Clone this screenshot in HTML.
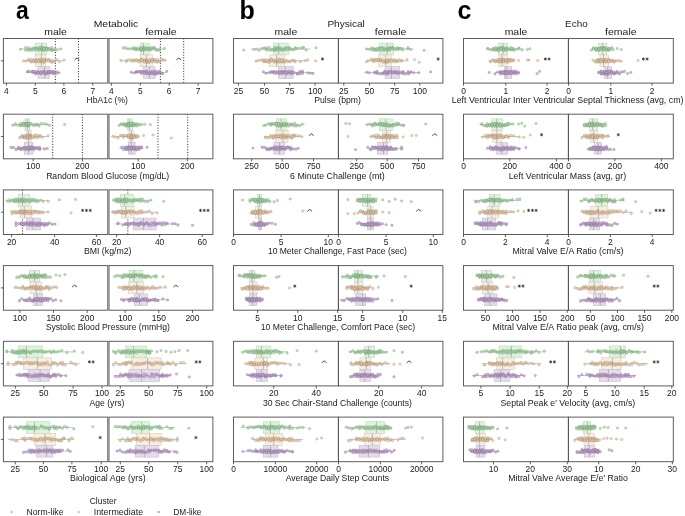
<!DOCTYPE html>
<html><head><meta charset="utf-8"><title>Figure</title>
<style>html,body{margin:0;padding:0;background:#fff;}body{width:685px;height:516px;overflow:hidden;font-family:"Liberation Sans", sans-serif;}svg{display:block;filter:blur(0.5px);}.d circle{r:1.2px;}.d{stroke-width:0.45px;fill-opacity:0.75;stroke-opacity:0.6;}</style>
</head><body>
<svg width="685" height="516" viewBox="0 0 685 516" font-family='"Liberation Sans", sans-serif'>
<rect width="685" height="516" fill="#ffffff"/>
<g>
<line x1="160.4" y1="38.5" x2="160.4" y2="83.1" stroke="#111" stroke-width="0.9" stroke-dasharray="1,1.7"/>
<line x1="183.7" y1="38.5" x2="183.7" y2="83.1" stroke="#111" stroke-width="0.9" stroke-dasharray="1,1.7"/>
<line x1="122.3" y1="49" x2="164.4" y2="49" stroke="#a0a0a0" stroke-width="0.6"/>
<rect x="140.3" y="43.1" width="8.9" height="11.8" fill="#dcf3dc" stroke="#bcd9bc" stroke-width="0.6"/>
<g fill="#a9d9a9" stroke="#6a866a" class="d">
<circle cx="141.3" cy="49.3"/>
<circle cx="141.1" cy="49.9"/>
<circle cx="154.2" cy="47.8"/>
<circle cx="133.3" cy="48.1"/>
<circle cx="159.5" cy="50.4"/>
<circle cx="143.8" cy="49.1"/>
<circle cx="141.5" cy="47.8"/>
<circle cx="144" cy="48.3"/>
<circle cx="149.1" cy="49.5"/>
<circle cx="123.1" cy="47.7"/>
<circle cx="154.1" cy="48.2"/>
<circle cx="136.1" cy="49.4"/>
<circle cx="146.4" cy="48.6"/>
<circle cx="141" cy="49.5"/>
<circle cx="133.7" cy="49.2"/>
<circle cx="143.8" cy="50.1"/>
<circle cx="144" cy="50.1"/>
<circle cx="143.7" cy="47.8"/>
<circle cx="130.6" cy="48.7"/>
<circle cx="135.9" cy="47.9"/>
<circle cx="128" cy="48.8"/>
<circle cx="144" cy="47.9"/>
<circle cx="151.6" cy="47.6"/>
<circle cx="164.4" cy="48.3"/>
<circle cx="149.2" cy="49.8"/>
<circle cx="138.5" cy="49.5"/>
<circle cx="141.3" cy="50.1"/>
<circle cx="154.5" cy="48.9"/>
<circle cx="133.7" cy="47.6"/>
<circle cx="135.9" cy="49.9"/>
<circle cx="151.4" cy="50.1"/>
<circle cx="141.4" cy="47.9"/>
<circle cx="146.7" cy="49.5"/>
<circle cx="125.6" cy="47.6"/>
<circle cx="159.3" cy="49.1"/>
<circle cx="146.4" cy="48.6"/>
<circle cx="146.3" cy="48.2"/>
<circle cx="148.8" cy="48.1"/>
<circle cx="151.5" cy="47.8"/>
<circle cx="143.9" cy="47.5"/>
<circle cx="141.4" cy="49.7"/>
<circle cx="138.5" cy="49.2"/>
<circle cx="149.2" cy="48.7"/>
<circle cx="156.6" cy="50.3"/>
<circle cx="148.8" cy="49.4"/>
<circle cx="141.2" cy="50"/>
<circle cx="146.7" cy="47.9"/>
<circle cx="154" cy="47.8"/>
<circle cx="146.5" cy="48.3"/>
<circle cx="141.1" cy="49.2"/>
<circle cx="156.7" cy="50"/>
<circle cx="141.2" cy="49.5"/>
<circle cx="138.7" cy="47.7"/>
<circle cx="143.9" cy="49.4"/>
</g>
<line x1="143.5" y1="43.1" x2="143.5" y2="54.9" stroke="#999" stroke-width="0.6"/>
<line x1="119.5" y1="60.8" x2="166.8" y2="60.8" stroke="#a0a0a0" stroke-width="0.6"/>
<rect x="140.3" y="54.9" width="12.1" height="11.8" fill="#f7ede1" stroke="#ddcdbb" stroke-width="0.6"/>
<g fill="#ecceab" stroke="#8f7c68" class="d">
<circle cx="159.8" cy="60.9"/>
<circle cx="162.3" cy="59.7"/>
<circle cx="157" cy="62.1"/>
<circle cx="131.4" cy="59.7"/>
<circle cx="136.7" cy="60.6"/>
<circle cx="149.4" cy="59.9"/>
<circle cx="152.2" cy="59.3"/>
<circle cx="131.5" cy="61.2"/>
<circle cx="144.3" cy="60.8"/>
<circle cx="152" cy="59.3"/>
<circle cx="154.4" cy="60.1"/>
<circle cx="146.8" cy="62.1"/>
<circle cx="154.5" cy="59.7"/>
<circle cx="144.3" cy="60.6"/>
<circle cx="157" cy="61.3"/>
<circle cx="136.3" cy="60"/>
<circle cx="134.1" cy="61.2"/>
<circle cx="133.9" cy="59.7"/>
<circle cx="136.6" cy="59.9"/>
<circle cx="152.1" cy="60.8"/>
<circle cx="149.4" cy="62.2"/>
<circle cx="154.8" cy="60.1"/>
<circle cx="149.3" cy="61.4"/>
<circle cx="146.9" cy="62.1"/>
<circle cx="159.6" cy="61.9"/>
<circle cx="144.3" cy="60"/>
<circle cx="147" cy="62.1"/>
<circle cx="144.4" cy="60.8"/>
<circle cx="128.5" cy="59.7"/>
<circle cx="141.9" cy="60.8"/>
<circle cx="146.6" cy="60"/>
<circle cx="141.7" cy="59.3"/>
<circle cx="146.9" cy="61.6"/>
<circle cx="149.3" cy="60.6"/>
<circle cx="139.2" cy="60.3"/>
<circle cx="157.3" cy="61.4"/>
<circle cx="162.3" cy="59.6"/>
<circle cx="121" cy="60.3"/>
<circle cx="126.3" cy="61.4"/>
<circle cx="141.5" cy="59.3"/>
<circle cx="126.3" cy="60.5"/>
<circle cx="144.4" cy="62"/>
<circle cx="141.5" cy="60.7"/>
<circle cx="138.9" cy="60.5"/>
<circle cx="154.6" cy="62"/>
<circle cx="149.3" cy="61.9"/>
<circle cx="146.7" cy="59.6"/>
<circle cx="141.7" cy="60.3"/>
<circle cx="139.1" cy="62"/>
<circle cx="157.4" cy="59.5"/>
<circle cx="149.3" cy="62.1"/>
<circle cx="164.8" cy="59.9"/>
<circle cx="152.3" cy="61.6"/>
<circle cx="144.3" cy="61.6"/>
</g>
<line x1="146.4" y1="54.9" x2="146.4" y2="66.7" stroke="#999" stroke-width="0.6"/>
<line x1="130.7" y1="72.6" x2="166.8" y2="72.6" stroke="#a0a0a0" stroke-width="0.6"/>
<rect x="143.2" y="66.7" width="11.9" height="11.8" fill="#e5dbeb" stroke="#cbbbd4" stroke-width="0.6"/>
<g fill="#c0a2cf" stroke="#7a6a84" class="d">
<circle cx="146.5" cy="71.1"/>
<circle cx="146.9" cy="72.2"/>
<circle cx="141.7" cy="71.5"/>
<circle cx="162.5" cy="73.3"/>
<circle cx="131.2" cy="72.2"/>
<circle cx="144.2" cy="71.5"/>
<circle cx="157" cy="71.4"/>
<circle cx="136.1" cy="71.6"/>
<circle cx="151.9" cy="72.5"/>
<circle cx="138.8" cy="71.3"/>
<circle cx="144.2" cy="72.6"/>
<circle cx="139" cy="71.8"/>
<circle cx="149.1" cy="73.9"/>
<circle cx="151.7" cy="71.7"/>
<circle cx="151.7" cy="73"/>
<circle cx="157.1" cy="73.7"/>
<circle cx="154.8" cy="74.1"/>
<circle cx="152" cy="72.1"/>
<circle cx="146.8" cy="73.9"/>
<circle cx="159.7" cy="73.3"/>
<circle cx="141.6" cy="71.3"/>
<circle cx="154.7" cy="74.1"/>
<circle cx="151.7" cy="73.8"/>
<circle cx="154.4" cy="71.3"/>
<circle cx="136.6" cy="72"/>
<circle cx="159.6" cy="72.1"/>
<circle cx="154.3" cy="73.3"/>
<circle cx="159.9" cy="71.7"/>
<circle cx="159.8" cy="71.8"/>
<circle cx="166.8" cy="71.2"/>
<circle cx="156.9" cy="73.9"/>
<circle cx="141.3" cy="73.5"/>
<circle cx="149.4" cy="72.5"/>
<circle cx="149.3" cy="73.5"/>
<circle cx="136.1" cy="72.2"/>
<circle cx="139.1" cy="71.7"/>
<circle cx="144.2" cy="72.6"/>
<circle cx="154.4" cy="71.3"/>
<circle cx="152" cy="71.9"/>
<circle cx="149.1" cy="72.7"/>
<circle cx="162.3" cy="73.7"/>
<circle cx="134" cy="72.9"/>
<circle cx="159.7" cy="71.4"/>
<circle cx="146.6" cy="71.9"/>
<circle cx="144.3" cy="72.9"/>
<circle cx="146.5" cy="71.2"/>
<circle cx="152" cy="72.9"/>
<circle cx="149.2" cy="73.3"/>
<circle cx="144.2" cy="72.8"/>
<circle cx="144.2" cy="72.6"/>
<circle cx="141.6" cy="72.3"/>
<circle cx="154.7" cy="73.9"/>
<circle cx="146.5" cy="73.1"/>
<circle cx="157" cy="72.9"/>
</g>
<line x1="149.5" y1="66.7" x2="149.5" y2="78.5" stroke="#999" stroke-width="0.6"/>
<polyline points="176.4,59.9 178.8,58 181.2,59.9" fill="none" stroke="#333" stroke-width="0.9" stroke-linejoin="round"/>
<rect x="109" y="38.5" width="103.9" height="44.6" fill="none" stroke="#555" stroke-width="0.95"/>
<line x1="111.4" y1="83.1" x2="111.4" y2="85.7" stroke="#2b2b2b" stroke-width="0.75"/>
<text x="111.4" y="93.5" text-anchor="middle" font-size="8.7" fill="#1a1a1a" textLength="4.7" lengthAdjust="spacingAndGlyphs">4</text>
<line x1="140.3" y1="83.1" x2="140.3" y2="85.7" stroke="#2b2b2b" stroke-width="0.75"/>
<text x="140.3" y="93.5" text-anchor="middle" font-size="8.7" fill="#1a1a1a" textLength="4.7" lengthAdjust="spacingAndGlyphs">5</text>
<line x1="169.2" y1="83.1" x2="169.2" y2="85.7" stroke="#2b2b2b" stroke-width="0.75"/>
<text x="169.2" y="93.5" text-anchor="middle" font-size="8.7" fill="#1a1a1a" textLength="4.7" lengthAdjust="spacingAndGlyphs">6</text>
<line x1="198.1" y1="83.1" x2="198.1" y2="85.7" stroke="#2b2b2b" stroke-width="0.75"/>
<text x="198.1" y="93.5" text-anchor="middle" font-size="8.7" fill="#1a1a1a" textLength="4.7" lengthAdjust="spacingAndGlyphs">7</text>
</g>
<g>
<line x1="158" y1="114.2" x2="158" y2="158.8" stroke="#111" stroke-width="0.9" stroke-dasharray="1,1.7"/>
<line x1="187.7" y1="114.2" x2="187.7" y2="158.8" stroke="#111" stroke-width="0.9" stroke-dasharray="1,1.7"/>
<line x1="119.1" y1="124.7" x2="141.9" y2="124.7" stroke="#a0a0a0" stroke-width="0.6"/>
<rect x="127.5" y="118.8" width="4.8" height="11.8" fill="#dcf3dc" stroke="#bcd9bc" stroke-width="0.6"/>
<g fill="#a9d9a9" stroke="#6a866a" class="d">
<circle cx="131.4" cy="125.3"/>
<circle cx="133.9" cy="125.2"/>
<circle cx="128.6" cy="124.1"/>
<circle cx="126" cy="124.5"/>
<circle cx="131.5" cy="125.3"/>
<circle cx="133.8" cy="123.4"/>
<circle cx="128.6" cy="125.5"/>
<circle cx="131.3" cy="125.5"/>
<circle cx="144.8" cy="124.3"/>
<circle cx="131.4" cy="123.2"/>
<circle cx="131.2" cy="125.1"/>
<circle cx="134.2" cy="126.1"/>
<circle cx="128.6" cy="123.8"/>
<circle cx="139.2" cy="125.1"/>
<circle cx="150.3" cy="124.6"/>
<circle cx="131.4" cy="124"/>
<circle cx="131.4" cy="125.3"/>
<circle cx="126.1" cy="125.6"/>
<circle cx="126.3" cy="124.8"/>
<circle cx="134" cy="124.1"/>
<circle cx="131.6" cy="123.4"/>
<circle cx="126.2" cy="125.1"/>
<circle cx="136.5" cy="125.6"/>
<circle cx="123.5" cy="124"/>
<circle cx="128.6" cy="124.4"/>
<circle cx="131.6" cy="124.7"/>
<circle cx="129" cy="123.9"/>
<circle cx="128.7" cy="124.8"/>
<circle cx="126" cy="126"/>
<circle cx="126.4" cy="123.5"/>
<circle cx="128.7" cy="124.1"/>
<circle cx="128.6" cy="124.8"/>
<circle cx="128.9" cy="123.4"/>
<circle cx="128.8" cy="124.3"/>
<circle cx="123.6" cy="124.9"/>
<circle cx="128.8" cy="124.6"/>
<circle cx="121.1" cy="123.9"/>
<circle cx="136.7" cy="123.8"/>
<circle cx="119.1" cy="125.5"/>
<circle cx="128.6" cy="124.9"/>
<circle cx="133.8" cy="123.4"/>
<circle cx="128.9" cy="126.1"/>
<circle cx="141.9" cy="124.4"/>
<circle cx="121.1" cy="124.2"/>
<circle cx="131.2" cy="123.3"/>
<circle cx="136.8" cy="124.3"/>
<circle cx="128.9" cy="125.7"/>
<circle cx="128.7" cy="124"/>
<circle cx="128.8" cy="124.5"/>
<circle cx="131.2" cy="125"/>
<circle cx="123.8" cy="124.3"/>
<circle cx="136.6" cy="125.9"/>
<circle cx="126.4" cy="126.1"/>
<circle cx="129.1" cy="123.5"/>
<circle cx="123.8" cy="123.8"/>
<circle cx="139.2" cy="124.2"/>
</g>
<line x1="129.4" y1="118.8" x2="129.4" y2="130.6" stroke="#999" stroke-width="0.6"/>
<line x1="111.4" y1="136.5" x2="138.7" y2="136.5" stroke="#a0a0a0" stroke-width="0.6"/>
<rect x="129.1" y="130.6" width="4" height="11.8" fill="#f7ede1" stroke="#ddcdbb" stroke-width="0.6"/>
<g fill="#ecceab" stroke="#8f7c68" class="d">
<circle cx="136.4" cy="135.7"/>
<circle cx="128.8" cy="135.7"/>
<circle cx="134.1" cy="135.9"/>
<circle cx="128.5" cy="136.3"/>
<circle cx="131.4" cy="137.7"/>
<circle cx="131.4" cy="135.4"/>
<circle cx="123.3" cy="135.8"/>
<circle cx="133.9" cy="137.7"/>
<circle cx="128.4" cy="136.9"/>
<circle cx="128.7" cy="137.3"/>
<circle cx="138.7" cy="136.5"/>
<circle cx="131.3" cy="137"/>
<circle cx="136.6" cy="137.3"/>
<circle cx="133.9" cy="135.3"/>
<circle cx="125.9" cy="135.7"/>
<circle cx="131.2" cy="136.2"/>
<circle cx="126.3" cy="135.6"/>
<circle cx="152.9" cy="135"/>
<circle cx="136.4" cy="136.2"/>
<circle cx="133.6" cy="137.8"/>
<circle cx="120.7" cy="135.4"/>
<circle cx="131.2" cy="135.1"/>
<circle cx="131.1" cy="137.4"/>
<circle cx="112.9" cy="136.3"/>
<circle cx="133.7" cy="136.4"/>
<circle cx="133.8" cy="135.4"/>
<circle cx="133.7" cy="136"/>
<circle cx="128.4" cy="135"/>
<circle cx="128.4" cy="136.5"/>
<circle cx="131.3" cy="136.4"/>
<circle cx="115.4" cy="136.9"/>
<circle cx="131" cy="136.7"/>
<circle cx="131" cy="138"/>
<circle cx="133.8" cy="137.5"/>
<circle cx="134" cy="136.9"/>
<circle cx="131.3" cy="137.8"/>
<circle cx="118.2" cy="138"/>
<circle cx="133.7" cy="135.2"/>
<circle cx="131.2" cy="135.5"/>
<circle cx="143.5" cy="135.5"/>
<circle cx="123.6" cy="137.3"/>
<circle cx="131.3" cy="135.2"/>
<circle cx="131.1" cy="138"/>
<circle cx="131.4" cy="136.2"/>
<circle cx="123.3" cy="135.7"/>
<circle cx="121" cy="135.7"/>
<circle cx="123.3" cy="135.8"/>
<circle cx="131.4" cy="137"/>
<circle cx="131.4" cy="137.4"/>
<circle cx="128.7" cy="135.3"/>
<circle cx="171.3" cy="138"/>
<circle cx="136.6" cy="137"/>
<circle cx="134" cy="137.4"/>
<circle cx="136.6" cy="135.6"/>
<circle cx="131.2" cy="135.1"/>
<circle cx="128.7" cy="137.5"/>
<circle cx="131.4" cy="136.2"/>
</g>
<line x1="131.2" y1="130.6" x2="131.2" y2="142.4" stroke="#999" stroke-width="0.6"/>
<line x1="121" y1="148.3" x2="142.7" y2="148.3" stroke="#a0a0a0" stroke-width="0.6"/>
<rect x="128.3" y="142.4" width="6.9" height="11.8" fill="#e5dbeb" stroke="#cbbbd4" stroke-width="0.6"/>
<g fill="#c0a2cf" stroke="#7a6a84" class="d">
<circle cx="139.1" cy="149.3"/>
<circle cx="131.5" cy="147.2"/>
<circle cx="128.5" cy="146.8"/>
<circle cx="134.1" cy="147.3"/>
<circle cx="131.3" cy="147.5"/>
<circle cx="131.1" cy="148.7"/>
<circle cx="126.1" cy="147.3"/>
<circle cx="139.2" cy="147"/>
<circle cx="128.5" cy="149.3"/>
<circle cx="133.8" cy="146.9"/>
<circle cx="121" cy="147.6"/>
<circle cx="128.5" cy="147.9"/>
<circle cx="128.5" cy="147.5"/>
<circle cx="128.5" cy="147.2"/>
<circle cx="126" cy="149.4"/>
<circle cx="128.9" cy="147.5"/>
<circle cx="134" cy="148.2"/>
<circle cx="128.7" cy="148.6"/>
<circle cx="133.8" cy="149"/>
<circle cx="126.3" cy="147.3"/>
<circle cx="134.1" cy="149"/>
<circle cx="126.1" cy="147.9"/>
<circle cx="139.3" cy="148.1"/>
<circle cx="131.5" cy="149"/>
<circle cx="131.4" cy="146.8"/>
<circle cx="131.4" cy="148.3"/>
<circle cx="128.8" cy="148.2"/>
<circle cx="136.7" cy="147.4"/>
<circle cx="131.2" cy="148.7"/>
<circle cx="131.5" cy="146.9"/>
<circle cx="141.9" cy="147.8"/>
<circle cx="136.4" cy="149.5"/>
<circle cx="126.4" cy="148.7"/>
<circle cx="134.1" cy="148.9"/>
<circle cx="128.8" cy="147.7"/>
<circle cx="128.7" cy="148.3"/>
<circle cx="126.1" cy="149.4"/>
<circle cx="131.1" cy="148.7"/>
<circle cx="136.3" cy="147.6"/>
<circle cx="134" cy="148.9"/>
<circle cx="128.8" cy="149.7"/>
<circle cx="131.4" cy="148"/>
<circle cx="133.7" cy="147.5"/>
<circle cx="136.4" cy="149.4"/>
<circle cx="139.2" cy="148.8"/>
<circle cx="125.9" cy="148.4"/>
<circle cx="139.1" cy="147.7"/>
<circle cx="141.5" cy="146.9"/>
<circle cx="133.9" cy="148.1"/>
<circle cx="136.5" cy="147.6"/>
<circle cx="136.6" cy="149.6"/>
<circle cx="126.3" cy="147.6"/>
<circle cx="123.3" cy="149.6"/>
<circle cx="147" cy="147.2"/>
<circle cx="123.4" cy="146.9"/>
</g>
<line x1="131.2" y1="142.4" x2="131.2" y2="154.2" stroke="#999" stroke-width="0.6"/>
<rect x="109" y="114.2" width="103.9" height="44.6" fill="none" stroke="#555" stroke-width="0.95"/>
<line x1="138.2" y1="158.8" x2="138.2" y2="161.4" stroke="#2b2b2b" stroke-width="0.75"/>
<text x="138.2" y="169.2" text-anchor="middle" font-size="8.7" fill="#1a1a1a" textLength="14.2" lengthAdjust="spacingAndGlyphs">100</text>
<line x1="187.4" y1="158.8" x2="187.4" y2="161.4" stroke="#2b2b2b" stroke-width="0.75"/>
<text x="187.4" y="169.2" text-anchor="middle" font-size="8.7" fill="#1a1a1a" textLength="14.2" lengthAdjust="spacingAndGlyphs">200</text>
</g>
<g>
<line x1="127.8" y1="189.9" x2="127.8" y2="234.5" stroke="#111" stroke-width="0.9" stroke-dasharray="1,1.7"/>
<line x1="112.7" y1="200.4" x2="152.4" y2="200.4" stroke="#a0a0a0" stroke-width="0.6"/>
<rect x="120.3" y="194.5" width="13.1" height="11.8" fill="#dcf3dc" stroke="#bcd9bc" stroke-width="0.6"/>
<g fill="#a9d9a9" stroke="#6a866a" class="d">
<circle cx="147.8" cy="201.8"/>
<circle cx="137.3" cy="200.2"/>
<circle cx="114.2" cy="200"/>
<circle cx="124.3" cy="199.5"/>
<circle cx="119.1" cy="201"/>
<circle cx="132.3" cy="201.6"/>
<circle cx="121.8" cy="201.2"/>
<circle cx="137.5" cy="200.1"/>
<circle cx="126.8" cy="201.8"/>
<circle cx="129.7" cy="200.3"/>
<circle cx="127.1" cy="199.2"/>
<circle cx="119" cy="200.8"/>
<circle cx="119.1" cy="201.7"/>
<circle cx="119.3" cy="200"/>
<circle cx="121.9" cy="200.9"/>
<circle cx="127.1" cy="200.2"/>
<circle cx="119.2" cy="201.6"/>
<circle cx="119.4" cy="201"/>
<circle cx="124.3" cy="201.8"/>
<circle cx="163.6" cy="201.2"/>
<circle cx="140.3" cy="199"/>
<circle cx="142.6" cy="201.1"/>
<circle cx="121.7" cy="201.6"/>
<circle cx="127" cy="201.9"/>
<circle cx="121.9" cy="201.1"/>
<circle cx="116.6" cy="199.6"/>
<circle cx="150.5" cy="200.1"/>
<circle cx="135" cy="201.1"/>
<circle cx="116.9" cy="198.9"/>
<circle cx="132.4" cy="200.2"/>
<circle cx="127" cy="199"/>
<circle cx="129.8" cy="201"/>
<circle cx="129.7" cy="200.1"/>
<circle cx="137.6" cy="199.5"/>
<circle cx="121.7" cy="199.4"/>
<circle cx="119.4" cy="199"/>
<circle cx="116.6" cy="201.3"/>
<circle cx="139.8" cy="201.3"/>
<circle cx="132.3" cy="200.2"/>
<circle cx="145.3" cy="201.4"/>
<circle cx="134.9" cy="199.2"/>
<circle cx="124.4" cy="199.4"/>
<circle cx="116.4" cy="199.5"/>
<circle cx="113.8" cy="200.2"/>
<circle cx="142.6" cy="199.2"/>
<circle cx="124.2" cy="199.7"/>
<circle cx="124.5" cy="201.4"/>
<circle cx="121.8" cy="200.5"/>
<circle cx="121.8" cy="201.6"/>
<circle cx="116.4" cy="201.4"/>
<circle cx="134.9" cy="200.3"/>
<circle cx="124.2" cy="200.3"/>
<circle cx="132.3" cy="201.5"/>
<circle cx="140.2" cy="200.1"/>
<circle cx="119.2" cy="200"/>
</g>
<line x1="124.6" y1="194.5" x2="124.6" y2="206.3" stroke="#999" stroke-width="0.6"/>
<line x1="111.4" y1="212.2" x2="157.2" y2="212.2" stroke="#a0a0a0" stroke-width="0.6"/>
<rect x="121.5" y="206.3" width="12.7" height="11.8" fill="#f7ede1" stroke="#ddcdbb" stroke-width="0.6"/>
<g fill="#ecceab" stroke="#8f7c68" class="d">
<circle cx="141.6" cy="212.8"/>
<circle cx="120.9" cy="212.5"/>
<circle cx="115.6" cy="211.9"/>
<circle cx="123.4" cy="212.4"/>
<circle cx="125.9" cy="212"/>
<circle cx="134" cy="212.1"/>
<circle cx="139" cy="211"/>
<circle cx="152.1" cy="213.7"/>
<circle cx="123.3" cy="212.5"/>
<circle cx="123.4" cy="213.7"/>
<circle cx="123.3" cy="211.7"/>
<circle cx="120.9" cy="212.6"/>
<circle cx="133.6" cy="212.2"/>
<circle cx="136.2" cy="212.6"/>
<circle cx="128.8" cy="211.7"/>
<circle cx="131.3" cy="211.9"/>
<circle cx="131.2" cy="211"/>
<circle cx="121" cy="212.7"/>
<circle cx="128.6" cy="211.1"/>
<circle cx="131.4" cy="211.1"/>
<circle cx="123.5" cy="211.6"/>
<circle cx="141.5" cy="210.8"/>
<circle cx="115.4" cy="213.4"/>
<circle cx="115.7" cy="211.7"/>
<circle cx="126" cy="213"/>
<circle cx="123.3" cy="211.8"/>
<circle cx="125.8" cy="210.9"/>
<circle cx="126.3" cy="213.1"/>
<circle cx="128.6" cy="211.7"/>
<circle cx="157.1" cy="213"/>
<circle cx="128.5" cy="211.7"/>
<circle cx="121.1" cy="211"/>
<circle cx="126.2" cy="212.4"/>
<circle cx="120.7" cy="212"/>
<circle cx="123.7" cy="212.8"/>
<circle cx="113" cy="212.2"/>
<circle cx="144.3" cy="212.3"/>
<circle cx="118.4" cy="211.3"/>
<circle cx="147" cy="212"/>
<circle cx="141.7" cy="212.4"/>
<circle cx="149.4" cy="210.9"/>
<circle cx="118.1" cy="212.5"/>
<circle cx="136.3" cy="212.7"/>
<circle cx="138.8" cy="213.3"/>
<circle cx="125.8" cy="212.7"/>
<circle cx="113.2" cy="211.8"/>
<circle cx="133.8" cy="211.2"/>
<circle cx="118.4" cy="211.3"/>
<circle cx="120.8" cy="211.4"/>
<circle cx="128.4" cy="211.6"/>
<circle cx="136.5" cy="213.3"/>
<circle cx="118.3" cy="211.8"/>
<circle cx="118.3" cy="211.3"/>
<circle cx="131" cy="213.7"/>
</g>
<line x1="125.9" y1="206.3" x2="125.9" y2="218.1" stroke="#999" stroke-width="0.6"/>
<line x1="115" y1="224" x2="179.7" y2="224" stroke="#a0a0a0" stroke-width="0.6"/>
<rect x="133.4" y="218.1" width="22.7" height="11.8" fill="#e5dbeb" stroke="#cbbbd4" stroke-width="0.6"/>
<g fill="#c0a2cf" stroke="#7a6a84" class="d">
<circle cx="144" cy="225.1"/>
<circle cx="148.8" cy="223.9"/>
<circle cx="157" cy="224"/>
<circle cx="138.4" cy="223.7"/>
<circle cx="125.8" cy="223.9"/>
<circle cx="175" cy="223.7"/>
<circle cx="154" cy="222.6"/>
<circle cx="136" cy="224.1"/>
<circle cx="130.7" cy="223.3"/>
<circle cx="167.3" cy="223.8"/>
<circle cx="143.7" cy="224.2"/>
<circle cx="154.3" cy="224"/>
<circle cx="146.5" cy="222.8"/>
<circle cx="136.2" cy="224.2"/>
<circle cx="117.9" cy="223.9"/>
<circle cx="151.5" cy="225.5"/>
<circle cx="192.5" cy="225.2"/>
<circle cx="138.7" cy="225.5"/>
<circle cx="133.3" cy="222.9"/>
<circle cx="159.5" cy="223"/>
<circle cx="141.1" cy="222.8"/>
<circle cx="156.7" cy="223.2"/>
<circle cx="161.8" cy="225.3"/>
<circle cx="136" cy="223.7"/>
<circle cx="151.7" cy="222.9"/>
<circle cx="141.1" cy="222.7"/>
<circle cx="125.7" cy="224.5"/>
<circle cx="157" cy="224.6"/>
<circle cx="149.2" cy="224.2"/>
<circle cx="148.9" cy="225.3"/>
<circle cx="167" cy="223.1"/>
<circle cx="130.8" cy="223.6"/>
<circle cx="177.8" cy="225.3"/>
<circle cx="128" cy="223"/>
<circle cx="146.3" cy="222.6"/>
<circle cx="164.6" cy="222.8"/>
<circle cx="138.8" cy="224.3"/>
<circle cx="138.6" cy="224.1"/>
<circle cx="159.6" cy="223.6"/>
<circle cx="164.6" cy="224.7"/>
<circle cx="118.1" cy="222.9"/>
<circle cx="141.1" cy="224"/>
<circle cx="128.3" cy="225.1"/>
<circle cx="144" cy="224"/>
<circle cx="128.3" cy="225.4"/>
<circle cx="141.2" cy="223.3"/>
<circle cx="154.4" cy="225.1"/>
<circle cx="125.7" cy="223.5"/>
<circle cx="133.7" cy="223"/>
<circle cx="130.7" cy="223.9"/>
<circle cx="122.9" cy="224.9"/>
<circle cx="172.4" cy="223.6"/>
<circle cx="133.6" cy="224.8"/>
<circle cx="162.2" cy="222.7"/>
<circle cx="146.4" cy="223.9"/>
</g>
<line x1="143.5" y1="218.1" x2="143.5" y2="229.9" stroke="#999" stroke-width="0.6"/>
<path d="M200.5 208.8v3.2M199.1 209.6l2.8 1.6M199.1 211.2l2.8 -1.6" stroke="#2a2a2a" stroke-width="0.75" fill="none"/>
<path d="M204.2 208.8v3.2M202.8 209.6l2.8 1.6M202.8 211.2l2.8 -1.6" stroke="#2a2a2a" stroke-width="0.75" fill="none"/>
<path d="M208 208.8v3.2M206.6 209.6l2.8 1.6M206.6 211.2l2.8 -1.6" stroke="#2a2a2a" stroke-width="0.75" fill="none"/>
<rect x="109" y="189.9" width="103.9" height="44.6" fill="none" stroke="#555" stroke-width="0.95"/>
<line x1="116.6" y1="234.5" x2="116.6" y2="237.1" stroke="#2b2b2b" stroke-width="0.75"/>
<text x="116.6" y="244.9" text-anchor="middle" font-size="8.7" fill="#1a1a1a" textLength="9.4" lengthAdjust="spacingAndGlyphs">20</text>
<line x1="159.6" y1="234.5" x2="159.6" y2="237.1" stroke="#2b2b2b" stroke-width="0.75"/>
<text x="159.6" y="244.9" text-anchor="middle" font-size="8.7" fill="#1a1a1a" textLength="9.4" lengthAdjust="spacingAndGlyphs">40</text>
<line x1="202.2" y1="234.5" x2="202.2" y2="237.1" stroke="#2b2b2b" stroke-width="0.75"/>
<text x="202.2" y="244.9" text-anchor="middle" font-size="8.7" fill="#1a1a1a" textLength="9.4" lengthAdjust="spacingAndGlyphs">60</text>
</g>
<g>
<line x1="114.3" y1="276.1" x2="158" y2="276.1" stroke="#a0a0a0" stroke-width="0.6"/>
<rect x="129.1" y="270.2" width="13.6" height="11.8" fill="#dcf3dc" stroke="#bcd9bc" stroke-width="0.6"/>
<g fill="#a9d9a9" stroke="#6a866a" class="d">
<circle cx="145.8" cy="277"/>
<circle cx="116.9" cy="275.5"/>
<circle cx="132.4" cy="275.2"/>
<circle cx="135.3" cy="274.8"/>
<circle cx="132.7" cy="277.1"/>
<circle cx="137.5" cy="274.9"/>
<circle cx="132.5" cy="276.2"/>
<circle cx="140.3" cy="275.5"/>
<circle cx="148.1" cy="276.2"/>
<circle cx="132.5" cy="276.8"/>
<circle cx="127.1" cy="276.5"/>
<circle cx="127.5" cy="275.2"/>
<circle cx="143.2" cy="277"/>
<circle cx="135.2" cy="276.2"/>
<circle cx="132.5" cy="275.1"/>
<circle cx="140.5" cy="275.1"/>
<circle cx="143.1" cy="276.2"/>
<circle cx="140.1" cy="275"/>
<circle cx="124.8" cy="275.2"/>
<circle cx="140.3" cy="275"/>
<circle cx="135.4" cy="275.3"/>
<circle cx="129.8" cy="275.3"/>
<circle cx="127.6" cy="275.3"/>
<circle cx="145.4" cy="275.6"/>
<circle cx="148" cy="275.9"/>
<circle cx="156.1" cy="277.3"/>
<circle cx="134.9" cy="275.4"/>
<circle cx="122" cy="277.3"/>
<circle cx="145.7" cy="277.2"/>
<circle cx="156" cy="275.4"/>
<circle cx="130" cy="277.1"/>
<circle cx="122.3" cy="275.5"/>
<circle cx="163.1" cy="276.7"/>
<circle cx="137.6" cy="274.7"/>
<circle cx="122.4" cy="277.4"/>
<circle cx="148.1" cy="276.1"/>
<circle cx="127.2" cy="275.2"/>
<circle cx="132.6" cy="274.6"/>
<circle cx="130.1" cy="276.1"/>
<circle cx="145.6" cy="277.5"/>
<circle cx="130.1" cy="276.1"/>
<circle cx="150.6" cy="277.5"/>
<circle cx="129.8" cy="274.8"/>
<circle cx="135.4" cy="276.1"/>
<circle cx="114.5" cy="276.6"/>
<circle cx="137.8" cy="276.2"/>
<circle cx="124.6" cy="274.6"/>
<circle cx="129.9" cy="276.8"/>
<circle cx="124.5" cy="277.1"/>
<circle cx="143.1" cy="275.1"/>
<circle cx="119.4" cy="275.7"/>
<circle cx="153.6" cy="276.5"/>
<circle cx="140.1" cy="277.2"/>
<circle cx="143.2" cy="275.8"/>
<circle cx="130.1" cy="275.6"/>
</g>
<line x1="134.2" y1="270.2" x2="134.2" y2="282" stroke="#999" stroke-width="0.6"/>
<line x1="118.7" y1="287.9" x2="166.8" y2="287.9" stroke="#a0a0a0" stroke-width="0.6"/>
<rect x="128.6" y="282" width="14.9" height="11.8" fill="#f7ede1" stroke="#ddcdbb" stroke-width="0.6"/>
<g fill="#ecceab" stroke="#8f7c68" class="d">
<circle cx="126.6" cy="288.9"/>
<circle cx="144.8" cy="288.5"/>
<circle cx="129" cy="288.8"/>
<circle cx="147.3" cy="288.2"/>
<circle cx="152.5" cy="286.4"/>
<circle cx="134.2" cy="286.7"/>
<circle cx="126.2" cy="287.1"/>
<circle cx="139.3" cy="288.1"/>
<circle cx="160" cy="286.9"/>
<circle cx="131.6" cy="289.3"/>
<circle cx="152.6" cy="288.2"/>
<circle cx="123.9" cy="286.9"/>
<circle cx="134.1" cy="288.8"/>
<circle cx="149.7" cy="288.8"/>
<circle cx="142" cy="288.3"/>
<circle cx="144.4" cy="287.3"/>
<circle cx="142.2" cy="289.3"/>
<circle cx="134.1" cy="286.9"/>
<circle cx="136.7" cy="289"/>
<circle cx="154.9" cy="288.4"/>
<circle cx="139.3" cy="289.3"/>
<circle cx="139.4" cy="288"/>
<circle cx="137" cy="287"/>
<circle cx="131.6" cy="287.6"/>
<circle cx="136.8" cy="287.9"/>
<circle cx="126.3" cy="287.8"/>
<circle cx="121.2" cy="287.6"/>
<circle cx="150" cy="288.3"/>
<circle cx="157.8" cy="288.2"/>
<circle cx="131.6" cy="288.6"/>
<circle cx="129.2" cy="286.8"/>
<circle cx="129.1" cy="288.7"/>
<circle cx="154.8" cy="287.9"/>
<circle cx="123.7" cy="289.4"/>
<circle cx="124" cy="287.8"/>
<circle cx="141.8" cy="287.4"/>
<circle cx="123.5" cy="287.5"/>
<circle cx="165.2" cy="286.7"/>
<circle cx="131.6" cy="288.8"/>
<circle cx="134.2" cy="287.8"/>
<circle cx="128.7" cy="288.7"/>
<circle cx="126.5" cy="286.9"/>
<circle cx="131.5" cy="288.1"/>
<circle cx="141.9" cy="288"/>
<circle cx="147.2" cy="287"/>
<circle cx="118.7" cy="287.2"/>
<circle cx="144.8" cy="289.1"/>
<circle cx="123.7" cy="288.1"/>
<circle cx="137" cy="286.5"/>
<circle cx="142.2" cy="288"/>
<circle cx="139.5" cy="288.1"/>
<circle cx="139.3" cy="287.5"/>
<circle cx="139.4" cy="286.7"/>
<circle cx="126.3" cy="288.5"/>
</g>
<line x1="136.8" y1="282" x2="136.8" y2="293.8" stroke="#999" stroke-width="0.6"/>
<line x1="120.3" y1="299.7" x2="167.6" y2="299.7" stroke="#a0a0a0" stroke-width="0.6"/>
<rect x="134.4" y="293.8" width="13.2" height="11.8" fill="#e5dbeb" stroke="#cbbbd4" stroke-width="0.6"/>
<g fill="#c0a2cf" stroke="#7a6a84" class="d">
<circle cx="155.2" cy="299.3"/>
<circle cx="147.4" cy="301"/>
<circle cx="139.4" cy="300.4"/>
<circle cx="136.8" cy="300.9"/>
<circle cx="144.6" cy="299.1"/>
<circle cx="123.7" cy="300.8"/>
<circle cx="139.5" cy="300.8"/>
<circle cx="134.4" cy="300"/>
<circle cx="137" cy="299.4"/>
<circle cx="139.8" cy="300.7"/>
<circle cx="142.4" cy="298.8"/>
<circle cx="123.8" cy="299.4"/>
<circle cx="147.4" cy="298.9"/>
<circle cx="129.4" cy="299.9"/>
<circle cx="144.7" cy="300.1"/>
<circle cx="149.9" cy="300.6"/>
<circle cx="150.2" cy="300.3"/>
<circle cx="129.1" cy="299.3"/>
<circle cx="144.8" cy="300.1"/>
<circle cx="136.8" cy="300.5"/>
<circle cx="136.8" cy="298.3"/>
<circle cx="157.8" cy="300.3"/>
<circle cx="131.6" cy="298.6"/>
<circle cx="139.6" cy="300.1"/>
<circle cx="167.6" cy="299.9"/>
<circle cx="137.1" cy="298.3"/>
<circle cx="129.1" cy="300.8"/>
<circle cx="134.3" cy="298.8"/>
<circle cx="147.5" cy="300.2"/>
<circle cx="152.8" cy="300.1"/>
<circle cx="121.3" cy="299.4"/>
<circle cx="142.4" cy="299.4"/>
<circle cx="152.8" cy="299.5"/>
<circle cx="142.3" cy="300.3"/>
<circle cx="141.9" cy="300.3"/>
<circle cx="144.9" cy="298.7"/>
<circle cx="131.6" cy="298.3"/>
<circle cx="136.8" cy="300.8"/>
<circle cx="134.3" cy="298.9"/>
<circle cx="129.2" cy="301.1"/>
<circle cx="139.4" cy="300.7"/>
<circle cx="150.1" cy="300"/>
<circle cx="137.1" cy="300.6"/>
<circle cx="157.8" cy="300.8"/>
<circle cx="126.7" cy="299.4"/>
<circle cx="155.1" cy="299.3"/>
<circle cx="137" cy="299.6"/>
<circle cx="162.9" cy="298.8"/>
<circle cx="134.4" cy="301.1"/>
<circle cx="147.4" cy="301"/>
<circle cx="155.2" cy="300.8"/>
<circle cx="131.8" cy="300.6"/>
<circle cx="144.8" cy="298.9"/>
<circle cx="134.3" cy="300.6"/>
</g>
<line x1="139.5" y1="293.8" x2="139.5" y2="305.6" stroke="#999" stroke-width="0.6"/>
<polyline points="173.5,287 175.9,285.1 178.3,287" fill="none" stroke="#333" stroke-width="0.9" stroke-linejoin="round"/>
<rect x="109" y="265.6" width="103.9" height="44.6" fill="none" stroke="#555" stroke-width="0.95"/>
<line x1="125.1" y1="310.3" x2="125.1" y2="312.9" stroke="#2b2b2b" stroke-width="0.75"/>
<text x="125.1" y="320.7" text-anchor="middle" font-size="8.7" fill="#1a1a1a" textLength="14.2" lengthAdjust="spacingAndGlyphs">100</text>
<line x1="158.8" y1="310.3" x2="158.8" y2="312.9" stroke="#2b2b2b" stroke-width="0.75"/>
<text x="158.8" y="320.7" text-anchor="middle" font-size="8.7" fill="#1a1a1a" textLength="14.2" lengthAdjust="spacingAndGlyphs">150</text>
<line x1="192.5" y1="310.3" x2="192.5" y2="312.9" stroke="#2b2b2b" stroke-width="0.75"/>
<text x="192.5" y="320.7" text-anchor="middle" font-size="8.7" fill="#1a1a1a" textLength="14.2" lengthAdjust="spacingAndGlyphs">200</text>
</g>
<g>
<line x1="112.2" y1="351.9" x2="151.6" y2="351.9" stroke="#a0a0a0" stroke-width="0.6"/>
<rect x="125.6" y="346" width="20.8" height="11.8" fill="#dcf3dc" stroke="#bcd9bc" stroke-width="0.6"/>
<g fill="#a9d9a9" stroke="#6a866a" class="d">
<circle cx="149.5" cy="353.2"/>
<circle cx="128.8" cy="353.1"/>
<circle cx="175" cy="351.6"/>
<circle cx="131.3" cy="351"/>
<circle cx="133.9" cy="350.8"/>
<circle cx="128.6" cy="352.5"/>
<circle cx="123.6" cy="352.5"/>
<circle cx="149.5" cy="352.9"/>
<circle cx="121.1" cy="351.8"/>
<circle cx="149.4" cy="352.4"/>
<circle cx="179" cy="350.5"/>
<circle cx="141.8" cy="351.3"/>
<circle cx="146.7" cy="352.1"/>
<circle cx="149.6" cy="350.8"/>
<circle cx="144.3" cy="350.8"/>
<circle cx="136.2" cy="350.4"/>
<circle cx="147.1" cy="351.4"/>
<circle cx="126" cy="352.2"/>
<circle cx="120.9" cy="353.2"/>
<circle cx="171" cy="352.2"/>
<circle cx="151.6" cy="350.9"/>
<circle cx="149.5" cy="352.9"/>
<circle cx="146.8" cy="351.1"/>
<circle cx="115.6" cy="353.2"/>
<circle cx="136.2" cy="352.8"/>
<circle cx="166" cy="351.5"/>
<circle cx="133.6" cy="352.2"/>
<circle cx="187.7" cy="350.5"/>
<circle cx="128.5" cy="350.5"/>
<circle cx="123.4" cy="350.8"/>
<circle cx="118.3" cy="350.5"/>
<circle cx="141.7" cy="350.6"/>
<circle cx="115.6" cy="352.1"/>
<circle cx="139.1" cy="351.8"/>
<circle cx="157" cy="351.8"/>
<circle cx="139.1" cy="350.8"/>
<circle cx="139.1" cy="351.6"/>
<circle cx="147.1" cy="351"/>
<circle cx="126.1" cy="351.4"/>
<circle cx="149.6" cy="352.6"/>
<circle cx="125.9" cy="353.1"/>
<circle cx="113.3" cy="351.3"/>
<circle cx="131.3" cy="352.2"/>
<circle cx="131.2" cy="353.3"/>
<circle cx="123.3" cy="352.6"/>
<circle cx="131.1" cy="350.8"/>
<circle cx="146.7" cy="351.7"/>
<circle cx="161" cy="350.6"/>
<circle cx="141.7" cy="351.6"/>
<circle cx="126.3" cy="351.9"/>
<circle cx="146.7" cy="352.6"/>
<circle cx="120.8" cy="352.6"/>
<circle cx="133.6" cy="352.5"/>
<circle cx="123.3" cy="351.2"/>
<circle cx="146.7" cy="352.4"/>
<circle cx="121" cy="351.3"/>
<circle cx="128.6" cy="350.5"/>
<circle cx="136.3" cy="352.5"/>
<circle cx="126.2" cy="350.7"/>
<circle cx="144.3" cy="352.3"/>
<circle cx="146.7" cy="352.9"/>
</g>
<line x1="133.6" y1="346" x2="133.6" y2="357.8" stroke="#999" stroke-width="0.6"/>
<line x1="112.2" y1="363.7" x2="186.9" y2="363.7" stroke="#a0a0a0" stroke-width="0.6"/>
<rect x="131.2" y="357.8" width="30" height="11.8" fill="#f7ede1" stroke="#ddcdbb" stroke-width="0.6"/>
<g fill="#ecceab" stroke="#8f7c68" class="d">
<circle cx="152" cy="363.9"/>
<circle cx="162.8" cy="364"/>
<circle cx="167.9" cy="363.4"/>
<circle cx="128.7" cy="362.2"/>
<circle cx="126.3" cy="362.4"/>
<circle cx="115.7" cy="362.6"/>
<circle cx="162.8" cy="364.8"/>
<circle cx="123.8" cy="363.3"/>
<circle cx="170.4" cy="363.9"/>
<circle cx="136.7" cy="363.2"/>
<circle cx="167.7" cy="362.3"/>
<circle cx="146.8" cy="362.2"/>
<circle cx="131.5" cy="363"/>
<circle cx="173" cy="362.2"/>
<circle cx="175.7" cy="364.3"/>
<circle cx="144.3" cy="362.9"/>
<circle cx="175.6" cy="365.1"/>
<circle cx="149.5" cy="362.7"/>
<circle cx="167.7" cy="363.1"/>
<circle cx="131.6" cy="362.3"/>
<circle cx="126.1" cy="364.8"/>
<circle cx="144.6" cy="363.6"/>
<circle cx="170.2" cy="364"/>
<circle cx="128.7" cy="362.2"/>
<circle cx="139.3" cy="363.1"/>
<circle cx="120.8" cy="364.6"/>
<circle cx="134" cy="365"/>
<circle cx="152.4" cy="363.9"/>
<circle cx="113.4" cy="365"/>
<circle cx="126" cy="362.7"/>
<circle cx="123.5" cy="363.6"/>
<circle cx="154.7" cy="364.5"/>
<circle cx="183.5" cy="362.4"/>
<circle cx="136.8" cy="364.5"/>
<circle cx="149.5" cy="363.1"/>
<circle cx="139.3" cy="364.8"/>
<circle cx="118.6" cy="364.6"/>
<circle cx="152.2" cy="365"/>
<circle cx="136.4" cy="363.8"/>
<circle cx="160.1" cy="362.7"/>
<circle cx="131.4" cy="362.9"/>
<circle cx="141.9" cy="363.7"/>
<circle cx="157.2" cy="362.6"/>
<circle cx="159.9" cy="364"/>
<circle cx="162.4" cy="362.7"/>
<circle cx="126.2" cy="363.9"/>
<circle cx="157.6" cy="363"/>
<circle cx="157.5" cy="362.8"/>
<circle cx="165.4" cy="364.1"/>
<circle cx="155" cy="362.4"/>
<circle cx="141.7" cy="363.8"/>
<circle cx="149.6" cy="363.5"/>
<circle cx="144.2" cy="363.2"/>
<circle cx="180.6" cy="362.6"/>
</g>
<line x1="147.6" y1="357.8" x2="147.6" y2="369.6" stroke="#999" stroke-width="0.6"/>
<line x1="113.8" y1="375.5" x2="170.8" y2="375.5" stroke="#a0a0a0" stroke-width="0.6"/>
<rect x="129.1" y="369.6" width="30.5" height="11.8" fill="#e5dbeb" stroke="#cbbbd4" stroke-width="0.6"/>
<g fill="#c0a2cf" stroke="#7a6a84" class="d">
<circle cx="120.6" cy="374"/>
<circle cx="115.3" cy="376.5"/>
<circle cx="125.6" cy="375"/>
<circle cx="151.8" cy="374"/>
<circle cx="133.5" cy="374.4"/>
<circle cx="144.1" cy="374.1"/>
<circle cx="189.3" cy="376.9"/>
<circle cx="167.3" cy="375"/>
<circle cx="159.5" cy="375.6"/>
<circle cx="131.1" cy="374.6"/>
<circle cx="149.1" cy="376.5"/>
<circle cx="156.8" cy="374.1"/>
<circle cx="120.4" cy="376.3"/>
<circle cx="123" cy="375.9"/>
<circle cx="136.2" cy="376.4"/>
<circle cx="146.6" cy="375.6"/>
<circle cx="141.4" cy="376.1"/>
<circle cx="128.5" cy="374.4"/>
<circle cx="128.3" cy="376.9"/>
<circle cx="118.1" cy="376.7"/>
<circle cx="138.6" cy="376.6"/>
<circle cx="162.2" cy="376.1"/>
<circle cx="141.2" cy="375.8"/>
<circle cx="164.7" cy="375.6"/>
<circle cx="144.1" cy="376.9"/>
<circle cx="136.1" cy="375"/>
<circle cx="125.5" cy="374"/>
<circle cx="128.3" cy="376.8"/>
<circle cx="141.1" cy="375.7"/>
<circle cx="123" cy="375.1"/>
<circle cx="167.3" cy="376.4"/>
<circle cx="128.1" cy="374"/>
<circle cx="138.8" cy="376"/>
<circle cx="164.7" cy="376"/>
<circle cx="164.8" cy="375.4"/>
<circle cx="125.7" cy="374.8"/>
<circle cx="162.3" cy="375.9"/>
<circle cx="154.5" cy="374.5"/>
<circle cx="162.2" cy="374.1"/>
<circle cx="154.5" cy="376.8"/>
<circle cx="151.5" cy="376.9"/>
<circle cx="138.7" cy="375.1"/>
<circle cx="146.3" cy="374.6"/>
<circle cx="162" cy="375.5"/>
<circle cx="131.1" cy="376.5"/>
<circle cx="176.5" cy="374.1"/>
<circle cx="130.8" cy="374.9"/>
<circle cx="170.1" cy="375"/>
<circle cx="151.9" cy="374.6"/>
<circle cx="159.8" cy="376.2"/>
<circle cx="123.3" cy="376"/>
<circle cx="136.3" cy="374.4"/>
<circle cx="162.3" cy="376.6"/>
<circle cx="159.3" cy="376.2"/>
<circle cx="156.8" cy="374.9"/>
<circle cx="133.3" cy="376.3"/>
</g>
<line x1="141.6" y1="369.6" x2="141.6" y2="381.4" stroke="#999" stroke-width="0.6"/>
<path d="M196.2 360.3v3.2M194.8 361.1l2.8 1.6M194.8 362.7l2.8 -1.6" stroke="#2a2a2a" stroke-width="0.75" fill="none"/>
<path d="M199.9 360.3v3.2M198.5 361.1l2.8 1.6M198.5 362.7l2.8 -1.6" stroke="#2a2a2a" stroke-width="0.75" fill="none"/>
<rect x="109" y="341.3" width="103.9" height="44.6" fill="none" stroke="#555" stroke-width="0.95"/>
<line x1="120.3" y1="386" x2="120.3" y2="388.6" stroke="#2b2b2b" stroke-width="0.75"/>
<text x="120.3" y="396.4" text-anchor="middle" font-size="8.7" fill="#1a1a1a" textLength="9.4" lengthAdjust="spacingAndGlyphs">25</text>
<line x1="148.8" y1="386" x2="148.8" y2="388.6" stroke="#2b2b2b" stroke-width="0.75"/>
<text x="148.8" y="396.4" text-anchor="middle" font-size="8.7" fill="#1a1a1a" textLength="9.4" lengthAdjust="spacingAndGlyphs">50</text>
<line x1="177.7" y1="386" x2="177.7" y2="388.6" stroke="#2b2b2b" stroke-width="0.75"/>
<text x="177.7" y="396.4" text-anchor="middle" font-size="8.7" fill="#1a1a1a" textLength="9.4" lengthAdjust="spacingAndGlyphs">75</text>
<line x1="206.7" y1="386" x2="206.7" y2="388.6" stroke="#2b2b2b" stroke-width="0.75"/>
<text x="206.7" y="396.4" text-anchor="middle" font-size="8.7" fill="#1a1a1a" textLength="14.2" lengthAdjust="spacingAndGlyphs">100</text>
</g>
<g>
<line x1="114.6" y1="427.6" x2="174.9" y2="427.6" stroke="#a0a0a0" stroke-width="0.6"/>
<rect x="131.2" y="421.7" width="18.3" height="11.8" fill="#dcf3dc" stroke="#bcd9bc" stroke-width="0.6"/>
<g fill="#a9d9a9" stroke="#6a866a" class="d">
<circle cx="159.5" cy="428.5"/>
<circle cx="146.2" cy="427.3"/>
<circle cx="156.6" cy="426.7"/>
<circle cx="115.1" cy="426.4"/>
<circle cx="141.1" cy="427.5"/>
<circle cx="153.9" cy="426.7"/>
<circle cx="146.1" cy="427.2"/>
<circle cx="130.6" cy="426.8"/>
<circle cx="148.8" cy="426.5"/>
<circle cx="133.5" cy="427.8"/>
<circle cx="149" cy="426.5"/>
<circle cx="188.8" cy="428.2"/>
<circle cx="130.7" cy="426.2"/>
<circle cx="143.8" cy="428.6"/>
<circle cx="143.7" cy="426.2"/>
<circle cx="138.3" cy="428.3"/>
<circle cx="143.6" cy="426.6"/>
<circle cx="138.7" cy="427"/>
<circle cx="138.4" cy="426.7"/>
<circle cx="146.4" cy="427"/>
<circle cx="117.8" cy="426.6"/>
<circle cx="161.7" cy="428.2"/>
<circle cx="125.4" cy="426.9"/>
<circle cx="138.4" cy="426.3"/>
<circle cx="123.1" cy="426.8"/>
<circle cx="166.9" cy="426.7"/>
<circle cx="159.2" cy="426.7"/>
<circle cx="133.3" cy="427.3"/>
<circle cx="146.3" cy="427.4"/>
<circle cx="149" cy="428.9"/>
<circle cx="169.8" cy="428.5"/>
<circle cx="135.7" cy="427.8"/>
<circle cx="151.4" cy="427.4"/>
<circle cx="136" cy="427.4"/>
<circle cx="156.8" cy="427.3"/>
<circle cx="136.1" cy="428"/>
<circle cx="151.3" cy="428.9"/>
<circle cx="128.3" cy="428.8"/>
<circle cx="120.1" cy="426.5"/>
<circle cx="128.1" cy="427.6"/>
<circle cx="159.5" cy="426.4"/>
<circle cx="127.9" cy="429"/>
<circle cx="141.1" cy="428.6"/>
<circle cx="141.1" cy="428.5"/>
<circle cx="133.2" cy="428.7"/>
<circle cx="151.6" cy="428.3"/>
<circle cx="133.1" cy="427.9"/>
<circle cx="141.3" cy="427.8"/>
<circle cx="123" cy="427.9"/>
<circle cx="125.3" cy="426.9"/>
<circle cx="130.9" cy="427.4"/>
<circle cx="172.1" cy="428.4"/>
<circle cx="143.6" cy="428.7"/>
<circle cx="125.4" cy="427.7"/>
<circle cx="146.2" cy="427.7"/>
</g>
<line x1="141.6" y1="421.7" x2="141.6" y2="433.5" stroke="#999" stroke-width="0.6"/>
<line x1="117.5" y1="439.4" x2="178.9" y2="439.4" stroke="#a0a0a0" stroke-width="0.6"/>
<rect x="136.3" y="433.5" width="25.2" height="11.8" fill="#f7ede1" stroke="#ddcdbb" stroke-width="0.6"/>
<g fill="#ecceab" stroke="#8f7c68" class="d">
<circle cx="140.6" cy="440.7"/>
<circle cx="130.2" cy="440.6"/>
<circle cx="166.8" cy="438.9"/>
<circle cx="143.1" cy="439.4"/>
<circle cx="133" cy="438.4"/>
<circle cx="153.9" cy="440"/>
<circle cx="135.4" cy="438.1"/>
<circle cx="122.4" cy="438.9"/>
<circle cx="140.9" cy="440.5"/>
<circle cx="130.5" cy="439.8"/>
<circle cx="153.6" cy="439.7"/>
<circle cx="125.1" cy="440.7"/>
<circle cx="130.4" cy="440.8"/>
<circle cx="127.7" cy="438.1"/>
<circle cx="145.9" cy="439.4"/>
<circle cx="177" cy="440.8"/>
<circle cx="151.2" cy="439.9"/>
<circle cx="153.6" cy="440.5"/>
<circle cx="161.6" cy="438.3"/>
<circle cx="145.8" cy="439.1"/>
<circle cx="164.2" cy="438.5"/>
<circle cx="164.3" cy="439.3"/>
<circle cx="164.3" cy="440.6"/>
<circle cx="120.2" cy="440.7"/>
<circle cx="132.8" cy="439.2"/>
<circle cx="156.1" cy="439.7"/>
<circle cx="135.6" cy="439.3"/>
<circle cx="148.7" cy="439.3"/>
<circle cx="151.2" cy="438.3"/>
<circle cx="143.1" cy="438.2"/>
<circle cx="161.4" cy="440.8"/>
<circle cx="161.3" cy="438.5"/>
<circle cx="169.5" cy="440.1"/>
<circle cx="127.6" cy="440.6"/>
<circle cx="166.9" cy="440.2"/>
<circle cx="145.7" cy="438.6"/>
<circle cx="143.1" cy="439.3"/>
<circle cx="158.7" cy="438.6"/>
<circle cx="148.5" cy="440.5"/>
<circle cx="127.7" cy="440.5"/>
<circle cx="158.9" cy="440.6"/>
<circle cx="153.8" cy="438.6"/>
<circle cx="167" cy="439.9"/>
<circle cx="156.5" cy="438.9"/>
<circle cx="150.9" cy="439.1"/>
<circle cx="159.1" cy="439.1"/>
<circle cx="135.3" cy="439.5"/>
<circle cx="137.9" cy="439.6"/>
<circle cx="138.1" cy="438.2"/>
<circle cx="169.1" cy="440.4"/>
<circle cx="138.1" cy="439.9"/>
<circle cx="172.1" cy="440.2"/>
<circle cx="177.3" cy="438.2"/>
<circle cx="169.5" cy="439.6"/>
</g>
<line x1="149.6" y1="433.5" x2="149.6" y2="445.3" stroke="#999" stroke-width="0.6"/>
<line x1="115.4" y1="451.2" x2="178.1" y2="451.2" stroke="#a0a0a0" stroke-width="0.6"/>
<rect x="135.2" y="445.3" width="23.6" height="11.8" fill="#e5dbeb" stroke="#cbbbd4" stroke-width="0.6"/>
<g fill="#c0a2cf" stroke="#7a6a84" class="d">
<circle cx="166.7" cy="451.9"/>
<circle cx="143.2" cy="451.9"/>
<circle cx="138" cy="450.8"/>
<circle cx="153.9" cy="450.2"/>
<circle cx="140.7" cy="451"/>
<circle cx="161.6" cy="451.1"/>
<circle cx="127.8" cy="450.9"/>
<circle cx="145.8" cy="452.6"/>
<circle cx="135.4" cy="452.5"/>
<circle cx="122.2" cy="452.1"/>
<circle cx="169.2" cy="452.1"/>
<circle cx="145.9" cy="452.1"/>
<circle cx="132.7" cy="450.7"/>
<circle cx="148.5" cy="450.5"/>
<circle cx="164.2" cy="449.8"/>
<circle cx="120" cy="450"/>
<circle cx="161.4" cy="452.4"/>
<circle cx="124.9" cy="452.5"/>
<circle cx="138" cy="451.7"/>
<circle cx="140.8" cy="451.9"/>
<circle cx="130.1" cy="452.2"/>
<circle cx="177" cy="452.5"/>
<circle cx="161.5" cy="451.9"/>
<circle cx="156.2" cy="450"/>
<circle cx="158.7" cy="450.3"/>
<circle cx="140.7" cy="451.4"/>
<circle cx="148.5" cy="452.2"/>
<circle cx="127.9" cy="451.2"/>
<circle cx="135.4" cy="452.5"/>
<circle cx="156.2" cy="450.8"/>
<circle cx="158.8" cy="452.2"/>
<circle cx="135.5" cy="451.6"/>
<circle cx="117.3" cy="451"/>
<circle cx="151.2" cy="450.2"/>
<circle cx="153.9" cy="450.3"/>
<circle cx="159" cy="450.6"/>
<circle cx="127.5" cy="452.3"/>
<circle cx="166.5" cy="450.4"/>
<circle cx="135.5" cy="449.9"/>
<circle cx="130.2" cy="449.7"/>
<circle cx="137.8" cy="452.2"/>
<circle cx="143.3" cy="450.9"/>
<circle cx="150.9" cy="450.6"/>
<circle cx="150.9" cy="450.8"/>
<circle cx="130.5" cy="451"/>
<circle cx="163.9" cy="451.6"/>
<circle cx="132.9" cy="452.3"/>
<circle cx="140.9" cy="452.3"/>
<circle cx="174.5" cy="451.8"/>
<circle cx="148.4" cy="450.1"/>
<circle cx="169.1" cy="451.6"/>
<circle cx="143.1" cy="452"/>
<circle cx="140.4" cy="450.7"/>
<circle cx="166.7" cy="450.7"/>
</g>
<line x1="144.3" y1="445.3" x2="144.3" y2="457.1" stroke="#999" stroke-width="0.6"/>
<path d="M195.9 436v3.2M194.5 436.8l2.8 1.6M194.5 438.4l2.8 -1.6" stroke="#2a2a2a" stroke-width="0.75" fill="none"/>
<rect x="109" y="417.1" width="103.9" height="44.6" fill="none" stroke="#555" stroke-width="0.95"/>
<line x1="120.3" y1="461.7" x2="120.3" y2="464.3" stroke="#2b2b2b" stroke-width="0.75"/>
<text x="120.3" y="472.1" text-anchor="middle" font-size="8.7" fill="#1a1a1a" textLength="9.4" lengthAdjust="spacingAndGlyphs">25</text>
<line x1="148.8" y1="461.7" x2="148.8" y2="464.3" stroke="#2b2b2b" stroke-width="0.75"/>
<text x="148.8" y="472.1" text-anchor="middle" font-size="8.7" fill="#1a1a1a" textLength="9.4" lengthAdjust="spacingAndGlyphs">50</text>
<line x1="177.7" y1="461.7" x2="177.7" y2="464.3" stroke="#2b2b2b" stroke-width="0.75"/>
<text x="177.7" y="472.1" text-anchor="middle" font-size="8.7" fill="#1a1a1a" textLength="9.4" lengthAdjust="spacingAndGlyphs">75</text>
<line x1="206.7" y1="461.7" x2="206.7" y2="464.3" stroke="#2b2b2b" stroke-width="0.75"/>
<text x="206.7" y="472.1" text-anchor="middle" font-size="8.7" fill="#1a1a1a" textLength="14.2" lengthAdjust="spacingAndGlyphs">100</text>
</g>
<g>
<line x1="55.4" y1="38.5" x2="55.4" y2="83.1" stroke="#111" stroke-width="0.9" stroke-dasharray="1,1.7"/>
<line x1="78.5" y1="38.5" x2="78.5" y2="83.1" stroke="#111" stroke-width="0.9" stroke-dasharray="1,1.7"/>
<line x1="20" y1="49" x2="61" y2="49" stroke="#a0a0a0" stroke-width="0.6"/>
<rect x="35.3" y="43.1" width="11.3" height="11.8" fill="#dcf3dc" stroke="#bcd9bc" stroke-width="0.6"/>
<g fill="#a9d9a9" stroke="#6a866a" class="d">
<circle cx="51.8" cy="50.2"/>
<circle cx="33.7" cy="48.1"/>
<circle cx="28.4" cy="47.6"/>
<circle cx="36.2" cy="48.2"/>
<circle cx="41.4" cy="49.2"/>
<circle cx="46.5" cy="47.9"/>
<circle cx="38.9" cy="49.8"/>
<circle cx="38.9" cy="50"/>
<circle cx="54.5" cy="50.1"/>
<circle cx="43.9" cy="47.7"/>
<circle cx="41.3" cy="50"/>
<circle cx="33.7" cy="48.3"/>
<circle cx="41.5" cy="49.1"/>
<circle cx="38.8" cy="47.8"/>
<circle cx="61" cy="48.9"/>
<circle cx="46.8" cy="48.1"/>
<circle cx="43.9" cy="50.2"/>
<circle cx="46.7" cy="48"/>
<circle cx="52" cy="47.5"/>
<circle cx="46.7" cy="49.1"/>
<circle cx="30.8" cy="49.1"/>
<circle cx="36" cy="48.6"/>
<circle cx="38.9" cy="49.3"/>
<circle cx="38.9" cy="47.7"/>
<circle cx="36.2" cy="48.8"/>
<circle cx="25.5" cy="47.5"/>
<circle cx="38.5" cy="49.8"/>
<circle cx="51.7" cy="50.1"/>
<circle cx="44.1" cy="48.6"/>
<circle cx="54.6" cy="49.8"/>
<circle cx="44.1" cy="49.1"/>
<circle cx="28.3" cy="49.8"/>
<circle cx="41.3" cy="47.8"/>
<circle cx="51.9" cy="50.3"/>
<circle cx="46.7" cy="50.4"/>
<circle cx="33.8" cy="48.3"/>
<circle cx="30.9" cy="48.9"/>
<circle cx="49.2" cy="48.9"/>
<circle cx="25.6" cy="50.3"/>
<circle cx="49.3" cy="48.1"/>
<circle cx="43.9" cy="48.5"/>
<circle cx="41.4" cy="47.5"/>
<circle cx="20.5" cy="49.2"/>
<circle cx="36.1" cy="49.5"/>
<circle cx="35.9" cy="48.6"/>
<circle cx="49.4" cy="50.1"/>
<circle cx="28.4" cy="50.4"/>
<circle cx="41.5" cy="47.5"/>
<circle cx="57" cy="50.1"/>
<circle cx="44.1" cy="49.8"/>
<circle cx="31.2" cy="50.4"/>
<circle cx="33.4" cy="50.4"/>
<circle cx="46.7" cy="49"/>
<circle cx="44" cy="48.7"/>
</g>
<line x1="41.8" y1="43.1" x2="41.8" y2="54.9" stroke="#999" stroke-width="0.6"/>
<line x1="23" y1="60.8" x2="64.2" y2="60.8" stroke="#a0a0a0" stroke-width="0.6"/>
<rect x="35.3" y="54.9" width="10.1" height="11.8" fill="#f7ede1" stroke="#ddcdbb" stroke-width="0.6"/>
<g fill="#ecceab" stroke="#8f7c68" class="d">
<circle cx="39" cy="61.2"/>
<circle cx="49.1" cy="59.7"/>
<circle cx="54.5" cy="60.6"/>
<circle cx="30.9" cy="59.6"/>
<circle cx="44.1" cy="61.5"/>
<circle cx="25.8" cy="61.1"/>
<circle cx="43.8" cy="59.9"/>
<circle cx="44" cy="62.1"/>
<circle cx="41.5" cy="60.9"/>
<circle cx="44" cy="61.3"/>
<circle cx="38.7" cy="60.2"/>
<circle cx="46.4" cy="60.1"/>
<circle cx="59.4" cy="61.8"/>
<circle cx="36.1" cy="61.1"/>
<circle cx="36" cy="59.6"/>
<circle cx="43.8" cy="60.9"/>
<circle cx="38.7" cy="59.6"/>
<circle cx="38.5" cy="61.3"/>
<circle cx="39" cy="60.6"/>
<circle cx="41.5" cy="61.6"/>
<circle cx="44.2" cy="59.3"/>
<circle cx="41.3" cy="59.3"/>
<circle cx="44.2" cy="61.3"/>
<circle cx="36.4" cy="61.8"/>
<circle cx="41.5" cy="60.1"/>
<circle cx="49" cy="59.5"/>
<circle cx="43.9" cy="60.9"/>
<circle cx="41.6" cy="62"/>
<circle cx="33.6" cy="60.3"/>
<circle cx="64.2" cy="60.1"/>
<circle cx="46.5" cy="59.4"/>
<circle cx="57.1" cy="59.4"/>
<circle cx="51.8" cy="62.2"/>
<circle cx="36.2" cy="60.8"/>
<circle cx="54.2" cy="62.1"/>
<circle cx="49.2" cy="61.4"/>
<circle cx="41.5" cy="61.8"/>
<circle cx="28.4" cy="60.1"/>
<circle cx="30.8" cy="61.2"/>
<circle cx="41.5" cy="60.2"/>
<circle cx="33.7" cy="61.8"/>
<circle cx="28.5" cy="59.5"/>
<circle cx="33.7" cy="59.7"/>
<circle cx="36.4" cy="61.5"/>
<circle cx="51.7" cy="61.6"/>
<circle cx="38.7" cy="61.9"/>
<circle cx="44.1" cy="62.2"/>
<circle cx="51.6" cy="60.2"/>
<circle cx="46.7" cy="61"/>
<circle cx="33.4" cy="60.4"/>
<circle cx="31.1" cy="61.7"/>
<circle cx="30.7" cy="61.5"/>
<circle cx="33.8" cy="61.6"/>
<circle cx="23.4" cy="60.9"/>
</g>
<line x1="41.4" y1="54.9" x2="41.4" y2="66.7" stroke="#999" stroke-width="0.6"/>
<line x1="25.7" y1="72.6" x2="59" y2="72.6" stroke="#a0a0a0" stroke-width="0.6"/>
<rect x="38" y="66.7" width="11.8" height="11.8" fill="#e5dbeb" stroke="#cbbbd4" stroke-width="0.6"/>
<g fill="#c0a2cf" stroke="#7a6a84" class="d">
<circle cx="32.8" cy="71.4"/>
<circle cx="48.4" cy="73.1"/>
<circle cx="43.5" cy="71.3"/>
<circle cx="35.7" cy="73.6"/>
<circle cx="53.6" cy="72.7"/>
<circle cx="51" cy="71.2"/>
<circle cx="40.4" cy="72.5"/>
<circle cx="46.1" cy="72.3"/>
<circle cx="35.6" cy="72.8"/>
<circle cx="48.4" cy="72.8"/>
<circle cx="27.8" cy="71.8"/>
<circle cx="48.4" cy="71.6"/>
<circle cx="38" cy="72"/>
<circle cx="35.7" cy="72.6"/>
<circle cx="51.1" cy="72.4"/>
<circle cx="43.4" cy="72.2"/>
<circle cx="40.7" cy="71.8"/>
<circle cx="53.8" cy="73"/>
<circle cx="53.6" cy="74"/>
<circle cx="45.7" cy="73.6"/>
<circle cx="53.5" cy="71.1"/>
<circle cx="46.1" cy="72.4"/>
<circle cx="56.5" cy="71.7"/>
<circle cx="37.9" cy="71.9"/>
<circle cx="48.2" cy="72.9"/>
<circle cx="40.4" cy="73"/>
<circle cx="32.8" cy="72.5"/>
<circle cx="30.2" cy="71.4"/>
<circle cx="53.5" cy="71.8"/>
<circle cx="35.5" cy="71.3"/>
<circle cx="43" cy="72.4"/>
<circle cx="48.3" cy="71.8"/>
<circle cx="45.9" cy="72.6"/>
<circle cx="59" cy="72.8"/>
<circle cx="40.8" cy="73.9"/>
<circle cx="48.5" cy="72.8"/>
<circle cx="45.6" cy="73.9"/>
<circle cx="27.9" cy="71.2"/>
<circle cx="40.7" cy="73"/>
<circle cx="38" cy="73.3"/>
<circle cx="45.9" cy="74.1"/>
<circle cx="48.7" cy="71.5"/>
<circle cx="33" cy="71.4"/>
<circle cx="32.9" cy="71.6"/>
<circle cx="51.3" cy="73.1"/>
<circle cx="56.3" cy="73.5"/>
<circle cx="46.1" cy="72"/>
<circle cx="43.1" cy="71.8"/>
<circle cx="43.1" cy="73.3"/>
<circle cx="38.1" cy="72.2"/>
<circle cx="50.8" cy="71.8"/>
<circle cx="38.3" cy="72.5"/>
<circle cx="51.3" cy="71.9"/>
<circle cx="35.3" cy="73.7"/>
</g>
<line x1="44.6" y1="66.7" x2="44.6" y2="78.5" stroke="#999" stroke-width="0.6"/>
<polyline points="74.6,59.9 77,58 79.4,59.9" fill="none" stroke="#333" stroke-width="0.9" stroke-linejoin="round"/>
<rect x="3.4" y="38.5" width="104.4" height="44.6" fill="none" stroke="#555" stroke-width="0.95"/>
<line x1="6.4" y1="83.1" x2="6.4" y2="85.7" stroke="#2b2b2b" stroke-width="0.75"/>
<text x="6.4" y="93.5" text-anchor="middle" font-size="8.7" fill="#1a1a1a" textLength="4.7" lengthAdjust="spacingAndGlyphs">4</text>
<line x1="35.3" y1="83.1" x2="35.3" y2="85.7" stroke="#2b2b2b" stroke-width="0.75"/>
<text x="35.3" y="93.5" text-anchor="middle" font-size="8.7" fill="#1a1a1a" textLength="4.7" lengthAdjust="spacingAndGlyphs">5</text>
<line x1="63.9" y1="83.1" x2="63.9" y2="85.7" stroke="#2b2b2b" stroke-width="0.75"/>
<text x="63.9" y="93.5" text-anchor="middle" font-size="8.7" fill="#1a1a1a" textLength="4.7" lengthAdjust="spacingAndGlyphs">6</text>
<line x1="92.8" y1="83.1" x2="92.8" y2="85.7" stroke="#2b2b2b" stroke-width="0.75"/>
<text x="92.8" y="93.5" text-anchor="middle" font-size="8.7" fill="#1a1a1a" textLength="4.7" lengthAdjust="spacingAndGlyphs">7</text>
<line x1="0.9" y1="60.8" x2="3.4" y2="60.8" stroke="#2b2b2b" stroke-width="0.75"/>
</g>
<g>
<line x1="52.7" y1="114.2" x2="52.7" y2="158.8" stroke="#111" stroke-width="0.9" stroke-dasharray="1,1.7"/>
<line x1="82.4" y1="114.2" x2="82.4" y2="158.8" stroke="#111" stroke-width="0.9" stroke-dasharray="1,1.7"/>
<line x1="12.8" y1="124.7" x2="51.4" y2="124.7" stroke="#a0a0a0" stroke-width="0.6"/>
<rect x="24.9" y="118.8" width="4.8" height="11.8" fill="#dcf3dc" stroke="#bcd9bc" stroke-width="0.6"/>
<g fill="#a9d9a9" stroke="#6a866a" class="d">
<circle cx="28.5" cy="125.3"/>
<circle cx="25.8" cy="124"/>
<circle cx="12.8" cy="125.3"/>
<circle cx="25.9" cy="123.3"/>
<circle cx="28.3" cy="124"/>
<circle cx="28.7" cy="125.8"/>
<circle cx="26" cy="125.4"/>
<circle cx="15.3" cy="124.6"/>
<circle cx="38.7" cy="124.6"/>
<circle cx="28.2" cy="124.7"/>
<circle cx="28.5" cy="125.4"/>
<circle cx="25.6" cy="123.5"/>
<circle cx="25.7" cy="125.6"/>
<circle cx="28.5" cy="123.5"/>
<circle cx="30.9" cy="123.6"/>
<circle cx="46.7" cy="124.1"/>
<circle cx="49.4" cy="125.5"/>
<circle cx="64.7" cy="124.5"/>
<circle cx="28.6" cy="126.1"/>
<circle cx="28.4" cy="124.1"/>
<circle cx="23.1" cy="125.3"/>
<circle cx="33.7" cy="125.5"/>
<circle cx="36.2" cy="124.6"/>
<circle cx="28.6" cy="123.9"/>
<circle cx="25.6" cy="123.7"/>
<circle cx="26.1" cy="123.6"/>
<circle cx="20.7" cy="125.7"/>
<circle cx="39.1" cy="126"/>
<circle cx="44.3" cy="123.6"/>
<circle cx="28.3" cy="125.5"/>
<circle cx="25.9" cy="124.4"/>
<circle cx="28.5" cy="123.6"/>
<circle cx="25.6" cy="125"/>
<circle cx="23.3" cy="123.2"/>
<circle cx="25.9" cy="124.2"/>
<circle cx="28.2" cy="125"/>
<circle cx="28.3" cy="123.5"/>
<circle cx="28.5" cy="124"/>
<circle cx="23" cy="123.2"/>
<circle cx="25.8" cy="123.8"/>
<circle cx="20.7" cy="125.1"/>
<circle cx="41.3" cy="123.3"/>
<circle cx="28.7" cy="123.8"/>
<circle cx="23.3" cy="123.8"/>
<circle cx="31.1" cy="124.3"/>
<circle cx="25.9" cy="125.3"/>
<circle cx="15.5" cy="123.7"/>
<circle cx="18.3" cy="125.5"/>
<circle cx="36.4" cy="124.3"/>
<circle cx="36.1" cy="125.2"/>
<circle cx="20.6" cy="124"/>
<circle cx="33.4" cy="124.4"/>
<circle cx="26" cy="125.6"/>
<circle cx="23.3" cy="125.4"/>
<circle cx="20.9" cy="123.8"/>
</g>
<line x1="27.3" y1="118.8" x2="27.3" y2="130.6" stroke="#999" stroke-width="0.6"/>
<line x1="19.3" y1="136.5" x2="49" y2="136.5" stroke="#a0a0a0" stroke-width="0.6"/>
<rect x="26.5" y="130.6" width="4.8" height="11.8" fill="#f7ede1" stroke="#ddcdbb" stroke-width="0.6"/>
<g fill="#ecceab" stroke="#8f7c68" class="d">
<circle cx="27.3" cy="136.1"/>
<circle cx="27.5" cy="137.9"/>
<circle cx="29.9" cy="137.5"/>
<circle cx="27.3" cy="136.4"/>
<circle cx="30" cy="135.1"/>
<circle cx="27.1" cy="135.4"/>
<circle cx="30.2" cy="135.5"/>
<circle cx="27.5" cy="135.1"/>
<circle cx="24.8" cy="137.3"/>
<circle cx="27.4" cy="137.7"/>
<circle cx="40.2" cy="136.3"/>
<circle cx="29.9" cy="137.2"/>
<circle cx="29.9" cy="135"/>
<circle cx="30.2" cy="137.7"/>
<circle cx="24.6" cy="137.8"/>
<circle cx="24.6" cy="137.6"/>
<circle cx="40.3" cy="135.5"/>
<circle cx="27.5" cy="136.9"/>
<circle cx="35.2" cy="137.6"/>
<circle cx="22.3" cy="135.8"/>
<circle cx="48" cy="135.6"/>
<circle cx="37.8" cy="135.2"/>
<circle cx="29.8" cy="135.6"/>
<circle cx="27.4" cy="136.5"/>
<circle cx="22.2" cy="137"/>
<circle cx="30.1" cy="136.8"/>
<circle cx="37.7" cy="137.7"/>
<circle cx="35.2" cy="136.1"/>
<circle cx="22" cy="137.2"/>
<circle cx="32.5" cy="137.9"/>
<circle cx="35.3" cy="135"/>
<circle cx="30.1" cy="136.7"/>
<circle cx="27.5" cy="137.9"/>
<circle cx="27.3" cy="136"/>
<circle cx="42.8" cy="137.1"/>
<circle cx="24.6" cy="136.8"/>
<circle cx="27.2" cy="135.4"/>
<circle cx="29.9" cy="137.8"/>
<circle cx="32.5" cy="136"/>
<circle cx="24.8" cy="135.2"/>
<circle cx="30.1" cy="137"/>
<circle cx="27.2" cy="135.7"/>
<circle cx="27.2" cy="136"/>
<circle cx="30" cy="136.7"/>
<circle cx="27.4" cy="135.2"/>
<circle cx="24.8" cy="137.7"/>
<circle cx="35.3" cy="135.5"/>
<circle cx="27.5" cy="137.2"/>
<circle cx="19.6" cy="137.9"/>
<circle cx="40.4" cy="137.1"/>
<circle cx="24.5" cy="138"/>
<circle cx="21.9" cy="135.7"/>
<circle cx="29.9" cy="137.7"/>
<circle cx="32.4" cy="136.9"/>
</g>
<line x1="28.6" y1="130.6" x2="28.6" y2="142.4" stroke="#999" stroke-width="0.6"/>
<line x1="10.9" y1="148.3" x2="47.4" y2="148.3" stroke="#a0a0a0" stroke-width="0.6"/>
<rect x="24.4" y="142.4" width="8.5" height="11.8" fill="#e5dbeb" stroke="#cbbbd4" stroke-width="0.6"/>
<g fill="#c0a2cf" stroke="#7a6a84" class="d">
<circle cx="44.4" cy="149.2"/>
<circle cx="21.1" cy="148.9"/>
<circle cx="39.6" cy="149.2"/>
<circle cx="23.8" cy="148.1"/>
<circle cx="18.4" cy="148.9"/>
<circle cx="18.8" cy="148.2"/>
<circle cx="28.9" cy="149"/>
<circle cx="31.6" cy="147.4"/>
<circle cx="26.3" cy="147.9"/>
<circle cx="21.2" cy="147.9"/>
<circle cx="24" cy="149.2"/>
<circle cx="31.8" cy="148"/>
<circle cx="34" cy="147.8"/>
<circle cx="31.4" cy="146.9"/>
<circle cx="28.9" cy="147.8"/>
<circle cx="34.2" cy="148"/>
<circle cx="26.4" cy="147.9"/>
<circle cx="31.8" cy="149.1"/>
<circle cx="21" cy="149.3"/>
<circle cx="26.4" cy="148.6"/>
<circle cx="26.2" cy="147.8"/>
<circle cx="28.8" cy="147.5"/>
<circle cx="34.1" cy="149.7"/>
<circle cx="18.7" cy="147.2"/>
<circle cx="13.4" cy="147.3"/>
<circle cx="36.6" cy="148.4"/>
<circle cx="23.9" cy="147.8"/>
<circle cx="16" cy="149.7"/>
<circle cx="28.9" cy="147"/>
<circle cx="21" cy="149.4"/>
<circle cx="39.5" cy="147.2"/>
<circle cx="29.2" cy="147.1"/>
<circle cx="47.3" cy="148.5"/>
<circle cx="39.4" cy="148.9"/>
<circle cx="26.4" cy="148"/>
<circle cx="31.9" cy="146.9"/>
<circle cx="31.5" cy="148.6"/>
<circle cx="36.6" cy="148.1"/>
<circle cx="39.6" cy="149.4"/>
<circle cx="10.9" cy="147.4"/>
<circle cx="36.9" cy="147.8"/>
<circle cx="24" cy="147.2"/>
<circle cx="26.2" cy="149.5"/>
<circle cx="23.8" cy="148.8"/>
<circle cx="29" cy="149.5"/>
<circle cx="26.3" cy="148.4"/>
<circle cx="23.7" cy="148.7"/>
<circle cx="31.9" cy="147.9"/>
<circle cx="31.7" cy="147.1"/>
<circle cx="29.2" cy="149.6"/>
<circle cx="26.5" cy="148.2"/>
<circle cx="28.9" cy="148.9"/>
<circle cx="34.3" cy="147.3"/>
<circle cx="36.9" cy="148.1"/>
</g>
<line x1="28.6" y1="142.4" x2="28.6" y2="154.2" stroke="#999" stroke-width="0.6"/>
<rect x="3.4" y="114.2" width="104.4" height="44.6" fill="none" stroke="#555" stroke-width="0.95"/>
<line x1="33.2" y1="158.8" x2="33.2" y2="161.4" stroke="#2b2b2b" stroke-width="0.75"/>
<text x="33.2" y="169.2" text-anchor="middle" font-size="8.7" fill="#1a1a1a" textLength="14.2" lengthAdjust="spacingAndGlyphs">100</text>
<line x1="82.4" y1="158.8" x2="82.4" y2="161.4" stroke="#2b2b2b" stroke-width="0.75"/>
<text x="82.4" y="169.2" text-anchor="middle" font-size="8.7" fill="#1a1a1a" textLength="14.2" lengthAdjust="spacingAndGlyphs">200</text>
<line x1="0.9" y1="136.5" x2="3.4" y2="136.5" stroke="#2b2b2b" stroke-width="0.75"/>
</g>
<g>
<line x1="22.5" y1="189.9" x2="22.5" y2="234.5" stroke="#111" stroke-width="0.9" stroke-dasharray="1,1.7"/>
<line x1="6.1" y1="200.4" x2="48.2" y2="200.4" stroke="#a0a0a0" stroke-width="0.6"/>
<rect x="18.1" y="194.5" width="11.3" height="11.8" fill="#dcf3dc" stroke="#bcd9bc" stroke-width="0.6"/>
<g fill="#a9d9a9" stroke="#6a866a" class="d">
<circle cx="35.5" cy="201.4"/>
<circle cx="17.1" cy="200.3"/>
<circle cx="20.1" cy="200.8"/>
<circle cx="12.2" cy="200.3"/>
<circle cx="24.9" cy="200.7"/>
<circle cx="27.9" cy="200.9"/>
<circle cx="30" cy="200.6"/>
<circle cx="22.4" cy="200.6"/>
<circle cx="22.4" cy="199.4"/>
<circle cx="17.1" cy="201.5"/>
<circle cx="35.2" cy="200.2"/>
<circle cx="20" cy="200.8"/>
<circle cx="9.7" cy="201.7"/>
<circle cx="14.5" cy="201.2"/>
<circle cx="20.1" cy="200.2"/>
<circle cx="43.1" cy="201.4"/>
<circle cx="6.9" cy="201.1"/>
<circle cx="17.5" cy="199.5"/>
<circle cx="17.4" cy="201.1"/>
<circle cx="20" cy="199.3"/>
<circle cx="20.1" cy="200.3"/>
<circle cx="38.3" cy="200.5"/>
<circle cx="37.9" cy="201.7"/>
<circle cx="25" cy="201.8"/>
<circle cx="27.7" cy="199.8"/>
<circle cx="25" cy="200.6"/>
<circle cx="14.6" cy="201.8"/>
<circle cx="40.9" cy="200.1"/>
<circle cx="25.1" cy="199.4"/>
<circle cx="22.3" cy="201"/>
<circle cx="19.8" cy="201.7"/>
<circle cx="14.8" cy="199.1"/>
<circle cx="24.9" cy="199.5"/>
<circle cx="27.9" cy="200.8"/>
<circle cx="59.4" cy="199.7"/>
<circle cx="33.1" cy="199.9"/>
<circle cx="14.8" cy="200"/>
<circle cx="35.3" cy="199.5"/>
<circle cx="19.9" cy="199.9"/>
<circle cx="33.1" cy="200.9"/>
<circle cx="20.1" cy="201.3"/>
<circle cx="14.7" cy="201.1"/>
<circle cx="27.9" cy="201"/>
<circle cx="32.6" cy="199.1"/>
<circle cx="75.5" cy="199.4"/>
<circle cx="17.4" cy="199"/>
<circle cx="22.6" cy="201.8"/>
<circle cx="30.3" cy="199.3"/>
<circle cx="25" cy="200.8"/>
<circle cx="30.2" cy="201.8"/>
<circle cx="22.5" cy="200.4"/>
<circle cx="12.1" cy="200.6"/>
<circle cx="48.2" cy="201.2"/>
<circle cx="9.6" cy="199.7"/>
<circle cx="30.4" cy="201"/>
<circle cx="22.6" cy="199.6"/>
</g>
<line x1="22.5" y1="194.5" x2="22.5" y2="206.3" stroke="#999" stroke-width="0.6"/>
<line x1="10.4" y1="212.2" x2="48.2" y2="212.2" stroke="#a0a0a0" stroke-width="0.6"/>
<rect x="20.1" y="206.3" width="11.2" height="11.8" fill="#f7ede1" stroke="#ddcdbb" stroke-width="0.6"/>
<g fill="#ecceab" stroke="#8f7c68" class="d">
<circle cx="30.1" cy="213.1"/>
<circle cx="30" cy="211"/>
<circle cx="24.8" cy="211.4"/>
<circle cx="21.9" cy="211.5"/>
<circle cx="16.6" cy="212.3"/>
<circle cx="42.9" cy="212.1"/>
<circle cx="24.9" cy="211.5"/>
<circle cx="40" cy="211.5"/>
<circle cx="19.3" cy="211.9"/>
<circle cx="37.7" cy="213.3"/>
<circle cx="11.9" cy="213.7"/>
<circle cx="71.1" cy="212.9"/>
<circle cx="32.5" cy="213.7"/>
<circle cx="35.1" cy="211.1"/>
<circle cx="37.7" cy="211.6"/>
<circle cx="17" cy="212.1"/>
<circle cx="21.8" cy="212"/>
<circle cx="34.9" cy="211.1"/>
<circle cx="24.8" cy="211.1"/>
<circle cx="24.6" cy="212.7"/>
<circle cx="19.6" cy="212.9"/>
<circle cx="32.6" cy="211.1"/>
<circle cx="19.3" cy="211.5"/>
<circle cx="19.6" cy="211.6"/>
<circle cx="16.6" cy="213"/>
<circle cx="21.8" cy="213.5"/>
<circle cx="40.3" cy="212.9"/>
<circle cx="22.1" cy="211"/>
<circle cx="16.9" cy="212.2"/>
<circle cx="27.1" cy="212.3"/>
<circle cx="48.2" cy="212"/>
<circle cx="27.1" cy="211.1"/>
<circle cx="27.1" cy="212"/>
<circle cx="19.2" cy="212.3"/>
<circle cx="16.7" cy="212"/>
<circle cx="27.4" cy="211.9"/>
<circle cx="29.9" cy="213.3"/>
<circle cx="37.6" cy="211.8"/>
<circle cx="19.3" cy="212.1"/>
<circle cx="21.8" cy="211"/>
<circle cx="27.1" cy="213.4"/>
<circle cx="29.9" cy="213.5"/>
<circle cx="24.8" cy="213.1"/>
<circle cx="14.5" cy="211.3"/>
<circle cx="24.5" cy="213.7"/>
<circle cx="42.8" cy="212.7"/>
<circle cx="22" cy="212.8"/>
<circle cx="14.4" cy="213"/>
<circle cx="29.6" cy="211.4"/>
<circle cx="21.9" cy="212.7"/>
<circle cx="11.9" cy="211.4"/>
<circle cx="35" cy="212.5"/>
<circle cx="22" cy="210.9"/>
<circle cx="32.5" cy="211.6"/>
<circle cx="22.1" cy="211.6"/>
</g>
<line x1="24.4" y1="206.3" x2="24.4" y2="218.1" stroke="#999" stroke-width="0.6"/>
<line x1="14.1" y1="224" x2="55.4" y2="224" stroke="#a0a0a0" stroke-width="0.6"/>
<rect x="26.5" y="218.1" width="14.1" height="11.8" fill="#e5dbeb" stroke="#cbbbd4" stroke-width="0.6"/>
<g fill="#c0a2cf" stroke="#7a6a84" class="d">
<circle cx="39.6" cy="225"/>
<circle cx="29" cy="224.3"/>
<circle cx="52.2" cy="224.4"/>
<circle cx="23.9" cy="225.1"/>
<circle cx="31.5" cy="224.7"/>
<circle cx="28.9" cy="223.9"/>
<circle cx="31.8" cy="223.4"/>
<circle cx="31.6" cy="225.3"/>
<circle cx="24" cy="222.8"/>
<circle cx="31.4" cy="222.5"/>
<circle cx="47.4" cy="224"/>
<circle cx="26.3" cy="223.7"/>
<circle cx="39.2" cy="224.6"/>
<circle cx="34.2" cy="222.9"/>
<circle cx="44.6" cy="224.7"/>
<circle cx="39.4" cy="223.6"/>
<circle cx="44.7" cy="225.1"/>
<circle cx="21.2" cy="223.2"/>
<circle cx="42" cy="224.6"/>
<circle cx="37" cy="224.4"/>
<circle cx="47.4" cy="225"/>
<circle cx="55.1" cy="224.1"/>
<circle cx="41.8" cy="223.1"/>
<circle cx="39.3" cy="222.6"/>
<circle cx="21.3" cy="224.7"/>
<circle cx="36.9" cy="225"/>
<circle cx="29" cy="223.9"/>
<circle cx="16" cy="222.8"/>
<circle cx="34.1" cy="224.8"/>
<circle cx="42.1" cy="224.1"/>
<circle cx="18.8" cy="223.7"/>
<circle cx="31.7" cy="222.7"/>
<circle cx="36.5" cy="225.5"/>
<circle cx="23.8" cy="224.8"/>
<circle cx="44.4" cy="223.3"/>
<circle cx="31.7" cy="224.8"/>
<circle cx="28.8" cy="225.4"/>
<circle cx="26.6" cy="222.6"/>
<circle cx="47.3" cy="223.5"/>
<circle cx="26.5" cy="224.1"/>
<circle cx="36.6" cy="225.2"/>
<circle cx="34.4" cy="224.3"/>
<circle cx="21.3" cy="223.1"/>
<circle cx="34.2" cy="223.2"/>
<circle cx="26.4" cy="223.5"/>
<circle cx="39.3" cy="225.2"/>
<circle cx="44.4" cy="225.4"/>
<circle cx="16" cy="225.5"/>
<circle cx="36.9" cy="222.9"/>
<circle cx="26.3" cy="223.8"/>
<circle cx="21.1" cy="222.9"/>
<circle cx="49.6" cy="222.7"/>
<circle cx="29" cy="222.6"/>
<circle cx="23.6" cy="224.2"/>
</g>
<line x1="32.9" y1="218.1" x2="32.9" y2="229.9" stroke="#999" stroke-width="0.6"/>
<path d="M82.7 208.8v3.2M81.3 209.6l2.8 1.6M81.3 211.2l2.8 -1.6" stroke="#2a2a2a" stroke-width="0.75" fill="none"/>
<path d="M86.5 208.8v3.2M85 209.6l2.8 1.6M85 211.2l2.8 -1.6" stroke="#2a2a2a" stroke-width="0.75" fill="none"/>
<path d="M90.2 208.8v3.2M88.8 209.6l2.8 1.6M88.8 211.2l2.8 -1.6" stroke="#2a2a2a" stroke-width="0.75" fill="none"/>
<rect x="3.4" y="189.9" width="104.4" height="44.6" fill="none" stroke="#555" stroke-width="0.95"/>
<line x1="11.6" y1="234.5" x2="11.6" y2="237.1" stroke="#2b2b2b" stroke-width="0.75"/>
<text x="11.6" y="244.9" text-anchor="middle" font-size="8.7" fill="#1a1a1a" textLength="9.4" lengthAdjust="spacingAndGlyphs">20</text>
<line x1="54.6" y1="234.5" x2="54.6" y2="237.1" stroke="#2b2b2b" stroke-width="0.75"/>
<text x="54.6" y="244.9" text-anchor="middle" font-size="8.7" fill="#1a1a1a" textLength="9.4" lengthAdjust="spacingAndGlyphs">40</text>
<line x1="96.4" y1="234.5" x2="96.4" y2="237.1" stroke="#2b2b2b" stroke-width="0.75"/>
<text x="96.4" y="244.9" text-anchor="middle" font-size="8.7" fill="#1a1a1a" textLength="9.4" lengthAdjust="spacingAndGlyphs">60</text>
<line x1="0.9" y1="212.2" x2="3.4" y2="212.2" stroke="#2b2b2b" stroke-width="0.75"/>
</g>
<g>
<line x1="16" y1="276.1" x2="51.4" y2="276.1" stroke="#a0a0a0" stroke-width="0.6"/>
<rect x="29.4" y="270.2" width="10.3" height="11.8" fill="#dcf3dc" stroke="#bcd9bc" stroke-width="0.6"/>
<g fill="#a9d9a9" stroke="#6a866a" class="d">
<circle cx="16.7" cy="277.5"/>
<circle cx="34.7" cy="274.9"/>
<circle cx="39.7" cy="275.3"/>
<circle cx="45.1" cy="274.7"/>
<circle cx="40.1" cy="276"/>
<circle cx="32" cy="276.7"/>
<circle cx="42.7" cy="275.5"/>
<circle cx="35" cy="276"/>
<circle cx="37.1" cy="277.4"/>
<circle cx="50.4" cy="277.4"/>
<circle cx="34.8" cy="274.9"/>
<circle cx="42.4" cy="275.3"/>
<circle cx="37.6" cy="275.1"/>
<circle cx="24.5" cy="275.8"/>
<circle cx="37.5" cy="275.4"/>
<circle cx="29.7" cy="275"/>
<circle cx="26.8" cy="277.5"/>
<circle cx="45.4" cy="277.6"/>
<circle cx="34.9" cy="274.9"/>
<circle cx="34.8" cy="277.5"/>
<circle cx="42.7" cy="276.4"/>
<circle cx="29.6" cy="277.2"/>
<circle cx="29.6" cy="277.3"/>
<circle cx="45.2" cy="275.1"/>
<circle cx="29.5" cy="275"/>
<circle cx="37.3" cy="277.1"/>
<circle cx="37.3" cy="277.3"/>
<circle cx="32.1" cy="275.5"/>
<circle cx="27" cy="277.3"/>
<circle cx="32.3" cy="277.2"/>
<circle cx="55.9" cy="275.1"/>
<circle cx="59.7" cy="275.8"/>
<circle cx="45" cy="276.7"/>
<circle cx="47.9" cy="277.3"/>
<circle cx="42.6" cy="277.1"/>
<circle cx="24.4" cy="277.4"/>
<circle cx="27.2" cy="276.6"/>
<circle cx="37.2" cy="275.3"/>
<circle cx="32.3" cy="276.8"/>
<circle cx="39.9" cy="275.8"/>
<circle cx="21.6" cy="275.6"/>
<circle cx="65" cy="274.6"/>
<circle cx="24.4" cy="276.9"/>
<circle cx="40" cy="275.3"/>
<circle cx="21.6" cy="276"/>
<circle cx="26.8" cy="276.9"/>
<circle cx="24.4" cy="275.7"/>
<circle cx="32.4" cy="275.6"/>
<circle cx="29.7" cy="277.3"/>
<circle cx="40.1" cy="277.2"/>
<circle cx="37.2" cy="276.4"/>
<circle cx="32.4" cy="275.1"/>
<circle cx="42.8" cy="277.1"/>
<circle cx="35" cy="277.6"/>
<circle cx="32.2" cy="275.2"/>
<circle cx="19.1" cy="277.5"/>
<circle cx="32.4" cy="275.9"/>
</g>
<line x1="34.5" y1="270.2" x2="34.5" y2="282" stroke="#999" stroke-width="0.6"/>
<line x1="14.1" y1="287.9" x2="57.8" y2="287.9" stroke="#a0a0a0" stroke-width="0.6"/>
<rect x="30.2" y="282" width="11.6" height="11.8" fill="#f7ede1" stroke="#ddcdbb" stroke-width="0.6"/>
<g fill="#ecceab" stroke="#8f7c68" class="d">
<circle cx="30.5" cy="286.8"/>
<circle cx="41" cy="288.5"/>
<circle cx="46.6" cy="287"/>
<circle cx="41.1" cy="286.9"/>
<circle cx="33.3" cy="287.5"/>
<circle cx="51.6" cy="287.8"/>
<circle cx="48.9" cy="286.7"/>
<circle cx="22.8" cy="286.5"/>
<circle cx="46.4" cy="287.9"/>
<circle cx="38.5" cy="288.5"/>
<circle cx="38.7" cy="287"/>
<circle cx="33.4" cy="286.7"/>
<circle cx="35.8" cy="289.2"/>
<circle cx="36.1" cy="288.8"/>
<circle cx="15.2" cy="287.2"/>
<circle cx="33.4" cy="286.5"/>
<circle cx="38.8" cy="289.3"/>
<circle cx="41.1" cy="288.1"/>
<circle cx="41.2" cy="287"/>
<circle cx="27.9" cy="287.9"/>
<circle cx="33.3" cy="288.1"/>
<circle cx="46.4" cy="286.9"/>
<circle cx="49.2" cy="288.9"/>
<circle cx="54.3" cy="286.7"/>
<circle cx="49.2" cy="289.3"/>
<circle cx="30.6" cy="287.3"/>
<circle cx="28.3" cy="288.1"/>
<circle cx="25.6" cy="288.9"/>
<circle cx="31" cy="288.1"/>
<circle cx="30.8" cy="287.1"/>
<circle cx="43.7" cy="288.2"/>
<circle cx="38.6" cy="288"/>
<circle cx="36" cy="288.2"/>
<circle cx="28.1" cy="288.8"/>
<circle cx="38.5" cy="287"/>
<circle cx="17.6" cy="287.6"/>
<circle cx="25.4" cy="288.8"/>
<circle cx="20.3" cy="288.2"/>
<circle cx="41.2" cy="289.4"/>
<circle cx="33.5" cy="287.3"/>
<circle cx="22.8" cy="287.3"/>
<circle cx="30.7" cy="288.2"/>
<circle cx="33.5" cy="288.5"/>
<circle cx="36" cy="286.8"/>
<circle cx="30.8" cy="288.4"/>
<circle cx="23" cy="288.4"/>
<circle cx="38.5" cy="288.8"/>
<circle cx="43.9" cy="289.1"/>
<circle cx="56.7" cy="287.2"/>
<circle cx="35.9" cy="287.8"/>
<circle cx="46.2" cy="286.7"/>
<circle cx="38.3" cy="287.2"/>
<circle cx="25.8" cy="287.8"/>
<circle cx="41.2" cy="287.6"/>
</g>
<line x1="36.1" y1="282" x2="36.1" y2="293.8" stroke="#999" stroke-width="0.6"/>
<line x1="18.1" y1="299.7" x2="56.2" y2="299.7" stroke="#a0a0a0" stroke-width="0.6"/>
<rect x="33.4" y="293.8" width="9.2" height="11.8" fill="#e5dbeb" stroke="#cbbbd4" stroke-width="0.6"/>
<g fill="#c0a2cf" stroke="#7a6a84" class="d">
<circle cx="40.3" cy="301.2"/>
<circle cx="32.2" cy="301.2"/>
<circle cx="27.1" cy="300.4"/>
<circle cx="37.4" cy="300.4"/>
<circle cx="45.5" cy="298.2"/>
<circle cx="37.3" cy="299.2"/>
<circle cx="34.8" cy="298.5"/>
<circle cx="35.1" cy="300.8"/>
<circle cx="37.4" cy="300.1"/>
<circle cx="40.4" cy="298.4"/>
<circle cx="43" cy="301.1"/>
<circle cx="32.1" cy="300.6"/>
<circle cx="40.3" cy="298.7"/>
<circle cx="37.8" cy="300.1"/>
<circle cx="35.2" cy="299.7"/>
<circle cx="24.7" cy="300.4"/>
<circle cx="40.4" cy="298.7"/>
<circle cx="48.2" cy="298.7"/>
<circle cx="26.9" cy="300.7"/>
<circle cx="42.7" cy="300.8"/>
<circle cx="32.5" cy="300.8"/>
<circle cx="34.7" cy="300.4"/>
<circle cx="48" cy="298.4"/>
<circle cx="24.4" cy="300.2"/>
<circle cx="32.3" cy="300.1"/>
<circle cx="45.3" cy="299.3"/>
<circle cx="19.4" cy="301"/>
<circle cx="37.7" cy="300.2"/>
<circle cx="42.9" cy="298.5"/>
<circle cx="37.7" cy="298.2"/>
<circle cx="26.9" cy="299.6"/>
<circle cx="29.5" cy="300.9"/>
<circle cx="21.8" cy="298.6"/>
<circle cx="35" cy="299.7"/>
<circle cx="48" cy="300.7"/>
<circle cx="35" cy="299.5"/>
<circle cx="53" cy="300.9"/>
<circle cx="50.8" cy="298.4"/>
<circle cx="40.3" cy="300.5"/>
<circle cx="42.8" cy="298.7"/>
<circle cx="34.8" cy="299.4"/>
<circle cx="35.2" cy="300.1"/>
<circle cx="37.7" cy="299.4"/>
<circle cx="40.3" cy="300.7"/>
<circle cx="45.2" cy="299.4"/>
<circle cx="29.6" cy="298.4"/>
<circle cx="48.1" cy="299.6"/>
<circle cx="37.8" cy="299.3"/>
<circle cx="45.5" cy="298.4"/>
<circle cx="45.5" cy="300.5"/>
<circle cx="61" cy="300.7"/>
<circle cx="32.1" cy="300.9"/>
<circle cx="29.8" cy="298.5"/>
<circle cx="55.7" cy="299.8"/>
<circle cx="35" cy="299.5"/>
</g>
<line x1="36.9" y1="293.8" x2="36.9" y2="305.6" stroke="#999" stroke-width="0.6"/>
<polyline points="72.2,287 74.6,285.1 77,287" fill="none" stroke="#333" stroke-width="0.9" stroke-linejoin="round"/>
<rect x="3.4" y="265.6" width="104.4" height="44.6" fill="none" stroke="#555" stroke-width="0.95"/>
<line x1="19.8" y1="310.3" x2="19.8" y2="312.9" stroke="#2b2b2b" stroke-width="0.75"/>
<text x="19.8" y="320.7" text-anchor="middle" font-size="8.7" fill="#1a1a1a" textLength="14.2" lengthAdjust="spacingAndGlyphs">100</text>
<line x1="53.5" y1="310.3" x2="53.5" y2="312.9" stroke="#2b2b2b" stroke-width="0.75"/>
<text x="53.5" y="320.7" text-anchor="middle" font-size="8.7" fill="#1a1a1a" textLength="14.2" lengthAdjust="spacingAndGlyphs">150</text>
<line x1="87.2" y1="310.3" x2="87.2" y2="312.9" stroke="#2b2b2b" stroke-width="0.75"/>
<text x="87.2" y="320.7" text-anchor="middle" font-size="8.7" fill="#1a1a1a" textLength="14.2" lengthAdjust="spacingAndGlyphs">200</text>
<line x1="0.9" y1="287.9" x2="3.4" y2="287.9" stroke="#2b2b2b" stroke-width="0.75"/>
</g>
<g>
<line x1="6.1" y1="351.9" x2="74.7" y2="351.9" stroke="#a0a0a0" stroke-width="0.6"/>
<rect x="18.5" y="346" width="24.1" height="11.8" fill="#dcf3dc" stroke="#bcd9bc" stroke-width="0.6"/>
<g fill="#a9d9a9" stroke="#6a866a" class="d">
<circle cx="17.3" cy="352.9"/>
<circle cx="22.8" cy="350.8"/>
<circle cx="25" cy="351.5"/>
<circle cx="30.3" cy="353.3"/>
<circle cx="22.7" cy="351.5"/>
<circle cx="40.5" cy="350.6"/>
<circle cx="14.7" cy="353.1"/>
<circle cx="25.1" cy="350.9"/>
<circle cx="45.7" cy="351.8"/>
<circle cx="20.1" cy="353.1"/>
<circle cx="82.7" cy="352.5"/>
<circle cx="12.2" cy="350.7"/>
<circle cx="17.3" cy="353.3"/>
<circle cx="12.2" cy="352.7"/>
<circle cx="19.9" cy="351.8"/>
<circle cx="32.9" cy="351.1"/>
<circle cx="56.4" cy="352"/>
<circle cx="25.2" cy="353"/>
<circle cx="20" cy="353.1"/>
<circle cx="12" cy="351.2"/>
<circle cx="17.2" cy="351.1"/>
<circle cx="14.7" cy="352.1"/>
<circle cx="51" cy="352.8"/>
<circle cx="43.4" cy="352.3"/>
<circle cx="27.5" cy="351.9"/>
<circle cx="17.3" cy="352.7"/>
<circle cx="14.9" cy="352.3"/>
<circle cx="61.7" cy="350.4"/>
<circle cx="53.8" cy="352.3"/>
<circle cx="40.8" cy="351.5"/>
<circle cx="19.8" cy="351.9"/>
<circle cx="32.9" cy="351.7"/>
<circle cx="27.8" cy="351.5"/>
<circle cx="74.4" cy="351.1"/>
<circle cx="30.5" cy="352.1"/>
<circle cx="22.8" cy="350.4"/>
<circle cx="46" cy="352.2"/>
<circle cx="35.6" cy="351"/>
<circle cx="38.1" cy="352"/>
<circle cx="6.8" cy="351.1"/>
<circle cx="66.9" cy="352.7"/>
<circle cx="6.9" cy="351.7"/>
<circle cx="14.6" cy="351.3"/>
<circle cx="25.2" cy="350.6"/>
<circle cx="48.5" cy="351.1"/>
<circle cx="58.7" cy="351.4"/>
<circle cx="38.3" cy="351.1"/>
<circle cx="30.3" cy="351.6"/>
<circle cx="53.8" cy="350.9"/>
<circle cx="35.4" cy="351.4"/>
<circle cx="25" cy="352.6"/>
<circle cx="43.5" cy="351.3"/>
<circle cx="51.2" cy="351.4"/>
<circle cx="19.9" cy="350.7"/>
<circle cx="22.6" cy="353"/>
</g>
<line x1="26.5" y1="346" x2="26.5" y2="357.8" stroke="#999" stroke-width="0.6"/>
<line x1="6.4" y1="363.7" x2="79.5" y2="363.7" stroke="#a0a0a0" stroke-width="0.6"/>
<rect x="23.3" y="357.8" width="28.1" height="11.8" fill="#f7ede1" stroke="#ddcdbb" stroke-width="0.6"/>
<g fill="#ecceab" stroke="#8f7c68" class="d">
<circle cx="28.9" cy="363.8"/>
<circle cx="39.4" cy="363.3"/>
<circle cx="26.5" cy="362.5"/>
<circle cx="24" cy="363.8"/>
<circle cx="21.2" cy="363.7"/>
<circle cx="55.2" cy="363"/>
<circle cx="31.5" cy="364"/>
<circle cx="34.4" cy="362.4"/>
<circle cx="8.1" cy="364.4"/>
<circle cx="31.4" cy="363"/>
<circle cx="47.3" cy="362.2"/>
<circle cx="39.4" cy="365.1"/>
<circle cx="62.8" cy="362.3"/>
<circle cx="57.5" cy="365.1"/>
<circle cx="49.8" cy="365.1"/>
<circle cx="16.1" cy="362.9"/>
<circle cx="29" cy="363.6"/>
<circle cx="21.1" cy="362.8"/>
<circle cx="37" cy="362.5"/>
<circle cx="55.3" cy="363"/>
<circle cx="42.2" cy="364"/>
<circle cx="60.3" cy="363.9"/>
<circle cx="13.3" cy="364.8"/>
<circle cx="70.8" cy="362.3"/>
<circle cx="49.6" cy="364.7"/>
<circle cx="44.9" cy="363.3"/>
<circle cx="52.7" cy="363.5"/>
<circle cx="15.9" cy="364.4"/>
<circle cx="41.9" cy="364.7"/>
<circle cx="21.2" cy="362.5"/>
<circle cx="60.1" cy="362.6"/>
<circle cx="31.9" cy="362.7"/>
<circle cx="62.8" cy="365"/>
<circle cx="8" cy="362.9"/>
<circle cx="75.9" cy="364.6"/>
<circle cx="24" cy="363.2"/>
<circle cx="44.8" cy="363.1"/>
<circle cx="21.1" cy="363.9"/>
<circle cx="52.7" cy="362.4"/>
<circle cx="44.6" cy="364.4"/>
<circle cx="73.2" cy="363.6"/>
<circle cx="18.6" cy="362.8"/>
<circle cx="47.2" cy="364.6"/>
<circle cx="34.1" cy="363.7"/>
<circle cx="52.6" cy="364"/>
<circle cx="39.3" cy="363.8"/>
<circle cx="18.8" cy="362.2"/>
<circle cx="26.4" cy="362.6"/>
<circle cx="16.3" cy="362.2"/>
<circle cx="65.3" cy="365"/>
<circle cx="29.2" cy="362.3"/>
<circle cx="37" cy="363.6"/>
<circle cx="42.3" cy="362.5"/>
<circle cx="18.6" cy="362.2"/>
</g>
<line x1="37.4" y1="357.8" x2="37.4" y2="369.6" stroke="#999" stroke-width="0.6"/>
<line x1="16" y1="375.5" x2="65.8" y2="375.5" stroke="#a0a0a0" stroke-width="0.6"/>
<rect x="28.6" y="369.6" width="20.9" height="11.8" fill="#e5dbeb" stroke="#cbbbd4" stroke-width="0.6"/>
<g fill="#c0a2cf" stroke="#7a6a84" class="d">
<circle cx="55.5" cy="374.3"/>
<circle cx="43" cy="374.8"/>
<circle cx="40.3" cy="375.5"/>
<circle cx="50.4" cy="376.9"/>
<circle cx="53.3" cy="374.5"/>
<circle cx="48.1" cy="374.9"/>
<circle cx="21.7" cy="374.9"/>
<circle cx="53.3" cy="375.5"/>
<circle cx="21.7" cy="375.7"/>
<circle cx="16.9" cy="375"/>
<circle cx="29.9" cy="376.7"/>
<circle cx="37.7" cy="377"/>
<circle cx="39.9" cy="374.7"/>
<circle cx="61" cy="375.9"/>
<circle cx="65.8" cy="375.8"/>
<circle cx="27" cy="374.3"/>
<circle cx="50.4" cy="376.7"/>
<circle cx="42.7" cy="374.9"/>
<circle cx="24.5" cy="374.3"/>
<circle cx="27.2" cy="374.4"/>
<circle cx="27.2" cy="375.3"/>
<circle cx="47.7" cy="376.4"/>
<circle cx="58.4" cy="374.1"/>
<circle cx="55.9" cy="376.3"/>
<circle cx="27.3" cy="376.6"/>
<circle cx="48.1" cy="376.1"/>
<circle cx="48.2" cy="374.4"/>
<circle cx="53.3" cy="374.8"/>
<circle cx="19.6" cy="375.7"/>
<circle cx="37.5" cy="374.6"/>
<circle cx="50.4" cy="376.7"/>
<circle cx="24.3" cy="374.7"/>
<circle cx="45.4" cy="375.3"/>
<circle cx="32.5" cy="376.1"/>
<circle cx="32.6" cy="376.9"/>
<circle cx="35" cy="376.3"/>
<circle cx="60.7" cy="375.7"/>
<circle cx="24.6" cy="374.4"/>
<circle cx="53" cy="375.9"/>
<circle cx="45.4" cy="375.7"/>
<circle cx="37.3" cy="375.2"/>
<circle cx="39.9" cy="375.8"/>
<circle cx="24.4" cy="375.8"/>
<circle cx="32.5" cy="375.1"/>
<circle cx="34.8" cy="376.1"/>
<circle cx="19.4" cy="374.1"/>
<circle cx="42.6" cy="375.5"/>
<circle cx="35.1" cy="374.3"/>
<circle cx="55.7" cy="375.7"/>
<circle cx="45.2" cy="376.1"/>
<circle cx="42.9" cy="375.6"/>
<circle cx="29.6" cy="374.5"/>
<circle cx="27.4" cy="376.7"/>
<circle cx="40.3" cy="374.2"/>
</g>
<line x1="40.1" y1="369.6" x2="40.1" y2="381.4" stroke="#999" stroke-width="0.6"/>
<path d="M89.4 360.3v3.2M88 361.1l2.8 1.6M88 362.7l2.8 -1.6" stroke="#2a2a2a" stroke-width="0.75" fill="none"/>
<path d="M93.1 360.3v3.2M91.7 361.1l2.8 1.6M91.7 362.7l2.8 -1.6" stroke="#2a2a2a" stroke-width="0.75" fill="none"/>
<rect x="3.4" y="341.3" width="104.4" height="44.6" fill="none" stroke="#555" stroke-width="0.95"/>
<line x1="15.3" y1="386" x2="15.3" y2="388.6" stroke="#2b2b2b" stroke-width="0.75"/>
<text x="15.3" y="396.4" text-anchor="middle" font-size="8.7" fill="#1a1a1a" textLength="9.4" lengthAdjust="spacingAndGlyphs">25</text>
<line x1="43.8" y1="386" x2="43.8" y2="388.6" stroke="#2b2b2b" stroke-width="0.75"/>
<text x="43.8" y="396.4" text-anchor="middle" font-size="8.7" fill="#1a1a1a" textLength="9.4" lengthAdjust="spacingAndGlyphs">50</text>
<line x1="73.1" y1="386" x2="73.1" y2="388.6" stroke="#2b2b2b" stroke-width="0.75"/>
<text x="73.1" y="396.4" text-anchor="middle" font-size="8.7" fill="#1a1a1a" textLength="9.4" lengthAdjust="spacingAndGlyphs">75</text>
<line x1="102" y1="386" x2="102" y2="388.6" stroke="#2b2b2b" stroke-width="0.75"/>
<text x="102" y="396.4" text-anchor="middle" font-size="8.7" fill="#1a1a1a" textLength="14.2" lengthAdjust="spacingAndGlyphs">100</text>
<line x1="0.9" y1="363.7" x2="3.4" y2="363.7" stroke="#2b2b2b" stroke-width="0.75"/>
</g>
<g>
<line x1="8" y1="427.6" x2="73.9" y2="427.6" stroke="#a0a0a0" stroke-width="0.6"/>
<rect x="26.5" y="421.7" width="23.3" height="11.8" fill="#dcf3dc" stroke="#bcd9bc" stroke-width="0.6"/>
<g fill="#a9d9a9" stroke="#6a866a" class="d">
<circle cx="62.4" cy="428.3"/>
<circle cx="18" cy="428.5"/>
<circle cx="31.1" cy="428.4"/>
<circle cx="49.3" cy="428.2"/>
<circle cx="56.8" cy="426.9"/>
<circle cx="41.1" cy="426.1"/>
<circle cx="41.5" cy="426.5"/>
<circle cx="35.9" cy="428.8"/>
<circle cx="25.5" cy="426.8"/>
<circle cx="67.1" cy="427.3"/>
<circle cx="44.1" cy="428.3"/>
<circle cx="20.3" cy="426.6"/>
<circle cx="25.9" cy="427"/>
<circle cx="73.9" cy="429"/>
<circle cx="22.9" cy="427.1"/>
<circle cx="33.5" cy="426.9"/>
<circle cx="36.1" cy="427.3"/>
<circle cx="49.1" cy="429"/>
<circle cx="25.7" cy="428.4"/>
<circle cx="23.2" cy="427.3"/>
<circle cx="20.3" cy="427.2"/>
<circle cx="54.1" cy="426.3"/>
<circle cx="28.5" cy="428.5"/>
<circle cx="56.7" cy="428.8"/>
<circle cx="28.2" cy="426.5"/>
<circle cx="30.9" cy="428.3"/>
<circle cx="17.8" cy="428.1"/>
<circle cx="46.6" cy="427.5"/>
<circle cx="49.1" cy="427.8"/>
<circle cx="92.8" cy="426.7"/>
<circle cx="59.6" cy="427.4"/>
<circle cx="15.5" cy="426.5"/>
<circle cx="64.5" cy="426.4"/>
<circle cx="59.6" cy="427.1"/>
<circle cx="51.9" cy="426.5"/>
<circle cx="35.9" cy="428.1"/>
<circle cx="38.9" cy="428.2"/>
<circle cx="23.3" cy="428.8"/>
<circle cx="46.7" cy="428.1"/>
<circle cx="54.6" cy="428"/>
<circle cx="49.1" cy="428.7"/>
<circle cx="33.7" cy="427"/>
<circle cx="43.9" cy="426.9"/>
<circle cx="54.4" cy="428.5"/>
<circle cx="31.1" cy="427.1"/>
<circle cx="33.7" cy="427.7"/>
<circle cx="41.5" cy="426.5"/>
<circle cx="9.9" cy="428.6"/>
<circle cx="18.1" cy="428.1"/>
<circle cx="28.2" cy="428.6"/>
<circle cx="28.4" cy="427.2"/>
<circle cx="33.4" cy="429"/>
<circle cx="10" cy="426.5"/>
<circle cx="30.9" cy="428.2"/>
<circle cx="28.3" cy="426.4"/>
</g>
<line x1="34.5" y1="421.7" x2="34.5" y2="433.5" stroke="#999" stroke-width="0.6"/>
<line x1="8" y1="439.4" x2="74.7" y2="439.4" stroke="#a0a0a0" stroke-width="0.6"/>
<rect x="34.2" y="433.5" width="21.5" height="11.8" fill="#f7ede1" stroke="#ddcdbb" stroke-width="0.6"/>
<g fill="#ecceab" stroke="#8f7c68" class="d">
<circle cx="48.3" cy="438.4"/>
<circle cx="53.5" cy="439.3"/>
<circle cx="24.9" cy="439.6"/>
<circle cx="51.1" cy="439.9"/>
<circle cx="58.7" cy="440.7"/>
<circle cx="63.9" cy="438"/>
<circle cx="38" cy="439.9"/>
<circle cx="22.6" cy="438.7"/>
<circle cx="42.9" cy="438.6"/>
<circle cx="58.8" cy="440.5"/>
<circle cx="25.1" cy="437.9"/>
<circle cx="40.5" cy="439.6"/>
<circle cx="32.6" cy="438.1"/>
<circle cx="53.3" cy="439.7"/>
<circle cx="71.9" cy="437.9"/>
<circle cx="35.5" cy="439.3"/>
<circle cx="69.2" cy="439.5"/>
<circle cx="42.9" cy="440.1"/>
<circle cx="61.2" cy="439.3"/>
<circle cx="56.4" cy="439.5"/>
<circle cx="45.6" cy="439.6"/>
<circle cx="32.5" cy="440"/>
<circle cx="48.6" cy="438.8"/>
<circle cx="50.9" cy="440.6"/>
<circle cx="61.3" cy="440.8"/>
<circle cx="35.6" cy="440.7"/>
<circle cx="37.9" cy="439.6"/>
<circle cx="56" cy="439.8"/>
<circle cx="27.8" cy="438.6"/>
<circle cx="37.8" cy="440.5"/>
<circle cx="64" cy="438.5"/>
<circle cx="48.1" cy="438.5"/>
<circle cx="30.2" cy="438.2"/>
<circle cx="63.7" cy="438.1"/>
<circle cx="30.2" cy="438.6"/>
<circle cx="53.6" cy="439.1"/>
<circle cx="69.1" cy="440.8"/>
<circle cx="40.3" cy="438.2"/>
<circle cx="45.6" cy="438.1"/>
<circle cx="45.7" cy="437.9"/>
<circle cx="50.8" cy="438.2"/>
<circle cx="43.3" cy="440.5"/>
<circle cx="14.8" cy="440.7"/>
<circle cx="25.2" cy="440.5"/>
<circle cx="53.5" cy="439.5"/>
<circle cx="11.7" cy="439.5"/>
<circle cx="38" cy="439.6"/>
<circle cx="58.6" cy="439.9"/>
<circle cx="17.1" cy="440.9"/>
<circle cx="22.6" cy="438.6"/>
<circle cx="48.4" cy="438.8"/>
<circle cx="61.4" cy="440.7"/>
<circle cx="40.7" cy="439.2"/>
<circle cx="35.2" cy="439.4"/>
</g>
<line x1="45" y1="433.5" x2="45" y2="445.3" stroke="#999" stroke-width="0.6"/>
<line x1="22.5" y1="451.2" x2="70.7" y2="451.2" stroke="#a0a0a0" stroke-width="0.6"/>
<rect x="36.1" y="445.3" width="16.9" height="11.8" fill="#e5dbeb" stroke="#cbbbd4" stroke-width="0.6"/>
<g fill="#c0a2cf" stroke="#7a6a84" class="d">
<circle cx="39.3" cy="450.9"/>
<circle cx="31.3" cy="452.7"/>
<circle cx="52.1" cy="450.7"/>
<circle cx="41.9" cy="451.1"/>
<circle cx="29.1" cy="449.9"/>
<circle cx="34.1" cy="451.4"/>
<circle cx="33.9" cy="450.6"/>
<circle cx="31.4" cy="450.6"/>
<circle cx="49.7" cy="450.3"/>
<circle cx="39.1" cy="452.3"/>
<circle cx="59.9" cy="449.9"/>
<circle cx="23.5" cy="452.6"/>
<circle cx="39.5" cy="450.2"/>
<circle cx="31.8" cy="449.9"/>
<circle cx="49.5" cy="450.4"/>
<circle cx="70.4" cy="451.4"/>
<circle cx="26.4" cy="452.1"/>
<circle cx="46.9" cy="450.5"/>
<circle cx="68" cy="449.9"/>
<circle cx="47" cy="450.6"/>
<circle cx="34.2" cy="452.3"/>
<circle cx="34" cy="450.9"/>
<circle cx="55" cy="451.7"/>
<circle cx="44.3" cy="450.3"/>
<circle cx="52.1" cy="452.2"/>
<circle cx="60" cy="451.4"/>
<circle cx="36.9" cy="451.5"/>
<circle cx="54.9" cy="452.5"/>
<circle cx="42.1" cy="450.8"/>
<circle cx="62.5" cy="450"/>
<circle cx="31.6" cy="451.2"/>
<circle cx="47.3" cy="451.9"/>
<circle cx="57.5" cy="450.2"/>
<circle cx="36.8" cy="450.3"/>
<circle cx="47" cy="450.6"/>
<circle cx="60.3" cy="451.6"/>
<circle cx="54.9" cy="450"/>
<circle cx="52.5" cy="449.9"/>
<circle cx="36.5" cy="451.8"/>
<circle cx="39.3" cy="449.9"/>
<circle cx="29.2" cy="452"/>
<circle cx="52.5" cy="452.1"/>
<circle cx="57.6" cy="451.6"/>
<circle cx="34.3" cy="451.9"/>
<circle cx="57.4" cy="450.1"/>
<circle cx="49.7" cy="450"/>
<circle cx="49.8" cy="451.7"/>
<circle cx="47" cy="449.7"/>
<circle cx="52.4" cy="450.8"/>
<circle cx="44.3" cy="449.7"/>
<circle cx="57.7" cy="451.9"/>
<circle cx="44.8" cy="452.1"/>
<circle cx="42" cy="451.6"/>
<circle cx="49.9" cy="450"/>
</g>
<line x1="46.6" y1="445.3" x2="46.6" y2="457.1" stroke="#999" stroke-width="0.6"/>
<path d="M100.2 436v3.2M98.8 436.8l2.8 1.6M98.8 438.4l2.8 -1.6" stroke="#2a2a2a" stroke-width="0.75" fill="none"/>
<rect x="3.4" y="417.1" width="104.4" height="44.6" fill="none" stroke="#555" stroke-width="0.95"/>
<line x1="15.3" y1="461.7" x2="15.3" y2="464.3" stroke="#2b2b2b" stroke-width="0.75"/>
<text x="15.3" y="472.1" text-anchor="middle" font-size="8.7" fill="#1a1a1a" textLength="9.4" lengthAdjust="spacingAndGlyphs">25</text>
<line x1="43.4" y1="461.7" x2="43.4" y2="464.3" stroke="#2b2b2b" stroke-width="0.75"/>
<text x="43.4" y="472.1" text-anchor="middle" font-size="8.7" fill="#1a1a1a" textLength="9.4" lengthAdjust="spacingAndGlyphs">50</text>
<line x1="71.9" y1="461.7" x2="71.9" y2="464.3" stroke="#2b2b2b" stroke-width="0.75"/>
<text x="71.9" y="472.1" text-anchor="middle" font-size="8.7" fill="#1a1a1a" textLength="9.4" lengthAdjust="spacingAndGlyphs">75</text>
<line x1="101.2" y1="461.7" x2="101.2" y2="464.3" stroke="#2b2b2b" stroke-width="0.75"/>
<text x="101.2" y="472.1" text-anchor="middle" font-size="8.7" fill="#1a1a1a" textLength="14.2" lengthAdjust="spacingAndGlyphs">100</text>
<line x1="0.9" y1="439.4" x2="3.4" y2="439.4" stroke="#2b2b2b" stroke-width="0.75"/>
</g>
<g>
<line x1="365.5" y1="49" x2="413.7" y2="49" stroke="#a0a0a0" stroke-width="0.6"/>
<rect x="379.2" y="43.1" width="14.4" height="11.8" fill="#dcf3dc" stroke="#bcd9bc" stroke-width="0.6"/>
<g fill="#a9d9a9" stroke="#6a866a" class="d">
<circle cx="382" cy="47.8"/>
<circle cx="384.4" cy="49.6"/>
<circle cx="389.5" cy="49.8"/>
<circle cx="399.9" cy="48.5"/>
<circle cx="392.5" cy="48"/>
<circle cx="381.8" cy="47.7"/>
<circle cx="424.1" cy="50.3"/>
<circle cx="392.2" cy="48"/>
<circle cx="402.6" cy="48.5"/>
<circle cx="407.8" cy="48.9"/>
<circle cx="376.5" cy="50.5"/>
<circle cx="373.9" cy="50.4"/>
<circle cx="395" cy="49.8"/>
<circle cx="402.8" cy="49.9"/>
<circle cx="387" cy="50"/>
<circle cx="387.2" cy="49.3"/>
<circle cx="389.9" cy="47.8"/>
<circle cx="389.9" cy="47.9"/>
<circle cx="397.5" cy="49.7"/>
<circle cx="389.6" cy="50.3"/>
<circle cx="384.3" cy="49"/>
<circle cx="382" cy="48.2"/>
<circle cx="392.3" cy="47.7"/>
<circle cx="387" cy="49.4"/>
<circle cx="376.5" cy="49.3"/>
<circle cx="376.6" cy="49.5"/>
<circle cx="371.3" cy="49.8"/>
<circle cx="384.4" cy="48.3"/>
<circle cx="397.7" cy="47.9"/>
<circle cx="368.8" cy="49.3"/>
<circle cx="384.4" cy="50"/>
<circle cx="394.7" cy="48.2"/>
<circle cx="379.3" cy="48"/>
<circle cx="400" cy="48.5"/>
<circle cx="400.1" cy="49.1"/>
<circle cx="371.6" cy="47.7"/>
<circle cx="389.6" cy="47.9"/>
<circle cx="389.6" cy="48.9"/>
<circle cx="386.9" cy="48.3"/>
<circle cx="379.3" cy="48.6"/>
<circle cx="397.5" cy="47.8"/>
<circle cx="410.6" cy="49.5"/>
<circle cx="366.5" cy="48.9"/>
<circle cx="392.5" cy="48.7"/>
<circle cx="392.5" cy="48.1"/>
<circle cx="379.3" cy="50.3"/>
<circle cx="384.3" cy="50"/>
<circle cx="374" cy="48.5"/>
<circle cx="374.1" cy="49.2"/>
<circle cx="379.1" cy="49"/>
<circle cx="408" cy="47.5"/>
<circle cx="392.1" cy="48.4"/>
<circle cx="382.1" cy="50.4"/>
<circle cx="376.9" cy="48.4"/>
<circle cx="374" cy="49.3"/>
</g>
<line x1="387.2" y1="43.1" x2="387.2" y2="54.9" stroke="#999" stroke-width="0.6"/>
<line x1="366.3" y1="60.8" x2="408.1" y2="60.8" stroke="#a0a0a0" stroke-width="0.6"/>
<rect x="378.7" y="54.9" width="12.5" height="11.8" fill="#f7ede1" stroke="#ddcdbb" stroke-width="0.6"/>
<g fill="#ecceab" stroke="#8f7c68" class="d">
<circle cx="378.7" cy="60.2"/>
<circle cx="396.6" cy="61"/>
<circle cx="381.1" cy="60.4"/>
<circle cx="378.7" cy="59.6"/>
<circle cx="370.9" cy="59.6"/>
<circle cx="394.4" cy="60.2"/>
<circle cx="388.7" cy="59.6"/>
<circle cx="407.1" cy="59.6"/>
<circle cx="375.8" cy="60.2"/>
<circle cx="393.9" cy="59.6"/>
<circle cx="378.5" cy="60.7"/>
<circle cx="386.5" cy="60.6"/>
<circle cx="373.2" cy="59.7"/>
<circle cx="399.3" cy="59.7"/>
<circle cx="419.3" cy="62.2"/>
<circle cx="373.4" cy="60.4"/>
<circle cx="399.4" cy="61.3"/>
<circle cx="383.9" cy="62.3"/>
<circle cx="380.9" cy="61.1"/>
<circle cx="396.7" cy="61.3"/>
<circle cx="375.8" cy="59.5"/>
<circle cx="391.4" cy="59.9"/>
<circle cx="386.5" cy="62.2"/>
<circle cx="376" cy="61.1"/>
<circle cx="376.1" cy="60.2"/>
<circle cx="386.4" cy="60.3"/>
<circle cx="378.3" cy="59.4"/>
<circle cx="368.1" cy="60.8"/>
<circle cx="391.3" cy="60.2"/>
<circle cx="391.7" cy="60.2"/>
<circle cx="383.7" cy="60.8"/>
<circle cx="388.7" cy="60.9"/>
<circle cx="383.5" cy="60.3"/>
<circle cx="373.1" cy="59.4"/>
<circle cx="393.9" cy="61.9"/>
<circle cx="386.1" cy="62.1"/>
<circle cx="389.1" cy="61.8"/>
<circle cx="401.8" cy="60.8"/>
<circle cx="386.2" cy="61"/>
<circle cx="386.5" cy="62"/>
<circle cx="414.5" cy="59.7"/>
<circle cx="389.1" cy="61.8"/>
<circle cx="373.3" cy="61.7"/>
<circle cx="389.2" cy="60.2"/>
<circle cx="396.9" cy="60.6"/>
<circle cx="383.5" cy="61.6"/>
<circle cx="386.5" cy="60.5"/>
<circle cx="366.3" cy="61.9"/>
<circle cx="381.1" cy="60.2"/>
<circle cx="378.5" cy="59.3"/>
<circle cx="396.5" cy="61.7"/>
<circle cx="389" cy="60.4"/>
<circle cx="401.8" cy="60.7"/>
<circle cx="381" cy="60"/>
<circle cx="380.9" cy="59.3"/>
<circle cx="391.5" cy="61.6"/>
</g>
<line x1="385.6" y1="54.9" x2="385.6" y2="66.7" stroke="#999" stroke-width="0.6"/>
<line x1="363.9" y1="72.6" x2="420.1" y2="72.6" stroke="#a0a0a0" stroke-width="0.6"/>
<rect x="385.1" y="66.7" width="14.6" height="11.8" fill="#e5dbeb" stroke="#cbbbd4" stroke-width="0.6"/>
<g fill="#c0a2cf" stroke="#7a6a84" class="d">
<circle cx="400.6" cy="73"/>
<circle cx="397.9" cy="71.6"/>
<circle cx="398.1" cy="72.8"/>
<circle cx="392.5" cy="73.1"/>
<circle cx="377.2" cy="73.3"/>
<circle cx="387.4" cy="73.9"/>
<circle cx="408.1" cy="71.5"/>
<circle cx="395.2" cy="71.4"/>
<circle cx="393" cy="72"/>
<circle cx="430.6" cy="71.9"/>
<circle cx="366.9" cy="72.2"/>
<circle cx="405.8" cy="73.9"/>
<circle cx="403" cy="71.5"/>
<circle cx="390.1" cy="72.6"/>
<circle cx="377" cy="73"/>
<circle cx="387.8" cy="71.9"/>
<circle cx="390" cy="71.9"/>
<circle cx="403.3" cy="73.7"/>
<circle cx="369.4" cy="72.7"/>
<circle cx="392.8" cy="72.1"/>
<circle cx="397.9" cy="73.8"/>
<circle cx="382.4" cy="73.5"/>
<circle cx="390.4" cy="71.6"/>
<circle cx="392.7" cy="72.7"/>
<circle cx="408.6" cy="72.9"/>
<circle cx="398.1" cy="73.1"/>
<circle cx="384.8" cy="73.9"/>
<circle cx="387.6" cy="72.4"/>
<circle cx="390.4" cy="71.2"/>
<circle cx="403.1" cy="72.6"/>
<circle cx="387.5" cy="73.6"/>
<circle cx="374.8" cy="72.1"/>
<circle cx="379.9" cy="74"/>
<circle cx="403.1" cy="73"/>
<circle cx="384.8" cy="71.3"/>
<circle cx="408.6" cy="73.9"/>
<circle cx="384.9" cy="72.1"/>
<circle cx="387.6" cy="71.5"/>
<circle cx="395.3" cy="72.4"/>
<circle cx="382.4" cy="73.1"/>
<circle cx="390.3" cy="72.4"/>
<circle cx="413.8" cy="72.8"/>
<circle cx="411" cy="71.9"/>
<circle cx="395.5" cy="73"/>
<circle cx="395.5" cy="72.3"/>
<circle cx="410.9" cy="72.3"/>
<circle cx="377.1" cy="72.5"/>
<circle cx="374.7" cy="73"/>
<circle cx="387.6" cy="73.5"/>
<circle cx="395.2" cy="71.6"/>
<circle cx="382.5" cy="73.9"/>
<circle cx="400.4" cy="72.2"/>
<circle cx="385.1" cy="71.9"/>
<circle cx="377" cy="71.3"/>
<circle cx="418.7" cy="72.8"/>
</g>
<line x1="391.5" y1="66.7" x2="391.5" y2="78.5" stroke="#999" stroke-width="0.6"/>
<path d="M438.1 57.4v3.2M436.7 58.2l2.8 1.6M436.7 59.8l2.8 -1.6" stroke="#2a2a2a" stroke-width="0.75" fill="none"/>
<rect x="338.4" y="38.5" width="104.5" height="44.6" fill="none" stroke="#555" stroke-width="0.95"/>
<line x1="343.8" y1="83.1" x2="343.8" y2="85.7" stroke="#2b2b2b" stroke-width="0.75"/>
<text x="343.8" y="93.5" text-anchor="middle" font-size="8.7" fill="#1a1a1a" textLength="9.4" lengthAdjust="spacingAndGlyphs">25</text>
<line x1="369.5" y1="83.1" x2="369.5" y2="85.7" stroke="#2b2b2b" stroke-width="0.75"/>
<text x="369.5" y="93.5" text-anchor="middle" font-size="8.7" fill="#1a1a1a" textLength="9.4" lengthAdjust="spacingAndGlyphs">50</text>
<line x1="394.7" y1="83.1" x2="394.7" y2="85.7" stroke="#2b2b2b" stroke-width="0.75"/>
<text x="394.7" y="93.5" text-anchor="middle" font-size="8.7" fill="#1a1a1a" textLength="9.4" lengthAdjust="spacingAndGlyphs">75</text>
<line x1="419.8" y1="83.1" x2="419.8" y2="85.7" stroke="#2b2b2b" stroke-width="0.75"/>
<text x="419.8" y="93.5" text-anchor="middle" font-size="8.7" fill="#1a1a1a" textLength="14.2" lengthAdjust="spacingAndGlyphs">100</text>
</g>
<g>
<line x1="365.2" y1="124.7" x2="405.7" y2="124.7" stroke="#a0a0a0" stroke-width="0.6"/>
<rect x="379.5" y="118.8" width="12.8" height="11.8" fill="#dcf3dc" stroke="#bcd9bc" stroke-width="0.6"/>
<g fill="#a9d9a9" stroke="#6a866a" class="d">
<circle cx="398.3" cy="124"/>
<circle cx="390.2" cy="125.2"/>
<circle cx="400.9" cy="125.1"/>
<circle cx="379.7" cy="123.5"/>
<circle cx="385.1" cy="125"/>
<circle cx="398.3" cy="123.7"/>
<circle cx="369.7" cy="123.9"/>
<circle cx="385.3" cy="125.3"/>
<circle cx="393.2" cy="124.9"/>
<circle cx="380" cy="124.9"/>
<circle cx="382.4" cy="125"/>
<circle cx="395.7" cy="124.7"/>
<circle cx="390.3" cy="125.2"/>
<circle cx="372" cy="124.4"/>
<circle cx="385.2" cy="123.5"/>
<circle cx="382.5" cy="125.4"/>
<circle cx="380" cy="123.8"/>
<circle cx="377.4" cy="124.6"/>
<circle cx="393.1" cy="124.8"/>
<circle cx="387.8" cy="126.1"/>
<circle cx="397.9" cy="124.8"/>
<circle cx="382.4" cy="123.3"/>
<circle cx="377.4" cy="123.9"/>
<circle cx="372" cy="124.9"/>
<circle cx="385.1" cy="124.6"/>
<circle cx="367.2" cy="124.7"/>
<circle cx="382.3" cy="124.3"/>
<circle cx="390.3" cy="125.6"/>
<circle cx="374.9" cy="125"/>
<circle cx="385.3" cy="125.5"/>
<circle cx="392.8" cy="125.2"/>
<circle cx="395.6" cy="123.3"/>
<circle cx="403.4" cy="125.6"/>
<circle cx="345.9" cy="123.4"/>
<circle cx="390.2" cy="126"/>
<circle cx="393" cy="125.6"/>
<circle cx="390.5" cy="125.5"/>
<circle cx="390.3" cy="126"/>
<circle cx="379.8" cy="124.5"/>
<circle cx="393" cy="125.9"/>
<circle cx="425.7" cy="124"/>
<circle cx="377.3" cy="124.7"/>
<circle cx="372.3" cy="126.1"/>
<circle cx="398.3" cy="123.2"/>
<circle cx="387.5" cy="124.4"/>
<circle cx="349.5" cy="123.8"/>
<circle cx="387.6" cy="124.6"/>
<circle cx="403.1" cy="125.3"/>
<circle cx="374.7" cy="123.4"/>
<circle cx="387.7" cy="125.7"/>
<circle cx="387.7" cy="124.6"/>
<circle cx="375" cy="123.4"/>
<circle cx="382.8" cy="125.6"/>
<circle cx="382.5" cy="123.8"/>
<circle cx="380" cy="123.2"/>
<circle cx="374.5" cy="124.6"/>
<circle cx="395.3" cy="125.4"/>
</g>
<line x1="385.9" y1="118.8" x2="385.9" y2="130.6" stroke="#999" stroke-width="0.6"/>
<line x1="369.5" y1="136.5" x2="398.4" y2="136.5" stroke="#a0a0a0" stroke-width="0.6"/>
<rect x="382.7" y="130.6" width="7.7" height="11.8" fill="#f7ede1" stroke="#ddcdbb" stroke-width="0.6"/>
<g fill="#ecceab" stroke="#8f7c68" class="d">
<circle cx="391.7" cy="136.8"/>
<circle cx="371" cy="136.4"/>
<circle cx="396.8" cy="135.8"/>
<circle cx="384.2" cy="137.5"/>
<circle cx="381.2" cy="137.5"/>
<circle cx="384.1" cy="135.6"/>
<circle cx="389.1" cy="135.7"/>
<circle cx="386.7" cy="135.6"/>
<circle cx="383.8" cy="137.4"/>
<circle cx="381.7" cy="137.4"/>
<circle cx="376.1" cy="137.7"/>
<circle cx="389" cy="135.1"/>
<circle cx="384.2" cy="136.5"/>
<circle cx="386.6" cy="136.6"/>
<circle cx="389.1" cy="137.7"/>
<circle cx="381.6" cy="137.6"/>
<circle cx="373.4" cy="136.5"/>
<circle cx="389.2" cy="137"/>
<circle cx="391.9" cy="137.7"/>
<circle cx="386.6" cy="137.2"/>
<circle cx="389.4" cy="137.4"/>
<circle cx="381.6" cy="137.1"/>
<circle cx="389.3" cy="138"/>
<circle cx="391.8" cy="136.4"/>
<circle cx="386.4" cy="135.8"/>
<circle cx="379" cy="137.6"/>
<circle cx="416.4" cy="135.4"/>
<circle cx="386.6" cy="136.3"/>
<circle cx="376.4" cy="137.2"/>
<circle cx="391.8" cy="135.8"/>
<circle cx="384.3" cy="135.6"/>
<circle cx="386.8" cy="135.7"/>
<circle cx="396.8" cy="135.7"/>
<circle cx="394.3" cy="135.5"/>
<circle cx="403.3" cy="137"/>
<circle cx="384.3" cy="136.7"/>
<circle cx="386.8" cy="135.8"/>
<circle cx="392" cy="136.5"/>
<circle cx="394.6" cy="137.8"/>
<circle cx="386.8" cy="137.4"/>
<circle cx="411.8" cy="135.5"/>
<circle cx="386.7" cy="137"/>
<circle cx="348.2" cy="136.4"/>
<circle cx="384.1" cy="135"/>
<circle cx="389.5" cy="135.9"/>
<circle cx="392" cy="135.5"/>
<circle cx="384.1" cy="136.2"/>
<circle cx="386.8" cy="136"/>
<circle cx="394.4" cy="137.7"/>
<circle cx="373.7" cy="135.8"/>
<circle cx="389.2" cy="137.9"/>
<circle cx="397.3" cy="138"/>
<circle cx="378.9" cy="135.3"/>
<circle cx="392" cy="137"/>
<circle cx="378.9" cy="137"/>
<circle cx="379.1" cy="136.9"/>
<circle cx="376.3" cy="135"/>
<circle cx="383.8" cy="135.8"/>
</g>
<line x1="386.4" y1="130.6" x2="386.4" y2="142.4" stroke="#999" stroke-width="0.6"/>
<line x1="367.1" y1="148.3" x2="404.1" y2="148.3" stroke="#a0a0a0" stroke-width="0.6"/>
<rect x="377.6" y="142.4" width="10.1" height="11.8" fill="#e5dbeb" stroke="#cbbbd4" stroke-width="0.6"/>
<g fill="#c0a2cf" stroke="#7a6a84" class="d">
<circle cx="390.8" cy="149.4"/>
<circle cx="370.4" cy="149.7"/>
<circle cx="388.7" cy="149"/>
<circle cx="375.4" cy="147.1"/>
<circle cx="391" cy="147.4"/>
<circle cx="378.1" cy="148.3"/>
<circle cx="380.5" cy="147"/>
<circle cx="375.6" cy="147.7"/>
<circle cx="386" cy="146.8"/>
<circle cx="377.8" cy="147.7"/>
<circle cx="370.3" cy="148.9"/>
<circle cx="388.2" cy="149.2"/>
<circle cx="386" cy="146.9"/>
<circle cx="385.6" cy="149.1"/>
<circle cx="383" cy="148.7"/>
<circle cx="378" cy="148"/>
<circle cx="380.7" cy="149"/>
<circle cx="383" cy="149.8"/>
<circle cx="375.4" cy="147.9"/>
<circle cx="383.3" cy="149.1"/>
<circle cx="377.9" cy="149.5"/>
<circle cx="396" cy="148.5"/>
<circle cx="386.1" cy="147.9"/>
<circle cx="385.8" cy="147.2"/>
<circle cx="375.4" cy="147.5"/>
<circle cx="393.4" cy="149.5"/>
<circle cx="375.5" cy="148.2"/>
<circle cx="377.8" cy="147.6"/>
<circle cx="383.4" cy="149.8"/>
<circle cx="383" cy="147"/>
<circle cx="393.8" cy="148.9"/>
<circle cx="375.4" cy="148.3"/>
<circle cx="385.9" cy="147.3"/>
<circle cx="396.1" cy="149.3"/>
<circle cx="383.3" cy="147.4"/>
<circle cx="380.5" cy="148.9"/>
<circle cx="372.8" cy="149"/>
<circle cx="386" cy="148.9"/>
<circle cx="380.4" cy="149.5"/>
<circle cx="367.8" cy="147.2"/>
<circle cx="372.6" cy="146.8"/>
<circle cx="401.5" cy="147.2"/>
<circle cx="372.7" cy="147.4"/>
<circle cx="383.1" cy="147"/>
<circle cx="388.6" cy="147.2"/>
<circle cx="380.8" cy="147.5"/>
<circle cx="386" cy="149"/>
<circle cx="355.6" cy="149.6"/>
<circle cx="385.8" cy="147.9"/>
<circle cx="388.7" cy="149.7"/>
<circle cx="401.5" cy="149.2"/>
<circle cx="391" cy="147.1"/>
<circle cx="393.4" cy="149.3"/>
<circle cx="390.9" cy="148.8"/>
<circle cx="378.1" cy="147.5"/>
</g>
<line x1="383.5" y1="142.4" x2="383.5" y2="154.2" stroke="#999" stroke-width="0.6"/>
<polyline points="432.4,135.6 434.8,133.7 437.2,135.6" fill="none" stroke="#333" stroke-width="0.9" stroke-linejoin="round"/>
<rect x="338.4" y="114.2" width="104.5" height="44.6" fill="none" stroke="#555" stroke-width="0.95"/>
<line x1="356.7" y1="158.8" x2="356.7" y2="161.4" stroke="#2b2b2b" stroke-width="0.75"/>
<text x="356.7" y="169.2" text-anchor="middle" font-size="8.7" fill="#1a1a1a" textLength="14.2" lengthAdjust="spacingAndGlyphs">250</text>
<line x1="387.2" y1="158.8" x2="387.2" y2="161.4" stroke="#2b2b2b" stroke-width="0.75"/>
<text x="387.2" y="169.2" text-anchor="middle" font-size="8.7" fill="#1a1a1a" textLength="14.2" lengthAdjust="spacingAndGlyphs">500</text>
<line x1="418.5" y1="158.8" x2="418.5" y2="161.4" stroke="#2b2b2b" stroke-width="0.75"/>
<text x="418.5" y="169.2" text-anchor="middle" font-size="8.7" fill="#1a1a1a" textLength="14.2" lengthAdjust="spacingAndGlyphs">750</text>
</g>
<g>
<line x1="356.7" y1="200.4" x2="376.8" y2="200.4" stroke="#a0a0a0" stroke-width="0.6"/>
<rect x="362.6" y="194.5" width="8.1" height="11.8" fill="#dcf3dc" stroke="#bcd9bc" stroke-width="0.6"/>
<g fill="#a9d9a9" stroke="#6a866a" class="d">
<circle cx="365.2" cy="200.6"/>
<circle cx="373.2" cy="201.4"/>
<circle cx="370.6" cy="200.2"/>
<circle cx="395.2" cy="199.2"/>
<circle cx="373.1" cy="201.8"/>
<circle cx="368.1" cy="200.4"/>
<circle cx="357.8" cy="199.1"/>
<circle cx="367.9" cy="201.5"/>
<circle cx="373.4" cy="199"/>
<circle cx="370.5" cy="200.5"/>
<circle cx="365.1" cy="201.3"/>
<circle cx="365.3" cy="199.3"/>
<circle cx="363" cy="199.2"/>
<circle cx="370.4" cy="200.8"/>
<circle cx="365.5" cy="200.2"/>
<circle cx="370.6" cy="199.3"/>
<circle cx="360.1" cy="201.8"/>
<circle cx="370.3" cy="201.1"/>
<circle cx="389.1" cy="201.5"/>
<circle cx="382.7" cy="199.8"/>
<circle cx="373" cy="199"/>
<circle cx="357.4" cy="200.9"/>
<circle cx="365.2" cy="201.4"/>
<circle cx="362.9" cy="201.1"/>
<circle cx="370.3" cy="200.7"/>
<circle cx="367.9" cy="201.8"/>
<circle cx="370.8" cy="199.9"/>
<circle cx="365.3" cy="199.4"/>
<circle cx="367.9" cy="199.6"/>
<circle cx="370.8" cy="200.8"/>
<circle cx="368" cy="200.6"/>
<circle cx="368" cy="199.9"/>
<circle cx="365.4" cy="200.7"/>
<circle cx="362.5" cy="199.5"/>
<circle cx="363" cy="200.3"/>
<circle cx="375.6" cy="201.3"/>
<circle cx="373.3" cy="200.5"/>
<circle cx="362.7" cy="200.4"/>
<circle cx="357.4" cy="200.4"/>
<circle cx="347.8" cy="199.6"/>
<circle cx="360.3" cy="199.3"/>
<circle cx="373.3" cy="201.3"/>
<circle cx="365.5" cy="199.4"/>
<circle cx="360.2" cy="199.7"/>
<circle cx="360" cy="200.2"/>
<circle cx="370.5" cy="199.3"/>
<circle cx="370.3" cy="199.5"/>
<circle cx="376" cy="199"/>
<circle cx="411.3" cy="201.6"/>
<circle cx="367.9" cy="201.4"/>
<circle cx="360.2" cy="200.1"/>
<circle cx="362.9" cy="199.5"/>
<circle cx="362.7" cy="201.1"/>
<circle cx="368.2" cy="201.6"/>
<circle cx="368" cy="201.9"/>
<circle cx="373.1" cy="200.4"/>
<circle cx="360" cy="200.6"/>
<circle cx="401.6" cy="200.9"/>
<circle cx="373.2" cy="201.9"/>
<circle cx="363" cy="200.8"/>
</g>
<line x1="367.6" y1="194.5" x2="367.6" y2="206.3" stroke="#999" stroke-width="0.6"/>
<line x1="357.5" y1="212.2" x2="377.1" y2="212.2" stroke="#a0a0a0" stroke-width="0.6"/>
<rect x="367.6" y="206.3" width="5.6" height="11.8" fill="#f7ede1" stroke="#ddcdbb" stroke-width="0.6"/>
<g fill="#ecceab" stroke="#8f7c68" class="d">
<circle cx="368.3" cy="211.4"/>
<circle cx="376" cy="212.7"/>
<circle cx="371.2" cy="213"/>
<circle cx="373.6" cy="212.6"/>
<circle cx="370.9" cy="210.8"/>
<circle cx="373.6" cy="212.8"/>
<circle cx="373.7" cy="212.1"/>
<circle cx="371" cy="211"/>
<circle cx="373.7" cy="211.8"/>
<circle cx="373.4" cy="212.4"/>
<circle cx="370.9" cy="212.3"/>
<circle cx="373.4" cy="211.7"/>
<circle cx="368.1" cy="210.8"/>
<circle cx="382.7" cy="212"/>
<circle cx="370.8" cy="212.5"/>
<circle cx="375.9" cy="210.8"/>
<circle cx="368.2" cy="211.8"/>
<circle cx="363" cy="211.5"/>
<circle cx="370.9" cy="212.8"/>
<circle cx="370.9" cy="212.4"/>
<circle cx="373.4" cy="213.5"/>
<circle cx="376" cy="211.2"/>
<circle cx="368.3" cy="213.3"/>
<circle cx="371.2" cy="212.2"/>
<circle cx="373.6" cy="212.1"/>
<circle cx="368.3" cy="211.6"/>
<circle cx="368.5" cy="211.1"/>
<circle cx="373.4" cy="212.7"/>
<circle cx="365.6" cy="212.8"/>
<circle cx="370.9" cy="212.7"/>
<circle cx="365.5" cy="213.5"/>
<circle cx="370.9" cy="213.1"/>
<circle cx="368.4" cy="212.9"/>
<circle cx="368.4" cy="213.5"/>
<circle cx="370.8" cy="213.5"/>
<circle cx="373.4" cy="212.2"/>
<circle cx="363.1" cy="212.1"/>
<circle cx="373.7" cy="213.7"/>
<circle cx="358" cy="213"/>
<circle cx="373.6" cy="212.2"/>
<circle cx="368.3" cy="212.3"/>
<circle cx="368.5" cy="210.9"/>
<circle cx="363" cy="213.1"/>
<circle cx="376.1" cy="212.9"/>
<circle cx="376" cy="211.1"/>
<circle cx="354.3" cy="213.6"/>
<circle cx="363.2" cy="213"/>
<circle cx="360.5" cy="211.1"/>
<circle cx="373.5" cy="211.8"/>
<circle cx="347.8" cy="213.6"/>
<circle cx="365.6" cy="213"/>
<circle cx="389.1" cy="212.6"/>
<circle cx="368.1" cy="210.8"/>
<circle cx="360.4" cy="211"/>
<circle cx="365.6" cy="213.7"/>
<circle cx="373.6" cy="212.6"/>
<circle cx="371.1" cy="211.5"/>
<circle cx="365.5" cy="212.8"/>
</g>
<line x1="370.3" y1="206.3" x2="370.3" y2="218.1" stroke="#999" stroke-width="0.6"/>
<line x1="357.2" y1="224" x2="383.2" y2="224" stroke="#a0a0a0" stroke-width="0.6"/>
<rect x="367.4" y="218.1" width="6.1" height="11.8" fill="#e5dbeb" stroke="#cbbbd4" stroke-width="0.6"/>
<g fill="#c0a2cf" stroke="#7a6a84" class="d">
<circle cx="359.3" cy="222.5"/>
<circle cx="357.2" cy="223.4"/>
<circle cx="377.2" cy="224.9"/>
<circle cx="366.9" cy="223.6"/>
<circle cx="372" cy="223.1"/>
<circle cx="367.2" cy="224.9"/>
<circle cx="382.4" cy="223.7"/>
<circle cx="361.6" cy="223.8"/>
<circle cx="364.5" cy="224.7"/>
<circle cx="367" cy="225.3"/>
<circle cx="369.6" cy="224"/>
<circle cx="379.8" cy="225.1"/>
<circle cx="372.2" cy="224"/>
<circle cx="366.9" cy="224.1"/>
<circle cx="367" cy="224.8"/>
<circle cx="369.6" cy="225.3"/>
<circle cx="372.3" cy="223.4"/>
<circle cx="372.2" cy="224.2"/>
<circle cx="375.1" cy="224.9"/>
<circle cx="369.4" cy="223.2"/>
<circle cx="374.7" cy="223.2"/>
<circle cx="369.7" cy="225.1"/>
<circle cx="361.8" cy="224.6"/>
<circle cx="364.6" cy="225.1"/>
<circle cx="364.5" cy="225"/>
<circle cx="367.2" cy="224.3"/>
<circle cx="379.9" cy="223.3"/>
<circle cx="364.4" cy="224.3"/>
<circle cx="369.5" cy="223.4"/>
<circle cx="372" cy="224.6"/>
<circle cx="377.3" cy="223.8"/>
<circle cx="377.3" cy="224.9"/>
<circle cx="364.4" cy="224.6"/>
<circle cx="366.8" cy="223.9"/>
<circle cx="374.8" cy="223.2"/>
<circle cx="369.8" cy="223.4"/>
<circle cx="369.5" cy="225"/>
<circle cx="372.3" cy="223.1"/>
<circle cx="386.1" cy="224.7"/>
<circle cx="372.3" cy="225.4"/>
<circle cx="372" cy="224.7"/>
<circle cx="374.6" cy="225"/>
<circle cx="369.4" cy="224.4"/>
<circle cx="369.7" cy="224"/>
<circle cx="372" cy="224.9"/>
<circle cx="374.8" cy="223.8"/>
<circle cx="377.3" cy="225.1"/>
<circle cx="372.3" cy="224.8"/>
<circle cx="369.7" cy="223.5"/>
<circle cx="372.4" cy="225.3"/>
<circle cx="372" cy="222.8"/>
<circle cx="372.3" cy="224.5"/>
<circle cx="377.4" cy="222.7"/>
<circle cx="361.7" cy="224.9"/>
<circle cx="369.6" cy="224.7"/>
<circle cx="392" cy="225.3"/>
</g>
<line x1="370.7" y1="218.1" x2="370.7" y2="229.9" stroke="#999" stroke-width="0.6"/>
<polyline points="416.3,211.3 418.7,209.4 421.1,211.3" fill="none" stroke="#333" stroke-width="0.9" stroke-linejoin="round"/>
<rect x="338.4" y="189.9" width="104.5" height="44.6" fill="none" stroke="#555" stroke-width="0.95"/>
<line x1="338.5" y1="234.5" x2="338.5" y2="237.1" stroke="#2b2b2b" stroke-width="0.75"/>
<text x="338.5" y="244.9" text-anchor="middle" font-size="8.7" fill="#1a1a1a" textLength="4.7" lengthAdjust="spacingAndGlyphs">0</text>
<line x1="386.1" y1="234.5" x2="386.1" y2="237.1" stroke="#2b2b2b" stroke-width="0.75"/>
<text x="386.1" y="244.9" text-anchor="middle" font-size="8.7" fill="#1a1a1a" textLength="4.7" lengthAdjust="spacingAndGlyphs">5</text>
<line x1="433.3" y1="234.5" x2="433.3" y2="237.1" stroke="#2b2b2b" stroke-width="0.75"/>
<text x="433.3" y="244.9" text-anchor="middle" font-size="8.7" fill="#1a1a1a" textLength="9.4" lengthAdjust="spacingAndGlyphs">10</text>
</g>
<g>
<line x1="341.4" y1="276.1" x2="379.2" y2="276.1" stroke="#a0a0a0" stroke-width="0.6"/>
<rect x="354.6" y="270.2" width="8" height="11.8" fill="#dcf3dc" stroke="#bcd9bc" stroke-width="0.6"/>
<g fill="#a9d9a9" stroke="#6a866a" class="d">
<circle cx="405.3" cy="276.4"/>
<circle cx="368.5" cy="275.7"/>
<circle cx="358.3" cy="277.5"/>
<circle cx="360.8" cy="275.3"/>
<circle cx="365.7" cy="277"/>
<circle cx="360.5" cy="275.7"/>
<circle cx="370.9" cy="277.4"/>
<circle cx="358.3" cy="275.1"/>
<circle cx="350.3" cy="277.5"/>
<circle cx="363.1" cy="275.6"/>
<circle cx="355.6" cy="274.9"/>
<circle cx="355.7" cy="275.6"/>
<circle cx="355.5" cy="274.8"/>
<circle cx="368.3" cy="276.6"/>
<circle cx="360.8" cy="275.1"/>
<circle cx="360.9" cy="275.1"/>
<circle cx="350.4" cy="277.5"/>
<circle cx="360.6" cy="276.7"/>
<circle cx="366" cy="275.8"/>
<circle cx="350.2" cy="277.2"/>
<circle cx="353.1" cy="274.9"/>
<circle cx="363.1" cy="277.5"/>
<circle cx="357.9" cy="275.4"/>
<circle cx="345.2" cy="276.7"/>
<circle cx="355.7" cy="276.7"/>
<circle cx="363.5" cy="275.8"/>
<circle cx="368.3" cy="277.5"/>
<circle cx="355.5" cy="277.2"/>
<circle cx="384" cy="275.9"/>
<circle cx="355.6" cy="276.4"/>
<circle cx="355.5" cy="275"/>
<circle cx="358.1" cy="276.3"/>
<circle cx="347.9" cy="276.1"/>
<circle cx="358.3" cy="276.5"/>
<circle cx="342.5" cy="277"/>
<circle cx="358.2" cy="275"/>
<circle cx="352.7" cy="276.5"/>
<circle cx="358" cy="277.1"/>
<circle cx="353" cy="276"/>
<circle cx="350.5" cy="277.3"/>
<circle cx="358.2" cy="277.5"/>
<circle cx="363.1" cy="276"/>
<circle cx="366.1" cy="275.6"/>
<circle cx="355.7" cy="275.3"/>
<circle cx="347.7" cy="275.2"/>
<circle cx="376.2" cy="277.2"/>
<circle cx="360.7" cy="276.9"/>
<circle cx="355.7" cy="274.9"/>
<circle cx="376.5" cy="276.5"/>
<circle cx="360.7" cy="276.4"/>
<circle cx="358.1" cy="275"/>
<circle cx="368.3" cy="277.4"/>
<circle cx="371.1" cy="276.7"/>
<circle cx="355.6" cy="274.9"/>
<circle cx="347.6" cy="277.6"/>
<circle cx="358" cy="277.2"/>
</g>
<line x1="357.8" y1="270.2" x2="357.8" y2="282" stroke="#999" stroke-width="0.6"/>
<line x1="345.9" y1="287.9" x2="373.5" y2="287.9" stroke="#a0a0a0" stroke-width="0.6"/>
<rect x="354.6" y="282" width="7.7" height="11.8" fill="#f7ede1" stroke="#ddcdbb" stroke-width="0.6"/>
<g fill="#ecceab" stroke="#8f7c68" class="d">
<circle cx="359.8" cy="288.9"/>
<circle cx="346.7" cy="286.9"/>
<circle cx="367.7" cy="289.1"/>
<circle cx="354.5" cy="286.7"/>
<circle cx="362.2" cy="288.2"/>
<circle cx="369.9" cy="286.5"/>
<circle cx="378.4" cy="287.2"/>
<circle cx="356.9" cy="288.5"/>
<circle cx="357.3" cy="288.5"/>
<circle cx="360" cy="287.1"/>
<circle cx="364.9" cy="288.6"/>
<circle cx="352.1" cy="287.8"/>
<circle cx="365.2" cy="288.7"/>
<circle cx="362.6" cy="289.3"/>
<circle cx="367.7" cy="287.6"/>
<circle cx="346.6" cy="288.6"/>
<circle cx="351.9" cy="286.6"/>
<circle cx="357.1" cy="287.5"/>
<circle cx="354.6" cy="288.7"/>
<circle cx="351.8" cy="287.4"/>
<circle cx="357.1" cy="289.2"/>
<circle cx="354.3" cy="289.4"/>
<circle cx="359.8" cy="288.9"/>
<circle cx="351.7" cy="287.9"/>
<circle cx="351.9" cy="286.4"/>
<circle cx="359.8" cy="289.4"/>
<circle cx="352" cy="288.3"/>
<circle cx="359.5" cy="288.1"/>
<circle cx="351.9" cy="288.9"/>
<circle cx="359.6" cy="286.9"/>
<circle cx="367.3" cy="287.7"/>
<circle cx="349.6" cy="286.8"/>
<circle cx="360" cy="287.4"/>
<circle cx="357.2" cy="289"/>
<circle cx="354.7" cy="289.4"/>
<circle cx="362.4" cy="286.7"/>
<circle cx="365" cy="287.7"/>
<circle cx="362.1" cy="286.9"/>
<circle cx="349.4" cy="287"/>
<circle cx="367.3" cy="289.3"/>
<circle cx="364.9" cy="288"/>
<circle cx="354.4" cy="289.1"/>
<circle cx="357.3" cy="288.5"/>
<circle cx="354.3" cy="286.8"/>
<circle cx="359.9" cy="287.5"/>
<circle cx="357.3" cy="289.3"/>
<circle cx="357.1" cy="288.3"/>
<circle cx="362.4" cy="289"/>
<circle cx="354.6" cy="288.2"/>
<circle cx="372.9" cy="288.7"/>
<circle cx="364.8" cy="289.1"/>
<circle cx="362.3" cy="288.8"/>
<circle cx="357.3" cy="287.7"/>
<circle cx="354.7" cy="288.7"/>
<circle cx="357.2" cy="287.4"/>
</g>
<line x1="357.8" y1="282" x2="357.8" y2="293.8" stroke="#999" stroke-width="0.6"/>
<line x1="341.1" y1="299.7" x2="378.4" y2="299.7" stroke="#a0a0a0" stroke-width="0.6"/>
<rect x="355.6" y="293.8" width="10.2" height="11.8" fill="#e5dbeb" stroke="#cbbbd4" stroke-width="0.6"/>
<g fill="#c0a2cf" stroke="#7a6a84" class="d">
<circle cx="352.3" cy="298.3"/>
<circle cx="346.8" cy="298.4"/>
<circle cx="352" cy="299.9"/>
<circle cx="375.5" cy="299.1"/>
<circle cx="359.7" cy="300.2"/>
<circle cx="354.6" cy="300.5"/>
<circle cx="370.1" cy="301"/>
<circle cx="372.8" cy="301.2"/>
<circle cx="357.3" cy="298.4"/>
<circle cx="365" cy="298.9"/>
<circle cx="357.5" cy="298.3"/>
<circle cx="365.1" cy="299.5"/>
<circle cx="365.2" cy="298.9"/>
<circle cx="360" cy="298.5"/>
<circle cx="351.9" cy="301.2"/>
<circle cx="367.6" cy="298.2"/>
<circle cx="392" cy="300.5"/>
<circle cx="365" cy="299.7"/>
<circle cx="370.3" cy="298.4"/>
<circle cx="370.2" cy="300.5"/>
<circle cx="354.7" cy="299.6"/>
<circle cx="365.1" cy="300"/>
<circle cx="357" cy="298.5"/>
<circle cx="360" cy="300.4"/>
<circle cx="362.6" cy="300.3"/>
<circle cx="357.4" cy="300.9"/>
<circle cx="362.5" cy="300.8"/>
<circle cx="367.7" cy="299.1"/>
<circle cx="357.4" cy="298.3"/>
<circle cx="362.2" cy="299.3"/>
<circle cx="354.6" cy="299.6"/>
<circle cx="362.4" cy="299.3"/>
<circle cx="378" cy="298.7"/>
<circle cx="341.8" cy="300.2"/>
<circle cx="344.2" cy="300.7"/>
<circle cx="372.8" cy="298.9"/>
<circle cx="367.6" cy="299.7"/>
<circle cx="354.5" cy="298.5"/>
<circle cx="370.4" cy="299.1"/>
<circle cx="362.6" cy="299.8"/>
<circle cx="362.4" cy="298.8"/>
<circle cx="359.7" cy="298.9"/>
<circle cx="360" cy="298.6"/>
<circle cx="349.4" cy="299.5"/>
<circle cx="365.1" cy="300.2"/>
<circle cx="349.4" cy="298.8"/>
<circle cx="352" cy="299.6"/>
<circle cx="362.3" cy="299.7"/>
<circle cx="365" cy="298.6"/>
<circle cx="365" cy="298.3"/>
<circle cx="365" cy="298.9"/>
<circle cx="362.4" cy="299.6"/>
<circle cx="349.4" cy="299.8"/>
<circle cx="364.8" cy="300.6"/>
<circle cx="367.6" cy="301.2"/>
</g>
<line x1="362.6" y1="293.8" x2="362.6" y2="305.6" stroke="#999" stroke-width="0.6"/>
<path d="M411.1 284.5v3.2M409.8 285.3l2.8 1.6M409.8 286.9l2.8 -1.6" stroke="#2a2a2a" stroke-width="0.75" fill="none"/>
<rect x="338.4" y="265.6" width="104.5" height="44.6" fill="none" stroke="#555" stroke-width="0.95"/>
<line x1="362.6" y1="310.3" x2="362.6" y2="312.9" stroke="#2b2b2b" stroke-width="0.75"/>
<text x="362.6" y="320.7" text-anchor="middle" font-size="8.7" fill="#1a1a1a" textLength="4.7" lengthAdjust="spacingAndGlyphs">5</text>
<line x1="402.8" y1="310.3" x2="402.8" y2="312.9" stroke="#2b2b2b" stroke-width="0.75"/>
<text x="402.8" y="320.7" text-anchor="middle" font-size="8.7" fill="#1a1a1a" textLength="9.4" lengthAdjust="spacingAndGlyphs">10</text>
<line x1="442.3" y1="310.3" x2="442.3" y2="312.9" stroke="#2b2b2b" stroke-width="0.75"/>
<text x="442.3" y="320.7" text-anchor="middle" font-size="8.7" fill="#1a1a1a" textLength="9.4" lengthAdjust="spacingAndGlyphs">15</text>
</g>
<g>
<line x1="348.7" y1="351.9" x2="388" y2="351.9" stroke="#a0a0a0" stroke-width="0.6"/>
<rect x="364.4" y="346" width="10.3" height="11.8" fill="#dcf3dc" stroke="#bcd9bc" stroke-width="0.6"/>
<g fill="#a9d9a9" stroke="#6a866a" class="d">
<circle cx="376.3" cy="351.6"/>
<circle cx="384" cy="352.6"/>
<circle cx="378.6" cy="352.1"/>
<circle cx="355.3" cy="353"/>
<circle cx="373.8" cy="351.9"/>
<circle cx="368.6" cy="352.3"/>
<circle cx="352.9" cy="350.8"/>
<circle cx="355.2" cy="352.1"/>
<circle cx="370.8" cy="351.4"/>
<circle cx="393.9" cy="350.8"/>
<circle cx="363.2" cy="350.8"/>
<circle cx="365.6" cy="351.7"/>
<circle cx="368.4" cy="353.2"/>
<circle cx="370.9" cy="351.7"/>
<circle cx="368.5" cy="351.1"/>
<circle cx="371.1" cy="352.4"/>
<circle cx="373.6" cy="352.5"/>
<circle cx="365.9" cy="351.2"/>
<circle cx="379" cy="350.5"/>
<circle cx="368.3" cy="350.9"/>
<circle cx="360.6" cy="351.2"/>
<circle cx="358" cy="351"/>
<circle cx="370.9" cy="352.2"/>
<circle cx="368.4" cy="351.7"/>
<circle cx="358.1" cy="352.4"/>
<circle cx="360.7" cy="352"/>
<circle cx="365.7" cy="352.8"/>
<circle cx="379.1" cy="352.1"/>
<circle cx="381.4" cy="352.6"/>
<circle cx="363.2" cy="351.7"/>
<circle cx="365.7" cy="353.3"/>
<circle cx="373.6" cy="352.7"/>
<circle cx="373.4" cy="352.5"/>
<circle cx="368.4" cy="351"/>
<circle cx="366" cy="353.1"/>
<circle cx="373.8" cy="351.6"/>
<circle cx="378.7" cy="352.7"/>
<circle cx="357.8" cy="352.1"/>
<circle cx="368.2" cy="351.5"/>
<circle cx="402.4" cy="352.2"/>
<circle cx="365.8" cy="350.8"/>
<circle cx="365.9" cy="353"/>
<circle cx="370.9" cy="352"/>
<circle cx="381.2" cy="351"/>
<circle cx="371.2" cy="352"/>
<circle cx="360.7" cy="352.4"/>
<circle cx="378.9" cy="351.2"/>
<circle cx="373.4" cy="352.7"/>
<circle cx="350.4" cy="351.7"/>
<circle cx="360.8" cy="352.3"/>
<circle cx="386.5" cy="352.1"/>
<circle cx="376.2" cy="352.6"/>
<circle cx="381.4" cy="351.1"/>
<circle cx="365.8" cy="351.5"/>
<circle cx="365.8" cy="351.1"/>
<circle cx="376.3" cy="353.3"/>
</g>
<line x1="368.7" y1="346" x2="368.7" y2="357.8" stroke="#999" stroke-width="0.6"/>
<line x1="350.3" y1="363.7" x2="390.4" y2="363.7" stroke="#a0a0a0" stroke-width="0.6"/>
<rect x="359.9" y="357.8" width="10.8" height="11.8" fill="#f7ede1" stroke="#ddcdbb" stroke-width="0.6"/>
<g fill="#ecceab" stroke="#8f7c68" class="d">
<circle cx="351.1" cy="364.2"/>
<circle cx="376.9" cy="363.9"/>
<circle cx="371.6" cy="363.8"/>
<circle cx="400" cy="364.1"/>
<circle cx="356.2" cy="362.7"/>
<circle cx="366.7" cy="363"/>
<circle cx="377" cy="365"/>
<circle cx="374.5" cy="363.4"/>
<circle cx="358.9" cy="363.2"/>
<circle cx="369.3" cy="363.4"/>
<circle cx="361.1" cy="364.1"/>
<circle cx="393.9" cy="364.3"/>
<circle cx="371.7" cy="363.4"/>
<circle cx="384.8" cy="362.5"/>
<circle cx="363.9" cy="364.3"/>
<circle cx="379.7" cy="363.6"/>
<circle cx="379.3" cy="363.5"/>
<circle cx="358.9" cy="363.4"/>
<circle cx="358.7" cy="362.2"/>
<circle cx="369.1" cy="363.9"/>
<circle cx="369.2" cy="362.5"/>
<circle cx="353.5" cy="365"/>
<circle cx="376.8" cy="364.5"/>
<circle cx="366.6" cy="362.4"/>
<circle cx="366.5" cy="362.4"/>
<circle cx="361.4" cy="364.8"/>
<circle cx="369" cy="363.1"/>
<circle cx="358.7" cy="364.1"/>
<circle cx="381.9" cy="364.1"/>
<circle cx="371.8" cy="362.7"/>
<circle cx="361.1" cy="364.3"/>
<circle cx="374.1" cy="364.5"/>
<circle cx="366.6" cy="365"/>
<circle cx="363.9" cy="364.6"/>
<circle cx="382.1" cy="364.4"/>
<circle cx="366.5" cy="363.5"/>
<circle cx="358.9" cy="363.6"/>
<circle cx="358.5" cy="363.9"/>
<circle cx="361.2" cy="362.3"/>
<circle cx="355.9" cy="363.8"/>
<circle cx="369" cy="364.2"/>
<circle cx="361.3" cy="364.4"/>
<circle cx="363.7" cy="363.6"/>
<circle cx="364.1" cy="363.6"/>
<circle cx="369.1" cy="364"/>
<circle cx="366.3" cy="364.2"/>
<circle cx="374.2" cy="364.4"/>
<circle cx="369.2" cy="363.4"/>
<circle cx="356" cy="363.4"/>
<circle cx="350.9" cy="362.8"/>
<circle cx="356.1" cy="363.5"/>
<circle cx="366.6" cy="365.1"/>
<circle cx="361.4" cy="363"/>
<circle cx="356.1" cy="362.8"/>
<circle cx="387.2" cy="363.7"/>
<circle cx="366.7" cy="364.3"/>
</g>
<line x1="366.3" y1="357.8" x2="366.3" y2="369.6" stroke="#999" stroke-width="0.6"/>
<line x1="350.3" y1="375.5" x2="381.6" y2="375.5" stroke="#a0a0a0" stroke-width="0.6"/>
<rect x="359.9" y="369.6" width="10.8" height="11.8" fill="#e5dbeb" stroke="#cbbbd4" stroke-width="0.6"/>
<g fill="#c0a2cf" stroke="#7a6a84" class="d">
<circle cx="362.3" cy="376.9"/>
<circle cx="367.4" cy="375.5"/>
<circle cx="380.2" cy="374.2"/>
<circle cx="375.1" cy="376.8"/>
<circle cx="357.3" cy="375"/>
<circle cx="352.1" cy="376.7"/>
<circle cx="375.4" cy="376.7"/>
<circle cx="359.8" cy="376.1"/>
<circle cx="354.3" cy="374.9"/>
<circle cx="362.4" cy="374.4"/>
<circle cx="365.1" cy="375"/>
<circle cx="362.1" cy="375.6"/>
<circle cx="359.7" cy="375.1"/>
<circle cx="367.4" cy="376.5"/>
<circle cx="370.2" cy="375.4"/>
<circle cx="359.6" cy="375"/>
<circle cx="362.1" cy="374.9"/>
<circle cx="357" cy="376.7"/>
<circle cx="375.1" cy="376.3"/>
<circle cx="364.6" cy="375.6"/>
<circle cx="367.5" cy="376.2"/>
<circle cx="367.3" cy="374.4"/>
<circle cx="364.8" cy="375.8"/>
<circle cx="356.9" cy="374.1"/>
<circle cx="354.5" cy="376.4"/>
<circle cx="377.7" cy="374.1"/>
<circle cx="370.1" cy="374.5"/>
<circle cx="359.5" cy="376.8"/>
<circle cx="372.5" cy="374.7"/>
<circle cx="375.2" cy="375.9"/>
<circle cx="357.1" cy="374.2"/>
<circle cx="370.1" cy="375.8"/>
<circle cx="350.3" cy="376.8"/>
<circle cx="364.8" cy="374"/>
<circle cx="359.9" cy="375.2"/>
<circle cx="362.2" cy="375.5"/>
<circle cx="369.8" cy="375.7"/>
<circle cx="357.1" cy="375.4"/>
<circle cx="372.7" cy="374.2"/>
<circle cx="365.1" cy="374.7"/>
<circle cx="370.2" cy="375.7"/>
<circle cx="367.5" cy="376.2"/>
<circle cx="393.9" cy="376.8"/>
<circle cx="362" cy="375.4"/>
<circle cx="359.5" cy="374.2"/>
<circle cx="372.6" cy="376.9"/>
<circle cx="365" cy="374.4"/>
<circle cx="375.1" cy="376.9"/>
<circle cx="372.8" cy="374.7"/>
<circle cx="362.4" cy="375.8"/>
<circle cx="370" cy="376.4"/>
<circle cx="367.4" cy="376"/>
<circle cx="378" cy="376.3"/>
<circle cx="354.7" cy="374.5"/>
<circle cx="357.2" cy="374.2"/>
</g>
<line x1="364.7" y1="369.6" x2="364.7" y2="381.4" stroke="#999" stroke-width="0.6"/>
<polyline points="406.7,362.8 409.1,360.9 411.5,362.8" fill="none" stroke="#333" stroke-width="0.9" stroke-linejoin="round"/>
<rect x="338.4" y="341.3" width="104.5" height="44.6" fill="none" stroke="#555" stroke-width="0.95"/>
<line x1="378.7" y1="386" x2="378.7" y2="388.6" stroke="#2b2b2b" stroke-width="0.75"/>
<text x="378.7" y="396.4" text-anchor="middle" font-size="8.7" fill="#1a1a1a" textLength="9.4" lengthAdjust="spacingAndGlyphs">20</text>
<line x1="421.7" y1="386" x2="421.7" y2="388.6" stroke="#2b2b2b" stroke-width="0.75"/>
<text x="421.7" y="396.4" text-anchor="middle" font-size="8.7" fill="#1a1a1a" textLength="9.4" lengthAdjust="spacingAndGlyphs">40</text>
</g>
<g>
<line x1="344.6" y1="427.6" x2="392" y2="427.6" stroke="#a0a0a0" stroke-width="0.6"/>
<rect x="365.8" y="421.7" width="18.5" height="11.8" fill="#dcf3dc" stroke="#bcd9bc" stroke-width="0.6"/>
<g fill="#a9d9a9" stroke="#6a866a" class="d">
<circle cx="359.6" cy="426.4"/>
<circle cx="380.5" cy="428.7"/>
<circle cx="380.2" cy="427.6"/>
<circle cx="351.7" cy="429"/>
<circle cx="383" cy="428.8"/>
<circle cx="354" cy="428.2"/>
<circle cx="346.5" cy="427.1"/>
<circle cx="348.9" cy="428"/>
<circle cx="364.6" cy="427"/>
<circle cx="383" cy="428.4"/>
<circle cx="385.4" cy="428.4"/>
<circle cx="387.9" cy="426.6"/>
<circle cx="380.4" cy="428.5"/>
<circle cx="390.7" cy="428.1"/>
<circle cx="367" cy="428.7"/>
<circle cx="374.9" cy="428.5"/>
<circle cx="377.6" cy="428.2"/>
<circle cx="372.2" cy="427.3"/>
<circle cx="369.6" cy="426.6"/>
<circle cx="388.2" cy="428.8"/>
<circle cx="385.3" cy="428.7"/>
<circle cx="388.3" cy="428"/>
<circle cx="364.7" cy="428.6"/>
<circle cx="369.7" cy="428.6"/>
<circle cx="356.6" cy="427"/>
<circle cx="372.6" cy="427.6"/>
<circle cx="385.6" cy="426.1"/>
<circle cx="362.3" cy="426.7"/>
<circle cx="369.6" cy="429"/>
<circle cx="388.1" cy="427.8"/>
<circle cx="385.3" cy="426.4"/>
<circle cx="377.8" cy="428.3"/>
<circle cx="382.7" cy="427.7"/>
<circle cx="375" cy="426.5"/>
<circle cx="372.5" cy="427.7"/>
<circle cx="408" cy="427.4"/>
<circle cx="356.7" cy="427.2"/>
<circle cx="367" cy="427.4"/>
<circle cx="372.3" cy="428.8"/>
<circle cx="385.2" cy="427.3"/>
<circle cx="382.6" cy="426.9"/>
<circle cx="380.3" cy="427.6"/>
<circle cx="364.4" cy="428"/>
<circle cx="359.4" cy="427.6"/>
<circle cx="388.1" cy="427.3"/>
<circle cx="359.4" cy="428.8"/>
<circle cx="380" cy="427"/>
<circle cx="385.2" cy="426.5"/>
<circle cx="390.6" cy="427.9"/>
<circle cx="377.7" cy="427.1"/>
<circle cx="377.5" cy="427.4"/>
<circle cx="362.2" cy="427.6"/>
<circle cx="385.2" cy="426.5"/>
<circle cx="405.7" cy="428.1"/>
<circle cx="367.2" cy="427.2"/>
<circle cx="374.9" cy="426.8"/>
<circle cx="411.3" cy="427.1"/>
</g>
<line x1="376.4" y1="421.7" x2="376.4" y2="433.5" stroke="#999" stroke-width="0.6"/>
<line x1="347.8" y1="439.4" x2="405.7" y2="439.4" stroke="#a0a0a0" stroke-width="0.6"/>
<rect x="364.4" y="433.5" width="16" height="11.8" fill="#f7ede1" stroke="#ddcdbb" stroke-width="0.6"/>
<g fill="#ecceab" stroke="#8f7c68" class="d">
<circle cx="366.9" cy="438.3"/>
<circle cx="385.2" cy="438.6"/>
<circle cx="372" cy="440"/>
<circle cx="374.5" cy="439.5"/>
<circle cx="356.4" cy="439"/>
<circle cx="372.2" cy="438.3"/>
<circle cx="361.4" cy="440.3"/>
<circle cx="397.9" cy="440"/>
<circle cx="364.3" cy="440.2"/>
<circle cx="374.8" cy="439.4"/>
<circle cx="371.8" cy="439.6"/>
<circle cx="348.6" cy="440.9"/>
<circle cx="358.8" cy="439.1"/>
<circle cx="364.1" cy="440.7"/>
<circle cx="369.5" cy="440.3"/>
<circle cx="366.7" cy="439.8"/>
<circle cx="356.3" cy="440"/>
<circle cx="374.8" cy="440.1"/>
<circle cx="359.2" cy="438.9"/>
<circle cx="369.2" cy="439.8"/>
<circle cx="390.3" cy="440"/>
<circle cx="377.1" cy="438.4"/>
<circle cx="379.6" cy="439.6"/>
<circle cx="351.3" cy="440.2"/>
<circle cx="361.4" cy="438.8"/>
<circle cx="387.8" cy="440.7"/>
<circle cx="364" cy="438.2"/>
<circle cx="377.4" cy="439.6"/>
<circle cx="369.5" cy="440.5"/>
<circle cx="366.8" cy="439.7"/>
<circle cx="382.6" cy="439.2"/>
<circle cx="392.6" cy="440.6"/>
<circle cx="382.6" cy="439.1"/>
<circle cx="380" cy="440.3"/>
<circle cx="390.4" cy="439.7"/>
<circle cx="377.1" cy="440.3"/>
<circle cx="372.2" cy="439.2"/>
<circle cx="364.2" cy="440.2"/>
<circle cx="403.3" cy="438"/>
<circle cx="369.2" cy="440.8"/>
<circle cx="356.3" cy="438.1"/>
<circle cx="374.7" cy="439.9"/>
<circle cx="400.7" cy="438.4"/>
<circle cx="422.5" cy="438.1"/>
<circle cx="379.7" cy="438.7"/>
<circle cx="385" cy="440"/>
<circle cx="387.8" cy="438.1"/>
<circle cx="379.6" cy="440.6"/>
<circle cx="358.9" cy="438.8"/>
<circle cx="385" cy="439"/>
<circle cx="361.6" cy="438.8"/>
<circle cx="369.2" cy="438.9"/>
<circle cx="367" cy="439.7"/>
<circle cx="358.8" cy="439.5"/>
<circle cx="377.1" cy="439.1"/>
</g>
<line x1="372.3" y1="433.5" x2="372.3" y2="445.3" stroke="#999" stroke-width="0.6"/>
<line x1="345.4" y1="451.2" x2="395.2" y2="451.2" stroke="#a0a0a0" stroke-width="0.6"/>
<rect x="359.1" y="445.3" width="20.5" height="11.8" fill="#e5dbeb" stroke="#cbbbd4" stroke-width="0.6"/>
<g fill="#c0a2cf" stroke="#7a6a84" class="d">
<circle cx="373.8" cy="450.1"/>
<circle cx="363.1" cy="450.1"/>
<circle cx="355.6" cy="450.5"/>
<circle cx="357.8" cy="452.4"/>
<circle cx="363.3" cy="452.6"/>
<circle cx="358" cy="450.2"/>
<circle cx="378.6" cy="451"/>
<circle cx="353" cy="450"/>
<circle cx="365.6" cy="450.9"/>
<circle cx="373.7" cy="451"/>
<circle cx="360.5" cy="451.1"/>
<circle cx="373.5" cy="452.1"/>
<circle cx="384.1" cy="451.6"/>
<circle cx="384" cy="450.5"/>
<circle cx="376.2" cy="450.2"/>
<circle cx="363.3" cy="451.1"/>
<circle cx="370.8" cy="450.5"/>
<circle cx="355.2" cy="450.1"/>
<circle cx="352.5" cy="451.6"/>
<circle cx="368.2" cy="450"/>
<circle cx="370.8" cy="451.6"/>
<circle cx="370.8" cy="449.7"/>
<circle cx="352.8" cy="452.6"/>
<circle cx="386.8" cy="451.9"/>
<circle cx="378.8" cy="451.5"/>
<circle cx="345.4" cy="452.2"/>
<circle cx="394.2" cy="450.3"/>
<circle cx="381.5" cy="452.1"/>
<circle cx="381.3" cy="451.8"/>
<circle cx="365.6" cy="450.5"/>
<circle cx="363.3" cy="450.9"/>
<circle cx="360.7" cy="451.5"/>
<circle cx="350.1" cy="450.4"/>
<circle cx="386.4" cy="449.7"/>
<circle cx="365.6" cy="452.3"/>
<circle cx="386.8" cy="451.5"/>
<circle cx="378.9" cy="452.5"/>
<circle cx="376" cy="451.8"/>
<circle cx="350.1" cy="451"/>
<circle cx="381.2" cy="451.6"/>
<circle cx="381.6" cy="452"/>
<circle cx="355.6" cy="451.7"/>
<circle cx="368.3" cy="451.2"/>
<circle cx="389.4" cy="450.8"/>
<circle cx="376.3" cy="451.9"/>
<circle cx="358.1" cy="451.3"/>
<circle cx="365.5" cy="450.7"/>
<circle cx="368.3" cy="451.2"/>
<circle cx="355.6" cy="452.6"/>
<circle cx="360.5" cy="450.8"/>
<circle cx="391.8" cy="452.2"/>
<circle cx="383.8" cy="452.4"/>
<circle cx="368.4" cy="452.2"/>
<circle cx="360.6" cy="452.4"/>
</g>
<line x1="368.4" y1="445.3" x2="368.4" y2="457.1" stroke="#999" stroke-width="0.6"/>
<rect x="338.4" y="417.1" width="104.5" height="44.6" fill="none" stroke="#555" stroke-width="0.95"/>
<line x1="338.5" y1="461.7" x2="338.5" y2="464.3" stroke="#2b2b2b" stroke-width="0.75"/>
<text x="338.5" y="472.1" text-anchor="middle" font-size="8.7" fill="#1a1a1a" textLength="4.7" lengthAdjust="spacingAndGlyphs">0</text>
<line x1="380.4" y1="461.7" x2="380.4" y2="464.3" stroke="#2b2b2b" stroke-width="0.75"/>
<text x="380.4" y="472.1" text-anchor="middle" font-size="8.7" fill="#1a1a1a" textLength="23.6" lengthAdjust="spacingAndGlyphs">10000</text>
<line x1="421.7" y1="461.7" x2="421.7" y2="464.3" stroke="#2b2b2b" stroke-width="0.75"/>
<text x="421.7" y="472.1" text-anchor="middle" font-size="8.7" fill="#1a1a1a" textLength="23.6" lengthAdjust="spacingAndGlyphs">20000</text>
</g>
<g>
<line x1="250.9" y1="49" x2="310.3" y2="49" stroke="#a0a0a0" stroke-width="0.6"/>
<rect x="273.4" y="43.1" width="14.9" height="11.8" fill="#dcf3dc" stroke="#bcd9bc" stroke-width="0.6"/>
<g fill="#a9d9a9" stroke="#6a866a" class="d">
<circle cx="254.1" cy="49.6"/>
<circle cx="277.4" cy="47.6"/>
<circle cx="287.8" cy="49.9"/>
<circle cx="279.8" cy="47.7"/>
<circle cx="287.7" cy="47.5"/>
<circle cx="266.7" cy="49.2"/>
<circle cx="274.5" cy="50"/>
<circle cx="277.5" cy="48.1"/>
<circle cx="282.3" cy="49.8"/>
<circle cx="303.2" cy="47.5"/>
<circle cx="287.8" cy="48.3"/>
<circle cx="279.8" cy="49.9"/>
<circle cx="280" cy="48"/>
<circle cx="280" cy="49.4"/>
<circle cx="272" cy="50.1"/>
<circle cx="290.2" cy="49.5"/>
<circle cx="315.9" cy="47.7"/>
<circle cx="285" cy="49.8"/>
<circle cx="290.2" cy="48.8"/>
<circle cx="274.6" cy="50.4"/>
<circle cx="285" cy="48.7"/>
<circle cx="264.5" cy="48"/>
<circle cx="293" cy="49.8"/>
<circle cx="295.4" cy="47.7"/>
<circle cx="300.9" cy="48.1"/>
<circle cx="282.4" cy="48.6"/>
<circle cx="285.2" cy="48.2"/>
<circle cx="266.8" cy="50.3"/>
<circle cx="285.3" cy="47.9"/>
<circle cx="275" cy="48.3"/>
<circle cx="269.6" cy="50.2"/>
<circle cx="282.7" cy="50.2"/>
<circle cx="261.5" cy="48.4"/>
<circle cx="274.8" cy="49.4"/>
<circle cx="303.2" cy="47.7"/>
<circle cx="295.6" cy="49.1"/>
<circle cx="274.5" cy="48.2"/>
<circle cx="271.9" cy="49.7"/>
<circle cx="290.1" cy="47.8"/>
<circle cx="274.6" cy="49.7"/>
<circle cx="267.1" cy="47.7"/>
<circle cx="274.7" cy="48"/>
<circle cx="269.6" cy="47.6"/>
<circle cx="243.7" cy="50.1"/>
<circle cx="277.2" cy="49.1"/>
<circle cx="298.3" cy="48.3"/>
<circle cx="282.4" cy="50.3"/>
<circle cx="306.1" cy="50.1"/>
<circle cx="293.1" cy="49.5"/>
<circle cx="264.2" cy="48.5"/>
<circle cx="277.5" cy="49.8"/>
<circle cx="295.5" cy="48.4"/>
<circle cx="277.1" cy="50.2"/>
<circle cx="274.6" cy="47.7"/>
<circle cx="259.1" cy="50.4"/>
<circle cx="256.6" cy="49.1"/>
</g>
<line x1="278.7" y1="43.1" x2="278.7" y2="54.9" stroke="#999" stroke-width="0.6"/>
<line x1="254.9" y1="60.8" x2="308.7" y2="60.8" stroke="#a0a0a0" stroke-width="0.6"/>
<rect x="269.7" y="54.9" width="14.9" height="11.8" fill="#f7ede1" stroke="#ddcdbb" stroke-width="0.6"/>
<g fill="#ecceab" stroke="#8f7c68" class="d">
<circle cx="268.7" cy="60.3"/>
<circle cx="268.8" cy="61.8"/>
<circle cx="276.8" cy="59.6"/>
<circle cx="294.8" cy="61.2"/>
<circle cx="289.8" cy="62.1"/>
<circle cx="271.4" cy="59.8"/>
<circle cx="284.5" cy="61.6"/>
<circle cx="281.8" cy="61.9"/>
<circle cx="269.1" cy="62.2"/>
<circle cx="279.2" cy="61.6"/>
<circle cx="261.4" cy="59.8"/>
<circle cx="282" cy="62.1"/>
<circle cx="284.5" cy="62.2"/>
<circle cx="292.5" cy="60.4"/>
<circle cx="295" cy="60.7"/>
<circle cx="315.6" cy="60.9"/>
<circle cx="292.3" cy="60.6"/>
<circle cx="287" cy="60.6"/>
<circle cx="287.4" cy="61.7"/>
<circle cx="264" cy="61.6"/>
<circle cx="279.4" cy="59.3"/>
<circle cx="284.4" cy="60"/>
<circle cx="277" cy="62"/>
<circle cx="271.5" cy="61.1"/>
<circle cx="289.8" cy="61.1"/>
<circle cx="274.4" cy="60.7"/>
<circle cx="264" cy="61"/>
<circle cx="279.1" cy="59.3"/>
<circle cx="305.3" cy="60.6"/>
<circle cx="271.4" cy="59.3"/>
<circle cx="300.4" cy="61.7"/>
<circle cx="279.2" cy="61.9"/>
<circle cx="271.5" cy="60"/>
<circle cx="274.4" cy="62.1"/>
<circle cx="276.6" cy="61.8"/>
<circle cx="266.1" cy="61.8"/>
<circle cx="268.8" cy="61.9"/>
<circle cx="271.5" cy="59.9"/>
<circle cx="279.5" cy="62"/>
<circle cx="266.6" cy="59.8"/>
<circle cx="264" cy="59.9"/>
<circle cx="263.6" cy="60.8"/>
<circle cx="307.8" cy="59.7"/>
<circle cx="274.1" cy="61.1"/>
<circle cx="258.5" cy="60.2"/>
<circle cx="294.9" cy="61.6"/>
<circle cx="284.5" cy="60.9"/>
<circle cx="274.3" cy="60.1"/>
<circle cx="282.1" cy="59.7"/>
<circle cx="266.3" cy="61.5"/>
<circle cx="256.2" cy="61.4"/>
<circle cx="276.6" cy="62"/>
<circle cx="264" cy="60.2"/>
<circle cx="277" cy="60.9"/>
<circle cx="281.9" cy="60"/>
</g>
<line x1="276.6" y1="54.9" x2="276.6" y2="66.7" stroke="#999" stroke-width="0.6"/>
<line x1="262.9" y1="72.6" x2="314.3" y2="72.6" stroke="#a0a0a0" stroke-width="0.6"/>
<rect x="278.2" y="66.7" width="15.2" height="11.8" fill="#e5dbeb" stroke="#cbbbd4" stroke-width="0.6"/>
<g fill="#c0a2cf" stroke="#7a6a84" class="d">
<circle cx="286.7" cy="72.7"/>
<circle cx="273.7" cy="71.6"/>
<circle cx="291.8" cy="73.9"/>
<circle cx="279" cy="71.7"/>
<circle cx="299.8" cy="71.8"/>
<circle cx="292.2" cy="72"/>
<circle cx="289.6" cy="73.5"/>
<circle cx="281.9" cy="73.6"/>
<circle cx="292.3" cy="72"/>
<circle cx="284.4" cy="71.7"/>
<circle cx="284.1" cy="72.5"/>
<circle cx="284.3" cy="72.2"/>
<circle cx="284.2" cy="72.2"/>
<circle cx="287" cy="73.8"/>
<circle cx="281.7" cy="71.5"/>
<circle cx="271.2" cy="72.1"/>
<circle cx="302.6" cy="71.1"/>
<circle cx="286.8" cy="71.8"/>
<circle cx="268.8" cy="72.7"/>
<circle cx="310.3" cy="73.3"/>
<circle cx="273.9" cy="71.9"/>
<circle cx="286.8" cy="72.2"/>
<circle cx="271.5" cy="71.6"/>
<circle cx="294.6" cy="72.8"/>
<circle cx="289.6" cy="72"/>
<circle cx="312.9" cy="73.5"/>
<circle cx="297.3" cy="73.6"/>
<circle cx="278.8" cy="72.3"/>
<circle cx="286.8" cy="72.9"/>
<circle cx="302.5" cy="73.5"/>
<circle cx="276.5" cy="71.8"/>
<circle cx="300" cy="71.7"/>
<circle cx="292.1" cy="72.3"/>
<circle cx="297.4" cy="73.9"/>
<circle cx="263.3" cy="71.8"/>
<circle cx="289.6" cy="71.7"/>
<circle cx="271.2" cy="72.3"/>
<circle cx="276.3" cy="73.4"/>
<circle cx="284.4" cy="73.3"/>
<circle cx="291.8" cy="72.4"/>
<circle cx="273.8" cy="73.3"/>
<circle cx="276.2" cy="72.4"/>
<circle cx="299.8" cy="73.9"/>
<circle cx="265.9" cy="73.3"/>
<circle cx="281.7" cy="72.3"/>
<circle cx="281.7" cy="71.8"/>
<circle cx="302.6" cy="72.3"/>
<circle cx="281.5" cy="72.5"/>
<circle cx="289.4" cy="71.3"/>
<circle cx="307.8" cy="72.8"/>
<circle cx="279.2" cy="73.9"/>
<circle cx="273.9" cy="71.9"/>
<circle cx="297.4" cy="74"/>
<circle cx="279.1" cy="71.9"/>
</g>
<line x1="285.4" y1="66.7" x2="285.4" y2="78.5" stroke="#999" stroke-width="0.6"/>
<path d="M322.4 57.4v3.2M321.1 58.2l2.8 1.6M321.1 59.8l2.8 -1.6" stroke="#2a2a2a" stroke-width="0.75" fill="none"/>
<rect x="233.5" y="38.5" width="104.9" height="44.6" fill="none" stroke="#555" stroke-width="0.95"/>
<line x1="238.4" y1="83.1" x2="238.4" y2="85.7" stroke="#2b2b2b" stroke-width="0.75"/>
<text x="238.4" y="93.5" text-anchor="middle" font-size="8.7" fill="#1a1a1a" textLength="9.4" lengthAdjust="spacingAndGlyphs">25</text>
<line x1="264.5" y1="83.1" x2="264.5" y2="85.7" stroke="#2b2b2b" stroke-width="0.75"/>
<text x="264.5" y="93.5" text-anchor="middle" font-size="8.7" fill="#1a1a1a" textLength="9.4" lengthAdjust="spacingAndGlyphs">50</text>
<line x1="289.7" y1="83.1" x2="289.7" y2="85.7" stroke="#2b2b2b" stroke-width="0.75"/>
<text x="289.7" y="93.5" text-anchor="middle" font-size="8.7" fill="#1a1a1a" textLength="9.4" lengthAdjust="spacingAndGlyphs">75</text>
<line x1="315.1" y1="83.1" x2="315.1" y2="85.7" stroke="#2b2b2b" stroke-width="0.75"/>
<text x="315.1" y="93.5" text-anchor="middle" font-size="8.7" fill="#1a1a1a" textLength="14.2" lengthAdjust="spacingAndGlyphs">100</text>
</g>
<g>
<line x1="263.7" y1="124.7" x2="304.7" y2="124.7" stroke="#a0a0a0" stroke-width="0.6"/>
<rect x="276.6" y="118.8" width="9.6" height="11.8" fill="#dcf3dc" stroke="#bcd9bc" stroke-width="0.6"/>
<g fill="#a9d9a9" stroke="#6a866a" class="d">
<circle cx="281.2" cy="124.8"/>
<circle cx="286.6" cy="124.7"/>
<circle cx="283.7" cy="124.6"/>
<circle cx="278.7" cy="126"/>
<circle cx="273.4" cy="123.8"/>
<circle cx="283.8" cy="123.4"/>
<circle cx="278.7" cy="124.4"/>
<circle cx="276.3" cy="124.6"/>
<circle cx="278.7" cy="125.8"/>
<circle cx="284.1" cy="125.3"/>
<circle cx="270.9" cy="123.7"/>
<circle cx="294.5" cy="123.3"/>
<circle cx="276.1" cy="123.8"/>
<circle cx="283.6" cy="124.7"/>
<circle cx="270.9" cy="124.8"/>
<circle cx="283.8" cy="123.5"/>
<circle cx="268.2" cy="123.6"/>
<circle cx="283.7" cy="124.8"/>
<circle cx="281.1" cy="126.2"/>
<circle cx="296.9" cy="125.1"/>
<circle cx="276.3" cy="123.3"/>
<circle cx="270.6" cy="124.3"/>
<circle cx="278.6" cy="123.7"/>
<circle cx="281.5" cy="125.9"/>
<circle cx="263.7" cy="125.6"/>
<circle cx="291.7" cy="124.9"/>
<circle cx="275.9" cy="123.7"/>
<circle cx="278.8" cy="123.5"/>
<circle cx="299.7" cy="125.9"/>
<circle cx="302.3" cy="124.1"/>
<circle cx="291.8" cy="124"/>
<circle cx="288.9" cy="126"/>
<circle cx="273.7" cy="123.5"/>
<circle cx="281.2" cy="124.4"/>
<circle cx="271.1" cy="125.1"/>
<circle cx="294.3" cy="126.1"/>
<circle cx="291.5" cy="125"/>
<circle cx="278.5" cy="123.2"/>
<circle cx="281.2" cy="123.9"/>
<circle cx="278.8" cy="125.6"/>
<circle cx="265.5" cy="125.2"/>
<circle cx="276.2" cy="125.8"/>
<circle cx="273.5" cy="123.8"/>
<circle cx="286.5" cy="123.9"/>
<circle cx="283.7" cy="124.7"/>
<circle cx="281.2" cy="124.4"/>
<circle cx="286.5" cy="123.2"/>
<circle cx="278.5" cy="124.3"/>
<circle cx="286.5" cy="125.6"/>
<circle cx="286.2" cy="125.9"/>
<circle cx="296.7" cy="126"/>
<circle cx="276.2" cy="123.7"/>
<circle cx="283.8" cy="124.6"/>
<circle cx="289.3" cy="123.9"/>
</g>
<line x1="281.1" y1="118.8" x2="281.1" y2="130.6" stroke="#999" stroke-width="0.6"/>
<line x1="264.5" y1="136.5" x2="303.1" y2="136.5" stroke="#a0a0a0" stroke-width="0.6"/>
<rect x="275.8" y="130.6" width="12.3" height="11.8" fill="#f7ede1" stroke="#ddcdbb" stroke-width="0.6"/>
<g fill="#ecceab" stroke="#8f7c68" class="d">
<circle cx="294.3" cy="135.1"/>
<circle cx="275.8" cy="136.1"/>
<circle cx="286.5" cy="137"/>
<circle cx="286.2" cy="137.9"/>
<circle cx="281.1" cy="135"/>
<circle cx="281.1" cy="135.7"/>
<circle cx="283.8" cy="136.3"/>
<circle cx="286.5" cy="136.8"/>
<circle cx="299.1" cy="135.9"/>
<circle cx="273.2" cy="138"/>
<circle cx="273.1" cy="136.5"/>
<circle cx="283.9" cy="136.9"/>
<circle cx="286.5" cy="136"/>
<circle cx="270.6" cy="135.8"/>
<circle cx="275.8" cy="135.6"/>
<circle cx="275.8" cy="136"/>
<circle cx="286.4" cy="136"/>
<circle cx="291.7" cy="135.1"/>
<circle cx="294" cy="135.2"/>
<circle cx="278.5" cy="137.2"/>
<circle cx="283.9" cy="135.5"/>
<circle cx="286.4" cy="136.8"/>
<circle cx="281.2" cy="136.7"/>
<circle cx="288.8" cy="137"/>
<circle cx="288.7" cy="136.5"/>
<circle cx="278.7" cy="136.4"/>
<circle cx="294.3" cy="136.1"/>
<circle cx="283.8" cy="136.4"/>
<circle cx="278.3" cy="136.5"/>
<circle cx="286.2" cy="135.3"/>
<circle cx="283.8" cy="137.3"/>
<circle cx="273.3" cy="137.6"/>
<circle cx="291.7" cy="138"/>
<circle cx="278.3" cy="135.1"/>
<circle cx="283.5" cy="136.8"/>
<circle cx="283.8" cy="135.4"/>
<circle cx="291.3" cy="137.8"/>
<circle cx="273.5" cy="135.5"/>
<circle cx="281.3" cy="138"/>
<circle cx="294.3" cy="136.5"/>
<circle cx="265.5" cy="137.4"/>
<circle cx="296.7" cy="135.6"/>
<circle cx="265.4" cy="137.2"/>
<circle cx="289" cy="135.3"/>
<circle cx="270.6" cy="137.4"/>
<circle cx="281" cy="137.1"/>
<circle cx="291.7" cy="137"/>
<circle cx="278.3" cy="136.4"/>
<circle cx="275.9" cy="137.7"/>
<circle cx="301.8" cy="136.6"/>
<circle cx="275.9" cy="136.3"/>
<circle cx="267.9" cy="137.9"/>
<circle cx="270.8" cy="136.2"/>
<circle cx="273.3" cy="137.2"/>
</g>
<line x1="283" y1="130.6" x2="283" y2="142.4" stroke="#999" stroke-width="0.6"/>
<line x1="261.3" y1="148.3" x2="298.3" y2="148.3" stroke="#a0a0a0" stroke-width="0.6"/>
<rect x="273.8" y="142.4" width="10.8" height="11.8" fill="#e5dbeb" stroke="#cbbbd4" stroke-width="0.6"/>
<g fill="#c0a2cf" stroke="#7a6a84" class="d">
<circle cx="282.8" cy="147.9"/>
<circle cx="274.8" cy="149.3"/>
<circle cx="277.7" cy="147.4"/>
<circle cx="290.3" cy="148.7"/>
<circle cx="288" cy="147.8"/>
<circle cx="282.6" cy="149.1"/>
<circle cx="282.5" cy="148.3"/>
<circle cx="282.5" cy="147.9"/>
<circle cx="269.9" cy="149.1"/>
<circle cx="275" cy="148.1"/>
<circle cx="285.3" cy="149.4"/>
<circle cx="275" cy="147.3"/>
<circle cx="282.7" cy="147.3"/>
<circle cx="285.2" cy="148.8"/>
<circle cx="280.3" cy="149.1"/>
<circle cx="280.1" cy="148.7"/>
<circle cx="280.2" cy="146.9"/>
<circle cx="264.5" cy="147.2"/>
<circle cx="290.7" cy="148.5"/>
<circle cx="282.6" cy="147.3"/>
<circle cx="280.1" cy="147.6"/>
<circle cx="277.3" cy="147.9"/>
<circle cx="272.1" cy="148.5"/>
<circle cx="279.9" cy="149.7"/>
<circle cx="269.7" cy="149.1"/>
<circle cx="280" cy="147.5"/>
<circle cx="290.5" cy="149.8"/>
<circle cx="290.5" cy="147.1"/>
<circle cx="266.8" cy="149.1"/>
<circle cx="253" cy="148.1"/>
<circle cx="285.4" cy="148.9"/>
<circle cx="267.3" cy="149.8"/>
<circle cx="280.1" cy="147.6"/>
<circle cx="287.8" cy="147"/>
<circle cx="272.1" cy="147.7"/>
<circle cx="272.1" cy="148.3"/>
<circle cx="292.9" cy="149"/>
<circle cx="298.3" cy="148.3"/>
<circle cx="288" cy="147.5"/>
<circle cx="295.7" cy="149.4"/>
<circle cx="267.1" cy="148.4"/>
<circle cx="269.8" cy="149.5"/>
<circle cx="274.8" cy="149.1"/>
<circle cx="277.6" cy="148.4"/>
<circle cx="272.5" cy="149"/>
<circle cx="269.6" cy="148.6"/>
<circle cx="262" cy="147"/>
<circle cx="287.6" cy="146.9"/>
<circle cx="274.8" cy="147"/>
<circle cx="277.5" cy="149.5"/>
<circle cx="277.6" cy="149.6"/>
<circle cx="277.6" cy="147.2"/>
<circle cx="282.5" cy="147.6"/>
<circle cx="275" cy="147.3"/>
<circle cx="285.5" cy="147.2"/>
</g>
<line x1="279.5" y1="142.4" x2="279.5" y2="154.2" stroke="#999" stroke-width="0.6"/>
<polyline points="308.9,135.6 311.3,133.7 313.7,135.6" fill="none" stroke="#333" stroke-width="0.9" stroke-linejoin="round"/>
<rect x="233.5" y="114.2" width="104.9" height="44.6" fill="none" stroke="#555" stroke-width="0.95"/>
<line x1="251.7" y1="158.8" x2="251.7" y2="161.4" stroke="#2b2b2b" stroke-width="0.75"/>
<text x="251.7" y="169.2" text-anchor="middle" font-size="8.7" fill="#1a1a1a" textLength="14.2" lengthAdjust="spacingAndGlyphs">250</text>
<line x1="282.2" y1="158.8" x2="282.2" y2="161.4" stroke="#2b2b2b" stroke-width="0.75"/>
<text x="282.2" y="169.2" text-anchor="middle" font-size="8.7" fill="#1a1a1a" textLength="14.2" lengthAdjust="spacingAndGlyphs">500</text>
<line x1="313.5" y1="158.8" x2="313.5" y2="161.4" stroke="#2b2b2b" stroke-width="0.75"/>
<text x="313.5" y="169.2" text-anchor="middle" font-size="8.7" fill="#1a1a1a" textLength="14.2" lengthAdjust="spacingAndGlyphs">750</text>
</g>
<g>
<line x1="248.5" y1="200.4" x2="270.1" y2="200.4" stroke="#a0a0a0" stroke-width="0.6"/>
<rect x="257.3" y="194.5" width="4.5" height="11.8" fill="#dcf3dc" stroke="#bcd9bc" stroke-width="0.6"/>
<g fill="#a9d9a9" stroke="#6a866a" class="d">
<circle cx="265.5" cy="200"/>
<circle cx="257.6" cy="199.9"/>
<circle cx="262.7" cy="199.9"/>
<circle cx="277.4" cy="200.5"/>
<circle cx="260.1" cy="199.8"/>
<circle cx="262.6" cy="201.6"/>
<circle cx="252.5" cy="200"/>
<circle cx="257.7" cy="201.1"/>
<circle cx="242.5" cy="200.1"/>
<circle cx="265.3" cy="201.7"/>
<circle cx="257.6" cy="199.9"/>
<circle cx="262.9" cy="201.5"/>
<circle cx="262.9" cy="199.9"/>
<circle cx="268.1" cy="199.4"/>
<circle cx="255" cy="199.3"/>
<circle cx="260" cy="201.2"/>
<circle cx="252.5" cy="199.2"/>
<circle cx="255" cy="201.5"/>
<circle cx="260.4" cy="199.5"/>
<circle cx="265.2" cy="200.5"/>
<circle cx="260.2" cy="201.7"/>
<circle cx="262.6" cy="200.1"/>
<circle cx="255.2" cy="201.2"/>
<circle cx="260.2" cy="199"/>
<circle cx="262.9" cy="199.7"/>
<circle cx="250" cy="199.7"/>
<circle cx="260.3" cy="200.9"/>
<circle cx="265.2" cy="201.2"/>
<circle cx="254.9" cy="200.5"/>
<circle cx="257.7" cy="200.6"/>
<circle cx="257.8" cy="201.6"/>
<circle cx="257.4" cy="201.7"/>
<circle cx="262.6" cy="201.6"/>
<circle cx="257.3" cy="199.4"/>
<circle cx="260.3" cy="200.2"/>
<circle cx="252.4" cy="200"/>
<circle cx="255.1" cy="200.8"/>
<circle cx="260.2" cy="201.5"/>
<circle cx="260.2" cy="199.4"/>
<circle cx="267.9" cy="201.5"/>
<circle cx="257.7" cy="201.6"/>
<circle cx="260" cy="199.3"/>
<circle cx="249.9" cy="201.6"/>
<circle cx="290.2" cy="199"/>
<circle cx="260.1" cy="201.4"/>
<circle cx="274" cy="201.8"/>
<circle cx="262.6" cy="200"/>
<circle cx="270.1" cy="201.5"/>
<circle cx="257.4" cy="199.7"/>
<circle cx="257.7" cy="199.9"/>
<circle cx="260.3" cy="201.8"/>
<circle cx="260.4" cy="199.4"/>
<circle cx="257.6" cy="201.7"/>
<circle cx="254.8" cy="199.1"/>
<circle cx="260.4" cy="200.1"/>
<circle cx="257.8" cy="201.9"/>
<circle cx="257.4" cy="201.9"/>
<circle cx="265.5" cy="200"/>
</g>
<line x1="259.4" y1="194.5" x2="259.4" y2="206.3" stroke="#999" stroke-width="0.6"/>
<line x1="250.9" y1="212.2" x2="271.8" y2="212.2" stroke="#a0a0a0" stroke-width="0.6"/>
<rect x="255.7" y="206.3" width="5.9" height="11.8" fill="#f7ede1" stroke="#ddcdbb" stroke-width="0.6"/>
<g fill="#ecceab" stroke="#8f7c68" class="d">
<circle cx="263.2" cy="211.9"/>
<circle cx="255.3" cy="213"/>
<circle cx="252.9" cy="213.3"/>
<circle cx="257.7" cy="213.5"/>
<circle cx="260.4" cy="212.1"/>
<circle cx="263.1" cy="212.3"/>
<circle cx="258.1" cy="211.2"/>
<circle cx="258.2" cy="212.6"/>
<circle cx="258.1" cy="211"/>
<circle cx="257.7" cy="213"/>
<circle cx="255.1" cy="212.7"/>
<circle cx="302.7" cy="211"/>
<circle cx="255.3" cy="212.4"/>
<circle cx="263.2" cy="212.8"/>
<circle cx="260.3" cy="211.3"/>
<circle cx="260.6" cy="211.1"/>
<circle cx="255.2" cy="213.3"/>
<circle cx="260.7" cy="210.8"/>
<circle cx="255.1" cy="211.3"/>
<circle cx="255.4" cy="212.6"/>
<circle cx="255.3" cy="213"/>
<circle cx="252.5" cy="212.3"/>
<circle cx="258" cy="210.9"/>
<circle cx="258.2" cy="211.2"/>
<circle cx="255.2" cy="211.5"/>
<circle cx="257.8" cy="212"/>
<circle cx="252.5" cy="212.7"/>
<circle cx="255.5" cy="212.5"/>
<circle cx="260.8" cy="212.4"/>
<circle cx="258" cy="213.3"/>
<circle cx="271" cy="211.2"/>
<circle cx="265.5" cy="212.4"/>
<circle cx="260.3" cy="210.8"/>
<circle cx="265.6" cy="210.8"/>
<circle cx="263.3" cy="211.4"/>
<circle cx="263.1" cy="213.2"/>
<circle cx="263.4" cy="212.1"/>
<circle cx="252.8" cy="212.1"/>
<circle cx="257.9" cy="212.3"/>
<circle cx="265.9" cy="212.5"/>
<circle cx="260.6" cy="211.1"/>
<circle cx="268.5" cy="212.5"/>
<circle cx="260.6" cy="213.6"/>
<circle cx="268.2" cy="211.9"/>
<circle cx="265.8" cy="213.1"/>
<circle cx="252.8" cy="211"/>
<circle cx="255.5" cy="213.6"/>
<circle cx="255.2" cy="211.1"/>
<circle cx="260.3" cy="211.9"/>
<circle cx="260.6" cy="211.5"/>
<circle cx="260.6" cy="211.1"/>
<circle cx="257.9" cy="211"/>
<circle cx="260.4" cy="213.2"/>
<circle cx="255.3" cy="211.8"/>
<circle cx="250.9" cy="213.1"/>
</g>
<line x1="258.9" y1="206.3" x2="258.9" y2="218.1" stroke="#999" stroke-width="0.6"/>
<line x1="250.9" y1="224" x2="269.3" y2="224" stroke="#a0a0a0" stroke-width="0.6"/>
<rect x="258.6" y="218.1" width="3" height="11.8" fill="#e5dbeb" stroke="#cbbbd4" stroke-width="0.6"/>
<g fill="#c0a2cf" stroke="#7a6a84" class="d">
<circle cx="259.2" cy="224.6"/>
<circle cx="261.4" cy="222.7"/>
<circle cx="258.9" cy="224.6"/>
<circle cx="264.4" cy="224.9"/>
<circle cx="256.4" cy="225"/>
<circle cx="261.8" cy="222.6"/>
<circle cx="261.6" cy="224.4"/>
<circle cx="256.3" cy="224.5"/>
<circle cx="272" cy="223.3"/>
<circle cx="256.2" cy="223.7"/>
<circle cx="264.2" cy="224.7"/>
<circle cx="275.3" cy="224.3"/>
<circle cx="261.5" cy="225"/>
<circle cx="254.1" cy="224.2"/>
<circle cx="256.6" cy="225.2"/>
<circle cx="261.4" cy="224"/>
<circle cx="261.6" cy="225.2"/>
<circle cx="258.8" cy="224.5"/>
<circle cx="256.4" cy="224.9"/>
<circle cx="261.7" cy="224.3"/>
<circle cx="259" cy="224.4"/>
<circle cx="264.3" cy="224.4"/>
<circle cx="266.7" cy="223.3"/>
<circle cx="259.1" cy="225.1"/>
<circle cx="259.1" cy="222.9"/>
<circle cx="264.4" cy="223.9"/>
<circle cx="259.2" cy="224.5"/>
<circle cx="261.9" cy="225.2"/>
<circle cx="261.4" cy="225"/>
<circle cx="264.4" cy="225.3"/>
<circle cx="261.5" cy="224.1"/>
<circle cx="259" cy="225"/>
<circle cx="253.9" cy="222.6"/>
<circle cx="253.9" cy="225.4"/>
<circle cx="267" cy="224.4"/>
<circle cx="258.9" cy="222.9"/>
<circle cx="259.1" cy="224.2"/>
<circle cx="259" cy="225.5"/>
<circle cx="251.2" cy="224.5"/>
<circle cx="259.2" cy="224.1"/>
<circle cx="256.6" cy="224"/>
<circle cx="261.5" cy="223"/>
<circle cx="261.7" cy="222.9"/>
<circle cx="269.3" cy="223"/>
<circle cx="259.3" cy="223.3"/>
<circle cx="256.4" cy="225.4"/>
<circle cx="261.5" cy="225.2"/>
<circle cx="259.1" cy="224.8"/>
<circle cx="261.6" cy="224.7"/>
<circle cx="259.2" cy="223.1"/>
<circle cx="259" cy="223.2"/>
<circle cx="264" cy="224.4"/>
<circle cx="258.8" cy="223"/>
<circle cx="259.2" cy="224.5"/>
<circle cx="261.6" cy="222.9"/>
<circle cx="264.3" cy="223.8"/>
</g>
<line x1="260.2" y1="218.1" x2="260.2" y2="229.9" stroke="#999" stroke-width="0.6"/>
<polyline points="307.3,211.3 309.7,209.4 312.1,211.3" fill="none" stroke="#333" stroke-width="0.9" stroke-linejoin="round"/>
<rect x="233.5" y="189.9" width="104.9" height="44.6" fill="none" stroke="#555" stroke-width="0.95"/>
<line x1="233.5" y1="234.5" x2="233.5" y2="237.1" stroke="#2b2b2b" stroke-width="0.75"/>
<text x="233.5" y="244.9" text-anchor="middle" font-size="8.7" fill="#1a1a1a" textLength="4.7" lengthAdjust="spacingAndGlyphs">0</text>
<line x1="281.1" y1="234.5" x2="281.1" y2="237.1" stroke="#2b2b2b" stroke-width="0.75"/>
<text x="281.1" y="244.9" text-anchor="middle" font-size="8.7" fill="#1a1a1a" textLength="4.7" lengthAdjust="spacingAndGlyphs">5</text>
<line x1="328.3" y1="234.5" x2="328.3" y2="237.1" stroke="#2b2b2b" stroke-width="0.75"/>
<text x="328.3" y="244.9" text-anchor="middle" font-size="8.7" fill="#1a1a1a" textLength="9.4" lengthAdjust="spacingAndGlyphs">10</text>
</g>
<g>
<line x1="238" y1="276.1" x2="266.1" y2="276.1" stroke="#a0a0a0" stroke-width="0.6"/>
<rect x="249.6" y="270.2" width="5.3" height="11.8" fill="#dcf3dc" stroke="#bcd9bc" stroke-width="0.6"/>
<g fill="#a9d9a9" stroke="#6a866a" class="d">
<circle cx="254.9" cy="275.8"/>
<circle cx="252.1" cy="277.3"/>
<circle cx="244.3" cy="277"/>
<circle cx="252.2" cy="276.6"/>
<circle cx="247" cy="274.8"/>
<circle cx="249.8" cy="275.4"/>
<circle cx="252.3" cy="275.8"/>
<circle cx="254.7" cy="274.7"/>
<circle cx="257.1" cy="277"/>
<circle cx="252" cy="275.4"/>
<circle cx="239.4" cy="275.3"/>
<circle cx="246.9" cy="274.8"/>
<circle cx="249.4" cy="274.7"/>
<circle cx="241.7" cy="276.1"/>
<circle cx="244.5" cy="274.8"/>
<circle cx="252.3" cy="277.2"/>
<circle cx="254.6" cy="275.7"/>
<circle cx="254.7" cy="277.6"/>
<circle cx="252.1" cy="277.1"/>
<circle cx="257.3" cy="276.3"/>
<circle cx="244.4" cy="275.4"/>
<circle cx="252" cy="277.1"/>
<circle cx="257.2" cy="277.3"/>
<circle cx="262.5" cy="276"/>
<circle cx="265.1" cy="275.8"/>
<circle cx="254.9" cy="276.1"/>
<circle cx="254.5" cy="276"/>
<circle cx="252.3" cy="275.5"/>
<circle cx="246.8" cy="275"/>
<circle cx="251.9" cy="275.6"/>
<circle cx="249.5" cy="275.7"/>
<circle cx="249.3" cy="276.8"/>
<circle cx="279" cy="276.5"/>
<circle cx="257.5" cy="275.6"/>
<circle cx="249.7" cy="274.9"/>
<circle cx="249.6" cy="275"/>
<circle cx="247.2" cy="277.2"/>
<circle cx="276.6" cy="277.3"/>
<circle cx="249.8" cy="274.7"/>
<circle cx="254.9" cy="275.7"/>
<circle cx="255" cy="276.6"/>
<circle cx="259.8" cy="276.2"/>
<circle cx="244.6" cy="275"/>
<circle cx="239.1" cy="275.3"/>
<circle cx="257.3" cy="275.3"/>
<circle cx="259.9" cy="275.5"/>
<circle cx="252.2" cy="275"/>
<circle cx="259.8" cy="275.6"/>
<circle cx="252.3" cy="277.5"/>
<circle cx="249.6" cy="276.5"/>
<circle cx="254.9" cy="275.1"/>
<circle cx="259.8" cy="277.3"/>
<circle cx="252.1" cy="275.5"/>
<circle cx="249.6" cy="274.7"/>
<circle cx="249.7" cy="276.3"/>
<circle cx="252.1" cy="276.3"/>
</g>
<line x1="252" y1="270.2" x2="252" y2="282" stroke="#999" stroke-width="0.6"/>
<line x1="240.4" y1="287.9" x2="268.5" y2="287.9" stroke="#a0a0a0" stroke-width="0.6"/>
<rect x="249.6" y="282" width="8" height="11.8" fill="#f7ede1" stroke="#ddcdbb" stroke-width="0.6"/>
<g fill="#ecceab" stroke="#8f7c68" class="d">
<circle cx="247.4" cy="287.5"/>
<circle cx="252.8" cy="287.5"/>
<circle cx="289.4" cy="287.9"/>
<circle cx="242.3" cy="289.2"/>
<circle cx="255" cy="286.6"/>
<circle cx="252.5" cy="288.6"/>
<circle cx="257.7" cy="289.2"/>
<circle cx="250" cy="287.2"/>
<circle cx="252.6" cy="288"/>
<circle cx="247.5" cy="287.6"/>
<circle cx="252.5" cy="287.3"/>
<circle cx="252.8" cy="286.6"/>
<circle cx="260.5" cy="289.2"/>
<circle cx="250.1" cy="286.5"/>
<circle cx="257.8" cy="286.6"/>
<circle cx="265.8" cy="288.4"/>
<circle cx="247.6" cy="286.7"/>
<circle cx="268.1" cy="288.2"/>
<circle cx="250" cy="286.7"/>
<circle cx="247.3" cy="287"/>
<circle cx="250" cy="287.2"/>
<circle cx="262.9" cy="287.5"/>
<circle cx="257.9" cy="288.8"/>
<circle cx="255.1" cy="288.5"/>
<circle cx="249.8" cy="286.6"/>
<circle cx="255.2" cy="287.6"/>
<circle cx="244.8" cy="287.8"/>
<circle cx="242.1" cy="288.7"/>
<circle cx="245" cy="289"/>
<circle cx="260.3" cy="288.9"/>
<circle cx="257.7" cy="288"/>
<circle cx="252.4" cy="287.6"/>
<circle cx="252.4" cy="287.7"/>
<circle cx="249.9" cy="289"/>
<circle cx="244.9" cy="287.7"/>
<circle cx="257.7" cy="288.4"/>
<circle cx="252.8" cy="288.3"/>
<circle cx="247.6" cy="289.3"/>
<circle cx="258" cy="286.9"/>
<circle cx="247.2" cy="288.2"/>
<circle cx="257.8" cy="286.9"/>
<circle cx="260.2" cy="286.7"/>
<circle cx="255.3" cy="286.6"/>
<circle cx="250" cy="288.3"/>
<circle cx="263.1" cy="288.1"/>
<circle cx="252.6" cy="287.9"/>
<circle cx="249.9" cy="289.1"/>
<circle cx="252.8" cy="287.5"/>
<circle cx="260.6" cy="288.4"/>
<circle cx="262.9" cy="286.6"/>
<circle cx="255.1" cy="289.2"/>
<circle cx="250.2" cy="286.5"/>
<circle cx="255.2" cy="288.2"/>
<circle cx="255.2" cy="289.3"/>
<circle cx="263" cy="288.5"/>
</g>
<line x1="252.8" y1="282" x2="252.8" y2="293.8" stroke="#999" stroke-width="0.6"/>
<line x1="246" y1="299.7" x2="262.9" y2="299.7" stroke="#a0a0a0" stroke-width="0.6"/>
<rect x="249.6" y="293.8" width="7.2" height="11.8" fill="#e5dbeb" stroke="#cbbbd4" stroke-width="0.6"/>
<g fill="#c0a2cf" stroke="#7a6a84" class="d">
<circle cx="249.3" cy="299.2"/>
<circle cx="257.1" cy="298.7"/>
<circle cx="259.8" cy="300.9"/>
<circle cx="257" cy="299.4"/>
<circle cx="256.9" cy="301.2"/>
<circle cx="251.6" cy="301.1"/>
<circle cx="254.4" cy="301.2"/>
<circle cx="249.1" cy="299.5"/>
<circle cx="249" cy="299.4"/>
<circle cx="262.4" cy="299"/>
<circle cx="251.8" cy="300"/>
<circle cx="257" cy="298.3"/>
<circle cx="249" cy="299.1"/>
<circle cx="256.8" cy="299.3"/>
<circle cx="254.2" cy="299.6"/>
<circle cx="251.8" cy="300.4"/>
<circle cx="251.6" cy="299.1"/>
<circle cx="246.7" cy="299.1"/>
<circle cx="256.9" cy="299.3"/>
<circle cx="249.3" cy="299.4"/>
<circle cx="257.2" cy="299.4"/>
<circle cx="246.6" cy="299.9"/>
<circle cx="246.8" cy="298.3"/>
<circle cx="251.9" cy="299.6"/>
<circle cx="252" cy="298.3"/>
<circle cx="248.9" cy="299.1"/>
<circle cx="257.2" cy="299.3"/>
<circle cx="254.6" cy="300.6"/>
<circle cx="259.6" cy="299.8"/>
<circle cx="254.4" cy="299"/>
<circle cx="262" cy="300.3"/>
<circle cx="251.7" cy="301"/>
<circle cx="256.8" cy="299.4"/>
<circle cx="249.2" cy="298.9"/>
<circle cx="249.1" cy="298.6"/>
<circle cx="246.4" cy="298.3"/>
<circle cx="251.7" cy="299.2"/>
<circle cx="259.5" cy="298.3"/>
<circle cx="251.8" cy="298.9"/>
<circle cx="254.5" cy="299"/>
<circle cx="254.2" cy="298.4"/>
<circle cx="259.7" cy="298.6"/>
<circle cx="251.7" cy="299.9"/>
<circle cx="249" cy="300.8"/>
<circle cx="259.8" cy="300.4"/>
<circle cx="249.1" cy="300.5"/>
<circle cx="249.4" cy="298.4"/>
<circle cx="254.2" cy="299.2"/>
<circle cx="254.4" cy="300.7"/>
<circle cx="259.4" cy="299.7"/>
<circle cx="249.3" cy="299.2"/>
<circle cx="249" cy="300.9"/>
<circle cx="254.3" cy="299.4"/>
<circle cx="249.1" cy="300.7"/>
</g>
<line x1="252.8" y1="293.8" x2="252.8" y2="305.6" stroke="#999" stroke-width="0.6"/>
<path d="M294.8 284.5v3.2M293.4 285.3l2.8 1.6M293.4 286.9l2.8 -1.6" stroke="#2a2a2a" stroke-width="0.75" fill="none"/>
<rect x="233.5" y="265.6" width="104.9" height="44.6" fill="none" stroke="#555" stroke-width="0.95"/>
<line x1="257.6" y1="310.3" x2="257.6" y2="312.9" stroke="#2b2b2b" stroke-width="0.75"/>
<text x="257.6" y="320.7" text-anchor="middle" font-size="8.7" fill="#1a1a1a" textLength="4.7" lengthAdjust="spacingAndGlyphs">5</text>
<line x1="297.8" y1="310.3" x2="297.8" y2="312.9" stroke="#2b2b2b" stroke-width="0.75"/>
<text x="297.8" y="320.7" text-anchor="middle" font-size="8.7" fill="#1a1a1a" textLength="9.4" lengthAdjust="spacingAndGlyphs">10</text>
<line x1="337.6" y1="310.3" x2="337.6" y2="312.9" stroke="#2b2b2b" stroke-width="0.75"/>
<text x="337.6" y="320.7" text-anchor="middle" font-size="8.7" fill="#1a1a1a" textLength="9.4" lengthAdjust="spacingAndGlyphs">15</text>
</g>
<g>
<line x1="240.9" y1="351.9" x2="287.8" y2="351.9" stroke="#a0a0a0" stroke-width="0.6"/>
<rect x="256.5" y="346" width="14.1" height="11.8" fill="#dcf3dc" stroke="#bcd9bc" stroke-width="0.6"/>
<g fill="#a9d9a9" stroke="#6a866a" class="d">
<circle cx="258.2" cy="351.5"/>
<circle cx="274.3" cy="350.4"/>
<circle cx="250.4" cy="352.5"/>
<circle cx="253.1" cy="351.6"/>
<circle cx="248.1" cy="352.2"/>
<circle cx="316.2" cy="351.1"/>
<circle cx="258.7" cy="353.2"/>
<circle cx="271.7" cy="351"/>
<circle cx="245.4" cy="350.9"/>
<circle cx="297.1" cy="350.6"/>
<circle cx="258.2" cy="351.3"/>
<circle cx="276.8" cy="351"/>
<circle cx="258.7" cy="351"/>
<circle cx="263.8" cy="352.3"/>
<circle cx="258.4" cy="352.2"/>
<circle cx="256.1" cy="353.1"/>
<circle cx="263.5" cy="353.2"/>
<circle cx="268.9" cy="351.5"/>
<circle cx="248.1" cy="352.1"/>
<circle cx="263.8" cy="352.3"/>
<circle cx="273.9" cy="351.1"/>
<circle cx="261.3" cy="351.7"/>
<circle cx="253.3" cy="352.8"/>
<circle cx="268.7" cy="352.8"/>
<circle cx="260.9" cy="351.2"/>
<circle cx="253.2" cy="350.5"/>
<circle cx="279.2" cy="351.8"/>
<circle cx="256.1" cy="350.5"/>
<circle cx="279.4" cy="352.7"/>
<circle cx="253.1" cy="352.8"/>
<circle cx="271.2" cy="353.4"/>
<circle cx="287.1" cy="353"/>
<circle cx="266.2" cy="352.8"/>
<circle cx="260.8" cy="350.9"/>
<circle cx="258.4" cy="351.7"/>
<circle cx="271.3" cy="351.6"/>
<circle cx="256.1" cy="351.1"/>
<circle cx="276.8" cy="350.7"/>
<circle cx="250.6" cy="350.7"/>
<circle cx="258.7" cy="351.7"/>
<circle cx="268.8" cy="350.9"/>
<circle cx="261.3" cy="352.6"/>
<circle cx="247.8" cy="351"/>
<circle cx="266.4" cy="350.6"/>
<circle cx="258.6" cy="353"/>
<circle cx="266.2" cy="352.5"/>
<circle cx="261.1" cy="352.7"/>
<circle cx="276.7" cy="351.3"/>
<circle cx="266.4" cy="350.6"/>
<circle cx="263.8" cy="351.7"/>
<circle cx="269" cy="352.4"/>
<circle cx="255.9" cy="352.7"/>
<circle cx="242.9" cy="352.4"/>
<circle cx="279.4" cy="352.7"/>
<circle cx="274.3" cy="352.8"/>
<circle cx="281.7" cy="352.5"/>
</g>
<line x1="261.3" y1="346" x2="261.3" y2="357.8" stroke="#999" stroke-width="0.6"/>
<line x1="245.3" y1="363.7" x2="291" y2="363.7" stroke="#a0a0a0" stroke-width="0.6"/>
<rect x="254.9" y="357.8" width="12.8" height="11.8" fill="#f7ede1" stroke="#ddcdbb" stroke-width="0.6"/>
<g fill="#ecceab" stroke="#8f7c68" class="d">
<circle cx="251.2" cy="362.3"/>
<circle cx="248.9" cy="362.6"/>
<circle cx="259" cy="364.8"/>
<circle cx="271.9" cy="362.4"/>
<circle cx="264.2" cy="363"/>
<circle cx="269.5" cy="363.2"/>
<circle cx="267.1" cy="364.3"/>
<circle cx="261.6" cy="364.6"/>
<circle cx="253.7" cy="365"/>
<circle cx="251.1" cy="363"/>
<circle cx="279.8" cy="363.2"/>
<circle cx="277.3" cy="363.2"/>
<circle cx="251.3" cy="364.5"/>
<circle cx="259" cy="364"/>
<circle cx="251.4" cy="363.1"/>
<circle cx="261.6" cy="363.2"/>
<circle cx="274.6" cy="362.2"/>
<circle cx="284.9" cy="363.7"/>
<circle cx="299.1" cy="364.5"/>
<circle cx="256.3" cy="363.9"/>
<circle cx="254" cy="364.8"/>
<circle cx="253.8" cy="363.5"/>
<circle cx="258.9" cy="363.4"/>
<circle cx="290.5" cy="365"/>
<circle cx="258.9" cy="364.8"/>
<circle cx="274.9" cy="362.9"/>
<circle cx="264.1" cy="362.9"/>
<circle cx="266.7" cy="363.6"/>
<circle cx="253.9" cy="363.7"/>
<circle cx="264.1" cy="364.5"/>
<circle cx="277.3" cy="363.1"/>
<circle cx="264" cy="364"/>
<circle cx="282.6" cy="363.1"/>
<circle cx="264.1" cy="364.6"/>
<circle cx="261.7" cy="363"/>
<circle cx="245.9" cy="363.6"/>
<circle cx="256.5" cy="365"/>
<circle cx="266.8" cy="363.2"/>
<circle cx="269.6" cy="364.2"/>
<circle cx="256.6" cy="364.3"/>
<circle cx="264.4" cy="363.6"/>
<circle cx="266.9" cy="365.1"/>
<circle cx="253.8" cy="364.1"/>
<circle cx="272.2" cy="363.3"/>
<circle cx="256.6" cy="363.1"/>
<circle cx="266.7" cy="362.5"/>
<circle cx="251.2" cy="364.5"/>
<circle cx="267" cy="365.1"/>
<circle cx="266.7" cy="364.7"/>
<circle cx="264.5" cy="362.4"/>
<circle cx="261.4" cy="363"/>
<circle cx="264.3" cy="363.1"/>
<circle cx="277.5" cy="364.4"/>
<circle cx="253.7" cy="362.4"/>
<circle cx="248.6" cy="364.3"/>
</g>
<line x1="263.4" y1="357.8" x2="263.4" y2="369.6" stroke="#999" stroke-width="0.6"/>
<line x1="247.3" y1="375.5" x2="283" y2="375.5" stroke="#a0a0a0" stroke-width="0.6"/>
<rect x="256.5" y="369.6" width="11.2" height="11.8" fill="#e5dbeb" stroke="#cbbbd4" stroke-width="0.6"/>
<g fill="#c0a2cf" stroke="#7a6a84" class="d">
<circle cx="257.9" cy="375.4"/>
<circle cx="252.4" cy="376.4"/>
<circle cx="257.8" cy="376.4"/>
<circle cx="281" cy="376.1"/>
<circle cx="265.6" cy="376.2"/>
<circle cx="263.1" cy="375.2"/>
<circle cx="247.3" cy="374.7"/>
<circle cx="268.3" cy="375.1"/>
<circle cx="260.2" cy="374.5"/>
<circle cx="275.8" cy="375.4"/>
<circle cx="250.1" cy="375.2"/>
<circle cx="265.5" cy="376.9"/>
<circle cx="260.5" cy="375.7"/>
<circle cx="270.6" cy="376.3"/>
<circle cx="260.4" cy="376.1"/>
<circle cx="252.4" cy="374.9"/>
<circle cx="262.9" cy="375.5"/>
<circle cx="265.7" cy="376.7"/>
<circle cx="270.6" cy="376.1"/>
<circle cx="260.1" cy="376.5"/>
<circle cx="270.6" cy="375.2"/>
<circle cx="268.3" cy="375.9"/>
<circle cx="273.4" cy="375.9"/>
<circle cx="255.2" cy="374.5"/>
<circle cx="275.9" cy="375.5"/>
<circle cx="263.1" cy="374"/>
<circle cx="260.5" cy="376"/>
<circle cx="255.2" cy="376.3"/>
<circle cx="249.8" cy="375.3"/>
<circle cx="257.6" cy="374.3"/>
<circle cx="265.5" cy="376.1"/>
<circle cx="260.2" cy="374.9"/>
<circle cx="275.7" cy="375.1"/>
<circle cx="257.9" cy="375.3"/>
<circle cx="260.6" cy="375.4"/>
<circle cx="260.1" cy="374.9"/>
<circle cx="270.6" cy="375"/>
<circle cx="265.7" cy="375.5"/>
<circle cx="265.5" cy="374.6"/>
<circle cx="252.7" cy="375.2"/>
<circle cx="273.5" cy="374.5"/>
<circle cx="268.2" cy="375.9"/>
<circle cx="273.4" cy="375.1"/>
<circle cx="252.7" cy="374"/>
<circle cx="257.6" cy="374.4"/>
<circle cx="280.9" cy="375.3"/>
<circle cx="257.7" cy="376.5"/>
<circle cx="262.7" cy="375.2"/>
<circle cx="255.2" cy="375.2"/>
<circle cx="255.1" cy="375.9"/>
<circle cx="252.6" cy="376.4"/>
<circle cx="262.9" cy="375"/>
<circle cx="257.8" cy="376.8"/>
<circle cx="255.4" cy="375"/>
</g>
<line x1="261.3" y1="369.6" x2="261.3" y2="381.4" stroke="#999" stroke-width="0.6"/>
<polyline points="321.8,362.8 324.2,360.9 326.6,362.8" fill="none" stroke="#333" stroke-width="0.9" stroke-linejoin="round"/>
<rect x="233.5" y="341.3" width="104.9" height="44.6" fill="none" stroke="#555" stroke-width="0.95"/>
<line x1="273.7" y1="386" x2="273.7" y2="388.6" stroke="#2b2b2b" stroke-width="0.75"/>
<text x="273.7" y="396.4" text-anchor="middle" font-size="8.7" fill="#1a1a1a" textLength="9.4" lengthAdjust="spacingAndGlyphs">20</text>
<line x1="316.2" y1="386" x2="316.2" y2="388.6" stroke="#2b2b2b" stroke-width="0.75"/>
<text x="316.2" y="396.4" text-anchor="middle" font-size="8.7" fill="#1a1a1a" textLength="9.4" lengthAdjust="spacingAndGlyphs">40</text>
</g>
<g>
<line x1="240.4" y1="427.6" x2="305.5" y2="427.6" stroke="#a0a0a0" stroke-width="0.6"/>
<rect x="263.4" y="421.7" width="16.1" height="11.8" fill="#dcf3dc" stroke="#bcd9bc" stroke-width="0.6"/>
<g fill="#a9d9a9" stroke="#6a866a" class="d">
<circle cx="266.5" cy="426.9"/>
<circle cx="253.4" cy="427.8"/>
<circle cx="276.8" cy="427.8"/>
<circle cx="264" cy="426.2"/>
<circle cx="258.5" cy="426.5"/>
<circle cx="251" cy="426.8"/>
<circle cx="274.4" cy="428"/>
<circle cx="274.5" cy="428.8"/>
<circle cx="243.2" cy="426.1"/>
<circle cx="269.2" cy="427.5"/>
<circle cx="248" cy="428"/>
<circle cx="269.1" cy="428.7"/>
<circle cx="271.4" cy="427"/>
<circle cx="284.7" cy="426.7"/>
<circle cx="309.5" cy="428.6"/>
<circle cx="248.4" cy="427.4"/>
<circle cx="289.9" cy="426.3"/>
<circle cx="271.7" cy="426.4"/>
<circle cx="292.6" cy="428.3"/>
<circle cx="266.3" cy="427.8"/>
<circle cx="297.4" cy="428.1"/>
<circle cx="261.4" cy="427.9"/>
<circle cx="271.6" cy="426.4"/>
<circle cx="282" cy="426.1"/>
<circle cx="255.9" cy="427.1"/>
<circle cx="289.6" cy="426.9"/>
<circle cx="274.4" cy="426.8"/>
<circle cx="279.6" cy="428.4"/>
<circle cx="274.4" cy="426.3"/>
<circle cx="261.2" cy="426.5"/>
<circle cx="269.1" cy="426.2"/>
<circle cx="264" cy="426.3"/>
<circle cx="271.8" cy="427"/>
<circle cx="258.7" cy="426.3"/>
<circle cx="277" cy="426.4"/>
<circle cx="303" cy="427.5"/>
<circle cx="287.2" cy="427.6"/>
<circle cx="284.4" cy="428.4"/>
<circle cx="282.1" cy="426.2"/>
<circle cx="261" cy="427.5"/>
<circle cx="266.5" cy="427"/>
<circle cx="271.9" cy="428.3"/>
<circle cx="279.6" cy="427.6"/>
<circle cx="279.6" cy="427.4"/>
<circle cx="276.7" cy="428.4"/>
<circle cx="253.6" cy="427.1"/>
<circle cx="300.1" cy="427.3"/>
<circle cx="266.3" cy="427"/>
<circle cx="266.4" cy="428.9"/>
<circle cx="263.6" cy="427.2"/>
<circle cx="289.7" cy="429"/>
<circle cx="268.8" cy="429"/>
<circle cx="279.6" cy="426.2"/>
<circle cx="255.9" cy="426.9"/>
<circle cx="263.7" cy="426.7"/>
</g>
<line x1="270.5" y1="421.7" x2="270.5" y2="433.5" stroke="#999" stroke-width="0.6"/>
<line x1="251.7" y1="439.4" x2="303.1" y2="439.4" stroke="#a0a0a0" stroke-width="0.6"/>
<rect x="265.3" y="433.5" width="17.4" height="11.8" fill="#f7ede1" stroke="#ddcdbb" stroke-width="0.6"/>
<g fill="#ecceab" stroke="#8f7c68" class="d">
<circle cx="281.2" cy="439.7"/>
<circle cx="273.5" cy="439.3"/>
<circle cx="265.6" cy="439.4"/>
<circle cx="321.5" cy="438"/>
<circle cx="260.2" cy="440.5"/>
<circle cx="252.7" cy="438.4"/>
<circle cx="297" cy="440.7"/>
<circle cx="265.3" cy="440.1"/>
<circle cx="270.6" cy="437.9"/>
<circle cx="255.3" cy="440.5"/>
<circle cx="262.9" cy="438.7"/>
<circle cx="257.8" cy="440.7"/>
<circle cx="273.4" cy="440.1"/>
<circle cx="291.7" cy="440.8"/>
<circle cx="278.7" cy="438.6"/>
<circle cx="288.9" cy="440.9"/>
<circle cx="294.4" cy="440.9"/>
<circle cx="286.4" cy="439.8"/>
<circle cx="278.7" cy="439.1"/>
<circle cx="280.9" cy="440.3"/>
<circle cx="270.6" cy="440.2"/>
<circle cx="286.4" cy="439.8"/>
<circle cx="284" cy="438.2"/>
<circle cx="262.8" cy="438"/>
<circle cx="260.5" cy="438.3"/>
<circle cx="275.9" cy="439.3"/>
<circle cx="265.5" cy="438.7"/>
<circle cx="291.5" cy="439.4"/>
<circle cx="273.2" cy="438.1"/>
<circle cx="268.1" cy="439.8"/>
<circle cx="262.9" cy="440.1"/>
<circle cx="265.4" cy="439.1"/>
<circle cx="260.2" cy="438.1"/>
<circle cx="268" cy="439.2"/>
<circle cx="270.7" cy="440.8"/>
<circle cx="268.3" cy="438.4"/>
<circle cx="267.9" cy="440"/>
<circle cx="278.8" cy="438.6"/>
<circle cx="288.8" cy="438.5"/>
<circle cx="278.7" cy="440.6"/>
<circle cx="283.5" cy="439.1"/>
<circle cx="273.5" cy="440"/>
<circle cx="281.2" cy="439.6"/>
<circle cx="281" cy="439.2"/>
<circle cx="299.4" cy="440.6"/>
<circle cx="291.6" cy="438.4"/>
<circle cx="260.4" cy="438.5"/>
<circle cx="275.8" cy="439.5"/>
<circle cx="270.6" cy="440"/>
<circle cx="273.6" cy="439.4"/>
<circle cx="276" cy="437.9"/>
<circle cx="289.1" cy="439.4"/>
<circle cx="262.9" cy="439.3"/>
<circle cx="283.6" cy="440"/>
<circle cx="257.9" cy="439.3"/>
<circle cx="316.7" cy="439"/>
</g>
<line x1="273.7" y1="433.5" x2="273.7" y2="445.3" stroke="#999" stroke-width="0.6"/>
<line x1="242.8" y1="451.2" x2="294.2" y2="451.2" stroke="#a0a0a0" stroke-width="0.6"/>
<rect x="263.4" y="445.3" width="14.5" height="11.8" fill="#e5dbeb" stroke="#cbbbd4" stroke-width="0.6"/>
<g fill="#c0a2cf" stroke="#7a6a84" class="d">
<circle cx="263.5" cy="449.9"/>
<circle cx="255.8" cy="451"/>
<circle cx="276.5" cy="452.5"/>
<circle cx="256" cy="451.3"/>
<circle cx="250.5" cy="450.5"/>
<circle cx="274.1" cy="452.1"/>
<circle cx="255.9" cy="451.7"/>
<circle cx="269" cy="452"/>
<circle cx="274.1" cy="450.8"/>
<circle cx="269" cy="450.3"/>
<circle cx="271.4" cy="452.5"/>
<circle cx="292.4" cy="451.7"/>
<circle cx="281.9" cy="451.7"/>
<circle cx="242.8" cy="451.6"/>
<circle cx="276.4" cy="451.6"/>
<circle cx="253" cy="451.5"/>
<circle cx="258.2" cy="451.5"/>
<circle cx="266" cy="450.5"/>
<circle cx="268.6" cy="452.3"/>
<circle cx="271.3" cy="452.4"/>
<circle cx="268.6" cy="450.1"/>
<circle cx="263.8" cy="451.5"/>
<circle cx="263.4" cy="452.7"/>
<circle cx="266.4" cy="450"/>
<circle cx="279" cy="452.3"/>
<circle cx="261.1" cy="452.1"/>
<circle cx="266.2" cy="452.5"/>
<circle cx="248.2" cy="450.5"/>
<circle cx="258.5" cy="451.3"/>
<circle cx="260.9" cy="449.8"/>
<circle cx="261.2" cy="451.8"/>
<circle cx="274.2" cy="452.1"/>
<circle cx="271.3" cy="452.4"/>
<circle cx="276.5" cy="450.6"/>
<circle cx="281.7" cy="450.7"/>
<circle cx="263.8" cy="451.7"/>
<circle cx="271.2" cy="450.8"/>
<circle cx="287.1" cy="450.4"/>
<circle cx="255.6" cy="449.9"/>
<circle cx="281.7" cy="450.5"/>
<circle cx="276.6" cy="451.8"/>
<circle cx="284.3" cy="452.3"/>
<circle cx="266.4" cy="452.4"/>
<circle cx="284.6" cy="451.3"/>
<circle cx="276.6" cy="451.4"/>
<circle cx="279.3" cy="451.4"/>
<circle cx="292.2" cy="452.1"/>
<circle cx="289.4" cy="451.2"/>
<circle cx="274.1" cy="452.2"/>
<circle cx="284.5" cy="451.3"/>
<circle cx="271.6" cy="450.9"/>
<circle cx="274.1" cy="452.5"/>
<circle cx="268.8" cy="452.3"/>
<circle cx="279.1" cy="450.1"/>
</g>
<line x1="270.5" y1="445.3" x2="270.5" y2="457.1" stroke="#999" stroke-width="0.6"/>
<rect x="233.5" y="417.1" width="104.9" height="44.6" fill="none" stroke="#555" stroke-width="0.95"/>
<line x1="233.5" y1="461.7" x2="233.5" y2="464.3" stroke="#2b2b2b" stroke-width="0.75"/>
<text x="233.5" y="472.1" text-anchor="middle" font-size="8.7" fill="#1a1a1a" textLength="4.7" lengthAdjust="spacingAndGlyphs">0</text>
<line x1="275.4" y1="461.7" x2="275.4" y2="464.3" stroke="#2b2b2b" stroke-width="0.75"/>
<text x="275.4" y="472.1" text-anchor="middle" font-size="8.7" fill="#1a1a1a" textLength="23.6" lengthAdjust="spacingAndGlyphs">10000</text>
<line x1="316.7" y1="461.7" x2="316.7" y2="464.3" stroke="#2b2b2b" stroke-width="0.75"/>
<text x="316.7" y="472.1" text-anchor="middle" font-size="8.7" fill="#1a1a1a" textLength="23.6" lengthAdjust="spacingAndGlyphs">20000</text>
</g>
<g>
<line x1="591.5" y1="49" x2="613.2" y2="49" stroke="#a0a0a0" stroke-width="0.6"/>
<rect x="598.7" y="43.1" width="8.1" height="11.8" fill="#dcf3dc" stroke="#bcd9bc" stroke-width="0.6"/>
<g fill="#a9d9a9" stroke="#6a866a" class="d">
<circle cx="601.2" cy="49.3"/>
<circle cx="601.3" cy="47.5"/>
<circle cx="603.9" cy="47.9"/>
<circle cx="621.2" cy="49.6"/>
<circle cx="606.7" cy="49.3"/>
<circle cx="601.2" cy="48.8"/>
<circle cx="601.4" cy="47.9"/>
<circle cx="598.9" cy="48.6"/>
<circle cx="608.9" cy="50"/>
<circle cx="596.1" cy="50"/>
<circle cx="601.4" cy="48.1"/>
<circle cx="613.2" cy="49.8"/>
<circle cx="606.4" cy="49.6"/>
<circle cx="608.8" cy="49.4"/>
<circle cx="609.1" cy="50"/>
<circle cx="606.5" cy="49.9"/>
<circle cx="598.8" cy="48.6"/>
<circle cx="598.8" cy="50.4"/>
<circle cx="609.2" cy="49.8"/>
<circle cx="601.3" cy="49.4"/>
<circle cx="611.9" cy="47.6"/>
<circle cx="617.2" cy="48.6"/>
<circle cx="603.7" cy="49.3"/>
<circle cx="606.4" cy="49"/>
<circle cx="603.9" cy="48.4"/>
<circle cx="603.9" cy="49.6"/>
<circle cx="593.3" cy="48.2"/>
<circle cx="608.9" cy="49.4"/>
<circle cx="598.8" cy="49.1"/>
<circle cx="609.3" cy="48.2"/>
<circle cx="609.1" cy="48.9"/>
<circle cx="604" cy="47.6"/>
<circle cx="596" cy="49.8"/>
<circle cx="598.8" cy="48.3"/>
<circle cx="606.7" cy="50.1"/>
<circle cx="593.5" cy="47.9"/>
<circle cx="609.1" cy="49"/>
<circle cx="606.4" cy="49.2"/>
<circle cx="603.8" cy="48.5"/>
<circle cx="611.6" cy="48.5"/>
<circle cx="598.7" cy="49.6"/>
<circle cx="596.1" cy="48.3"/>
<circle cx="598.6" cy="48.9"/>
<circle cx="598.5" cy="49.9"/>
<circle cx="601.2" cy="48.3"/>
<circle cx="595.9" cy="50.3"/>
<circle cx="596" cy="49.4"/>
<circle cx="603.7" cy="48.7"/>
<circle cx="603.8" cy="48.6"/>
<circle cx="596.1" cy="48.4"/>
<circle cx="606.4" cy="49.9"/>
<circle cx="606.6" cy="47.6"/>
<circle cx="598.8" cy="49"/>
<circle cx="603.8" cy="48.7"/>
<circle cx="591.5" cy="50.3"/>
<circle cx="601.1" cy="49.5"/>
</g>
<line x1="602.7" y1="43.1" x2="602.7" y2="54.9" stroke="#999" stroke-width="0.6"/>
<line x1="593.1" y1="60.8" x2="621.2" y2="60.8" stroke="#a0a0a0" stroke-width="0.6"/>
<rect x="600" y="54.9" width="8.4" height="11.8" fill="#f7ede1" stroke="#ddcdbb" stroke-width="0.6"/>
<g fill="#ecceab" stroke="#8f7c68" class="d">
<circle cx="608.7" cy="60"/>
<circle cx="613.7" cy="60.4"/>
<circle cx="608.9" cy="60.3"/>
<circle cx="603.6" cy="60.4"/>
<circle cx="600.6" cy="60.9"/>
<circle cx="600.8" cy="61.6"/>
<circle cx="608.5" cy="60.9"/>
<circle cx="606" cy="59.8"/>
<circle cx="598" cy="62.1"/>
<circle cx="600.7" cy="59.8"/>
<circle cx="616.4" cy="60.8"/>
<circle cx="601" cy="60.2"/>
<circle cx="598.4" cy="62.1"/>
<circle cx="598.1" cy="59.5"/>
<circle cx="595.8" cy="61.1"/>
<circle cx="621.2" cy="61.3"/>
<circle cx="638.1" cy="60.6"/>
<circle cx="595.5" cy="62.2"/>
<circle cx="614.1" cy="61.8"/>
<circle cx="598.2" cy="59.8"/>
<circle cx="593.1" cy="60.2"/>
<circle cx="598.4" cy="59.7"/>
<circle cx="606.3" cy="61.4"/>
<circle cx="608.6" cy="59.4"/>
<circle cx="600.8" cy="60"/>
<circle cx="603.5" cy="60.2"/>
<circle cx="603.4" cy="60.6"/>
<circle cx="600.8" cy="61.1"/>
<circle cx="614" cy="62"/>
<circle cx="601" cy="59.9"/>
<circle cx="603.3" cy="59.8"/>
<circle cx="603.6" cy="61.9"/>
<circle cx="611.4" cy="60.3"/>
<circle cx="598.1" cy="60.6"/>
<circle cx="608.6" cy="62.2"/>
<circle cx="598.4" cy="61.3"/>
<circle cx="605.9" cy="62.2"/>
<circle cx="595.9" cy="60.8"/>
<circle cx="598.4" cy="60.7"/>
<circle cx="613.8" cy="61.7"/>
<circle cx="611.3" cy="60.7"/>
<circle cx="603.5" cy="61.7"/>
<circle cx="611" cy="61"/>
<circle cx="603.3" cy="61.3"/>
<circle cx="603.6" cy="60.7"/>
<circle cx="611.5" cy="61.4"/>
<circle cx="600.8" cy="59.8"/>
<circle cx="605.8" cy="60.2"/>
<circle cx="603.3" cy="59.6"/>
<circle cx="601" cy="59.8"/>
<circle cx="606.1" cy="59.8"/>
<circle cx="600.7" cy="61.8"/>
<circle cx="608.5" cy="60.7"/>
<circle cx="606.2" cy="59.3"/>
<circle cx="618.9" cy="60.7"/>
</g>
<line x1="603.5" y1="54.9" x2="603.5" y2="66.7" stroke="#999" stroke-width="0.6"/>
<line x1="598.7" y1="72.6" x2="624.4" y2="72.6" stroke="#a0a0a0" stroke-width="0.6"/>
<rect x="604" y="66.7" width="7.6" height="11.8" fill="#e5dbeb" stroke="#cbbbd4" stroke-width="0.6"/>
<g fill="#c0a2cf" stroke="#7a6a84" class="d">
<circle cx="614.3" cy="73.9"/>
<circle cx="603.7" cy="73.4"/>
<circle cx="608.6" cy="72.6"/>
<circle cx="621.8" cy="71.7"/>
<circle cx="598.7" cy="72.3"/>
<circle cx="603.6" cy="72.8"/>
<circle cx="603.7" cy="72.3"/>
<circle cx="611.3" cy="72.4"/>
<circle cx="616.8" cy="71.4"/>
<circle cx="603.6" cy="73.6"/>
<circle cx="606.3" cy="71.5"/>
<circle cx="606.4" cy="74"/>
<circle cx="616.4" cy="72.8"/>
<circle cx="606.3" cy="71.5"/>
<circle cx="603.7" cy="72.5"/>
<circle cx="614.1" cy="73.8"/>
<circle cx="616.7" cy="73"/>
<circle cx="608.7" cy="72.4"/>
<circle cx="601.2" cy="73.7"/>
<circle cx="608.9" cy="72.3"/>
<circle cx="608.9" cy="71.8"/>
<circle cx="627.6" cy="73.5"/>
<circle cx="606.4" cy="74"/>
<circle cx="606.4" cy="73.9"/>
<circle cx="611.4" cy="71.1"/>
<circle cx="619.4" cy="74"/>
<circle cx="611.3" cy="72.7"/>
<circle cx="601" cy="71.1"/>
<circle cx="598.7" cy="72.7"/>
<circle cx="630.8" cy="72.4"/>
<circle cx="611.3" cy="72"/>
<circle cx="603.8" cy="73.8"/>
<circle cx="608.8" cy="74"/>
<circle cx="613.9" cy="73.4"/>
<circle cx="619.1" cy="72.5"/>
<circle cx="603.4" cy="72.5"/>
<circle cx="603.5" cy="72"/>
<circle cx="614.2" cy="72.8"/>
<circle cx="606.4" cy="73.6"/>
<circle cx="606.5" cy="73.7"/>
<circle cx="606.1" cy="71.5"/>
<circle cx="614.1" cy="72.6"/>
<circle cx="609" cy="71.2"/>
<circle cx="601.3" cy="71.1"/>
<circle cx="603.5" cy="72.4"/>
<circle cx="611.6" cy="71.3"/>
<circle cx="608.6" cy="72.6"/>
<circle cx="609" cy="72.7"/>
<circle cx="608.9" cy="71.2"/>
<circle cx="603.8" cy="71.9"/>
<circle cx="611.7" cy="73.3"/>
<circle cx="606.1" cy="72.1"/>
<circle cx="606.1" cy="72.2"/>
<circle cx="601.3" cy="74"/>
<circle cx="601.2" cy="73.6"/>
<circle cx="624.4" cy="71.3"/>
</g>
<line x1="607.6" y1="66.7" x2="607.6" y2="78.5" stroke="#999" stroke-width="0.6"/>
<path d="M643.4 57.4v3.2M642 58.2l2.8 1.6M642 59.8l2.8 -1.6" stroke="#2a2a2a" stroke-width="0.75" fill="none"/>
<path d="M647.1 57.4v3.2M645.7 58.2l2.8 1.6M645.7 59.8l2.8 -1.6" stroke="#2a2a2a" stroke-width="0.75" fill="none"/>
<rect x="568.4" y="38.5" width="104.9" height="44.6" fill="none" stroke="#555" stroke-width="0.95"/>
<line x1="568.5" y1="83.1" x2="568.5" y2="85.7" stroke="#2b2b2b" stroke-width="0.75"/>
<text x="568.5" y="93.5" text-anchor="middle" font-size="8.7" fill="#1a1a1a" textLength="4.7" lengthAdjust="spacingAndGlyphs">0</text>
<line x1="610.8" y1="83.1" x2="610.8" y2="85.7" stroke="#2b2b2b" stroke-width="0.75"/>
<text x="610.8" y="93.5" text-anchor="middle" font-size="8.7" fill="#1a1a1a" textLength="4.7" lengthAdjust="spacingAndGlyphs">1</text>
<line x1="652" y1="83.1" x2="652" y2="85.7" stroke="#2b2b2b" stroke-width="0.75"/>
<text x="652" y="93.5" text-anchor="middle" font-size="8.7" fill="#1a1a1a" textLength="4.7" lengthAdjust="spacingAndGlyphs">2</text>
</g>
<g>
<line x1="583.5" y1="124.7" x2="607.6" y2="124.7" stroke="#a0a0a0" stroke-width="0.6"/>
<rect x="589.4" y="118.8" width="8.5" height="11.8" fill="#dcf3dc" stroke="#bcd9bc" stroke-width="0.6"/>
<g fill="#a9d9a9" stroke="#6a866a" class="d">
<circle cx="597.6" cy="123.2"/>
<circle cx="602.4" cy="124.1"/>
<circle cx="597.6" cy="124.9"/>
<circle cx="589.8" cy="125.8"/>
<circle cx="605.2" cy="123.3"/>
<circle cx="589.5" cy="124.7"/>
<circle cx="592.1" cy="123.4"/>
<circle cx="594.7" cy="124.4"/>
<circle cx="594.9" cy="123.6"/>
<circle cx="595" cy="124.6"/>
<circle cx="597.3" cy="125.4"/>
<circle cx="592.1" cy="126"/>
<circle cx="586.9" cy="124.7"/>
<circle cx="599.9" cy="125.6"/>
<circle cx="595" cy="125.5"/>
<circle cx="605.4" cy="125.9"/>
<circle cx="597.5" cy="124.2"/>
<circle cx="589.7" cy="123.9"/>
<circle cx="600.2" cy="124.5"/>
<circle cx="592.2" cy="124.8"/>
<circle cx="587.1" cy="125.1"/>
<circle cx="584.4" cy="125.7"/>
<circle cx="597.5" cy="125.5"/>
<circle cx="602.4" cy="126.1"/>
<circle cx="587.2" cy="126"/>
<circle cx="594.7" cy="125"/>
<circle cx="600.2" cy="124.7"/>
<circle cx="592.4" cy="125.2"/>
<circle cx="595" cy="125.2"/>
<circle cx="586.9" cy="125.6"/>
<circle cx="586.9" cy="124"/>
<circle cx="589.7" cy="123.3"/>
<circle cx="589.7" cy="123.3"/>
<circle cx="592.3" cy="124.7"/>
<circle cx="584.6" cy="125.6"/>
<circle cx="600" cy="124.2"/>
<circle cx="602.5" cy="126.1"/>
<circle cx="599.9" cy="124.4"/>
<circle cx="586.8" cy="125.3"/>
<circle cx="589.4" cy="126"/>
<circle cx="592.2" cy="124.2"/>
<circle cx="594.6" cy="123.3"/>
<circle cx="584.5" cy="124.3"/>
<circle cx="600.3" cy="125.2"/>
<circle cx="589.5" cy="125"/>
<circle cx="589.6" cy="123.7"/>
<circle cx="592.2" cy="123.2"/>
<circle cx="602.6" cy="125.8"/>
<circle cx="592.1" cy="123.8"/>
<circle cx="587.1" cy="125"/>
<circle cx="589.6" cy="124.4"/>
<circle cx="597.6" cy="123.7"/>
<circle cx="589.5" cy="125"/>
<circle cx="592.3" cy="125.6"/>
</g>
<line x1="592.6" y1="118.8" x2="592.6" y2="130.6" stroke="#999" stroke-width="0.6"/>
<line x1="581.4" y1="136.5" x2="610" y2="136.5" stroke="#a0a0a0" stroke-width="0.6"/>
<rect x="590.4" y="130.6" width="7.5" height="11.8" fill="#f7ede1" stroke="#ddcdbb" stroke-width="0.6"/>
<g fill="#ecceab" stroke="#8f7c68" class="d">
<circle cx="594.7" cy="136.2"/>
<circle cx="594.8" cy="138"/>
<circle cx="594.7" cy="137.7"/>
<circle cx="592.1" cy="135.3"/>
<circle cx="605.3" cy="136.2"/>
<circle cx="592.5" cy="136.6"/>
<circle cx="602.7" cy="135.2"/>
<circle cx="592.2" cy="137.2"/>
<circle cx="584.5" cy="136.3"/>
<circle cx="599.9" cy="136.9"/>
<circle cx="602.5" cy="137.8"/>
<circle cx="594.7" cy="135.9"/>
<circle cx="600" cy="136"/>
<circle cx="592.2" cy="136.2"/>
<circle cx="587" cy="137.6"/>
<circle cx="587.3" cy="136.1"/>
<circle cx="597.3" cy="137.6"/>
<circle cx="602.5" cy="135.6"/>
<circle cx="594.9" cy="136.3"/>
<circle cx="594.8" cy="135.4"/>
<circle cx="607.7" cy="135.7"/>
<circle cx="592.3" cy="136.9"/>
<circle cx="589.7" cy="136.2"/>
<circle cx="587.1" cy="135.4"/>
<circle cx="595.1" cy="137.3"/>
<circle cx="597.7" cy="137.5"/>
<circle cx="600" cy="135.5"/>
<circle cx="597.3" cy="136.3"/>
<circle cx="587" cy="137.5"/>
<circle cx="592.4" cy="137.4"/>
<circle cx="607.8" cy="136.2"/>
<circle cx="592.4" cy="135.6"/>
<circle cx="597.4" cy="135.3"/>
<circle cx="589.6" cy="137.8"/>
<circle cx="590" cy="135.5"/>
<circle cx="587" cy="136.9"/>
<circle cx="589.8" cy="136.3"/>
<circle cx="592.4" cy="135.1"/>
<circle cx="602.8" cy="136.7"/>
<circle cx="581.9" cy="137.8"/>
<circle cx="597.7" cy="135.8"/>
<circle cx="586.9" cy="137.6"/>
<circle cx="597.5" cy="136.9"/>
<circle cx="592.5" cy="137"/>
<circle cx="592.4" cy="137.4"/>
<circle cx="589.9" cy="135.5"/>
<circle cx="597.7" cy="136"/>
<circle cx="592.2" cy="136.2"/>
<circle cx="595.1" cy="135.6"/>
<circle cx="589.7" cy="135.9"/>
<circle cx="602.9" cy="136.3"/>
<circle cx="589.6" cy="137.9"/>
<circle cx="600.2" cy="136"/>
<circle cx="584.5" cy="135.1"/>
</g>
<line x1="593.6" y1="130.6" x2="593.6" y2="142.4" stroke="#999" stroke-width="0.6"/>
<line x1="588.3" y1="148.3" x2="610.8" y2="148.3" stroke="#a0a0a0" stroke-width="0.6"/>
<rect x="594.4" y="142.4" width="7.2" height="11.8" fill="#e5dbeb" stroke="#cbbbd4" stroke-width="0.6"/>
<g fill="#c0a2cf" stroke="#7a6a84" class="d">
<circle cx="598.4" cy="148.5"/>
<circle cx="600.9" cy="147.3"/>
<circle cx="595.7" cy="149.7"/>
<circle cx="600.8" cy="149.5"/>
<circle cx="595.8" cy="148.5"/>
<circle cx="606.1" cy="149"/>
<circle cx="600.9" cy="149.7"/>
<circle cx="598.2" cy="147.3"/>
<circle cx="595.8" cy="147.8"/>
<circle cx="593.2" cy="147.8"/>
<circle cx="600.7" cy="147.7"/>
<circle cx="598.2" cy="148.1"/>
<circle cx="593" cy="149.1"/>
<circle cx="588.3" cy="149.2"/>
<circle cx="593" cy="148.3"/>
<circle cx="603.4" cy="148.9"/>
<circle cx="590.4" cy="148.4"/>
<circle cx="598.3" cy="149.7"/>
<circle cx="592.9" cy="149.1"/>
<circle cx="593.3" cy="147.4"/>
<circle cx="595.7" cy="149.5"/>
<circle cx="603.4" cy="149"/>
<circle cx="590.6" cy="149.7"/>
<circle cx="610.8" cy="149.4"/>
<circle cx="606.4" cy="146.9"/>
<circle cx="598.3" cy="149.6"/>
<circle cx="598.2" cy="146.9"/>
<circle cx="595.9" cy="148.5"/>
<circle cx="600.9" cy="147.2"/>
<circle cx="590.4" cy="148.5"/>
<circle cx="593.1" cy="146.9"/>
<circle cx="603.6" cy="147.2"/>
<circle cx="595.6" cy="147.4"/>
<circle cx="614" cy="149.5"/>
<circle cx="595.6" cy="147.5"/>
<circle cx="600.7" cy="149.3"/>
<circle cx="600.8" cy="148"/>
<circle cx="593.1" cy="147.8"/>
<circle cx="598.5" cy="147.7"/>
<circle cx="595.7" cy="147.6"/>
<circle cx="593.1" cy="149.5"/>
<circle cx="598.2" cy="148.4"/>
<circle cx="590.5" cy="148.6"/>
<circle cx="606" cy="146.9"/>
<circle cx="603.7" cy="149.7"/>
<circle cx="606.3" cy="148.6"/>
<circle cx="598.3" cy="149.7"/>
<circle cx="595.8" cy="148.2"/>
<circle cx="595.9" cy="148.3"/>
<circle cx="601" cy="147.1"/>
<circle cx="608.5" cy="149.7"/>
<circle cx="593.3" cy="147.8"/>
<circle cx="603.7" cy="148.9"/>
<circle cx="606.3" cy="147.1"/>
<circle cx="598.3" cy="148.2"/>
</g>
<line x1="597.9" y1="142.4" x2="597.9" y2="154.2" stroke="#999" stroke-width="0.6"/>
<path d="M618.2 133.1v3.2M616.9 133.9l2.8 1.6M616.9 135.5l2.8 -1.6" stroke="#2a2a2a" stroke-width="0.75" fill="none"/>
<rect x="568.4" y="114.2" width="104.9" height="44.6" fill="none" stroke="#555" stroke-width="0.95"/>
<line x1="568.5" y1="158.8" x2="568.5" y2="161.4" stroke="#2b2b2b" stroke-width="0.75"/>
<text x="568.5" y="169.2" text-anchor="middle" font-size="8.7" fill="#1a1a1a" textLength="4.7" lengthAdjust="spacingAndGlyphs">0</text>
<line x1="614.8" y1="158.8" x2="614.8" y2="161.4" stroke="#2b2b2b" stroke-width="0.75"/>
<text x="614.8" y="169.2" text-anchor="middle" font-size="8.7" fill="#1a1a1a" textLength="14.2" lengthAdjust="spacingAndGlyphs">200</text>
<line x1="661.4" y1="158.8" x2="661.4" y2="161.4" stroke="#2b2b2b" stroke-width="0.75"/>
<text x="661.4" y="169.2" text-anchor="middle" font-size="8.7" fill="#1a1a1a" textLength="14.2" lengthAdjust="spacingAndGlyphs">400</text>
</g>
<g>
<line x1="579.5" y1="200.4" x2="624.4" y2="200.4" stroke="#a0a0a0" stroke-width="0.6"/>
<rect x="595.5" y="194.5" width="12.1" height="11.8" fill="#dcf3dc" stroke="#bcd9bc" stroke-width="0.6"/>
<g fill="#a9d9a9" stroke="#6a866a" class="d">
<circle cx="594.4" cy="201"/>
<circle cx="614.8" cy="199.6"/>
<circle cx="602" cy="201.8"/>
<circle cx="599.3" cy="199.2"/>
<circle cx="602.1" cy="200.6"/>
<circle cx="584" cy="199"/>
<circle cx="623" cy="200"/>
<circle cx="612.4" cy="201.9"/>
<circle cx="581.4" cy="201.3"/>
<circle cx="604.4" cy="199.8"/>
<circle cx="589.2" cy="201.3"/>
<circle cx="635.7" cy="201.7"/>
<circle cx="591.5" cy="199.1"/>
<circle cx="614.8" cy="201.8"/>
<circle cx="609.9" cy="200.1"/>
<circle cx="604.8" cy="200"/>
<circle cx="612.5" cy="201"/>
<circle cx="602" cy="199.6"/>
<circle cx="594.1" cy="200.9"/>
<circle cx="596.6" cy="201.1"/>
<circle cx="586.3" cy="199"/>
<circle cx="615" cy="201.7"/>
<circle cx="602" cy="199.7"/>
<circle cx="589.1" cy="200.6"/>
<circle cx="591.7" cy="200.2"/>
<circle cx="589.1" cy="201.3"/>
<circle cx="607.3" cy="199.8"/>
<circle cx="601.8" cy="200"/>
<circle cx="610" cy="199.8"/>
<circle cx="622.9" cy="199"/>
<circle cx="599.2" cy="200.8"/>
<circle cx="607.1" cy="199.6"/>
<circle cx="596.7" cy="200.1"/>
<circle cx="597" cy="201.2"/>
<circle cx="594" cy="200.8"/>
<circle cx="599.4" cy="201.5"/>
<circle cx="607.4" cy="201.6"/>
<circle cx="607.4" cy="201.4"/>
<circle cx="602.1" cy="200"/>
<circle cx="599.3" cy="200.8"/>
<circle cx="599.2" cy="199.9"/>
<circle cx="596.8" cy="199.2"/>
<circle cx="604.5" cy="199.4"/>
<circle cx="609.6" cy="200.9"/>
<circle cx="594.3" cy="200"/>
<circle cx="604.8" cy="200.5"/>
<circle cx="620.4" cy="199.9"/>
<circle cx="610" cy="199.4"/>
<circle cx="604.8" cy="199.7"/>
<circle cx="599.3" cy="200.9"/>
<circle cx="588.7" cy="201.5"/>
<circle cx="591.5" cy="200"/>
<circle cx="596.9" cy="199.8"/>
<circle cx="612.2" cy="200.9"/>
<circle cx="607.2" cy="199.8"/>
</g>
<line x1="601.6" y1="194.5" x2="601.6" y2="206.3" stroke="#999" stroke-width="0.6"/>
<line x1="581" y1="212.2" x2="632.4" y2="212.2" stroke="#a0a0a0" stroke-width="0.6"/>
<rect x="590.4" y="206.3" width="17.6" height="11.8" fill="#f7ede1" stroke="#ddcdbb" stroke-width="0.6"/>
<g fill="#ecceab" stroke="#8f7c68" class="d">
<circle cx="602.4" cy="213.5"/>
<circle cx="597.5" cy="211.4"/>
<circle cx="618" cy="212"/>
<circle cx="589.5" cy="213.5"/>
<circle cx="586.7" cy="211.5"/>
<circle cx="589.8" cy="211.6"/>
<circle cx="594.9" cy="213.4"/>
<circle cx="589.6" cy="211.1"/>
<circle cx="587.1" cy="212.7"/>
<circle cx="602.6" cy="211.5"/>
<circle cx="625.9" cy="210.9"/>
<circle cx="599.7" cy="212.8"/>
<circle cx="597.5" cy="211"/>
<circle cx="594.9" cy="212"/>
<circle cx="607.8" cy="212.6"/>
<circle cx="650.1" cy="213"/>
<circle cx="597.3" cy="211.3"/>
<circle cx="589.6" cy="213.1"/>
<circle cx="610.4" cy="213.1"/>
<circle cx="607.9" cy="213.7"/>
<circle cx="623.3" cy="212.6"/>
<circle cx="592.4" cy="211.2"/>
<circle cx="615.4" cy="211.8"/>
<circle cx="592.2" cy="213.1"/>
<circle cx="620.5" cy="210.8"/>
<circle cx="613.2" cy="210.7"/>
<circle cx="608" cy="210.8"/>
<circle cx="587.2" cy="213.6"/>
<circle cx="597.3" cy="211.7"/>
<circle cx="592" cy="213.7"/>
<circle cx="602.7" cy="212.3"/>
<circle cx="594.7" cy="212.4"/>
<circle cx="587" cy="211.7"/>
<circle cx="589.5" cy="213.4"/>
<circle cx="615.8" cy="211"/>
<circle cx="587.1" cy="212.5"/>
<circle cx="605.2" cy="212.4"/>
<circle cx="610.2" cy="212.2"/>
<circle cx="604.9" cy="211.9"/>
<circle cx="641.8" cy="211.7"/>
<circle cx="584.2" cy="211.7"/>
<circle cx="594.6" cy="212.9"/>
<circle cx="617.9" cy="210.9"/>
<circle cx="584.5" cy="212.9"/>
<circle cx="591.9" cy="212.4"/>
<circle cx="602.5" cy="213.2"/>
<circle cx="631.2" cy="213.5"/>
<circle cx="610.6" cy="210.7"/>
<circle cx="600" cy="211.8"/>
<circle cx="612.8" cy="212.2"/>
<circle cx="582" cy="211"/>
<circle cx="605.4" cy="212.9"/>
<circle cx="597.3" cy="213.1"/>
<circle cx="584.4" cy="211.5"/>
<circle cx="592.1" cy="213"/>
<circle cx="599.8" cy="213.7"/>
</g>
<line x1="598.4" y1="206.3" x2="598.4" y2="218.1" stroke="#999" stroke-width="0.6"/>
<line x1="580.3" y1="224" x2="618.8" y2="224" stroke="#a0a0a0" stroke-width="0.6"/>
<rect x="589.4" y="218.1" width="10.1" height="11.8" fill="#e5dbeb" stroke="#cbbbd4" stroke-width="0.6"/>
<g fill="#c0a2cf" stroke="#7a6a84" class="d">
<circle cx="591.5" cy="225.3"/>
<circle cx="583.6" cy="222.9"/>
<circle cx="583.7" cy="223.9"/>
<circle cx="586.1" cy="223.2"/>
<circle cx="596.6" cy="225.4"/>
<circle cx="593.9" cy="223.3"/>
<circle cx="614.7" cy="223.2"/>
<circle cx="599" cy="224.8"/>
<circle cx="591.4" cy="224.8"/>
<circle cx="588.9" cy="224.5"/>
<circle cx="611.9" cy="225.5"/>
<circle cx="591.4" cy="225.1"/>
<circle cx="617.3" cy="224.1"/>
<circle cx="599.2" cy="223.1"/>
<circle cx="591.2" cy="224"/>
<circle cx="601.9" cy="224.8"/>
<circle cx="596.6" cy="224.1"/>
<circle cx="604.5" cy="223.2"/>
<circle cx="580.8" cy="224.4"/>
<circle cx="594.1" cy="225.1"/>
<circle cx="609.4" cy="225.2"/>
<circle cx="599.4" cy="225.3"/>
<circle cx="607.1" cy="224.5"/>
<circle cx="588.8" cy="224.2"/>
<circle cx="586" cy="224.4"/>
<circle cx="585.9" cy="225.1"/>
<circle cx="591.5" cy="224.6"/>
<circle cx="593.9" cy="223.8"/>
<circle cx="594" cy="222.9"/>
<circle cx="589" cy="223"/>
<circle cx="591.5" cy="223.6"/>
<circle cx="599.3" cy="224.5"/>
<circle cx="596.7" cy="224.4"/>
<circle cx="593.9" cy="223.4"/>
<circle cx="604.5" cy="223.7"/>
<circle cx="607" cy="223.2"/>
<circle cx="606.8" cy="225.3"/>
<circle cx="596.7" cy="225.5"/>
<circle cx="594" cy="222.9"/>
<circle cx="604.2" cy="222.8"/>
<circle cx="588.6" cy="224.8"/>
<circle cx="588.6" cy="223"/>
<circle cx="596.5" cy="222.6"/>
<circle cx="601.8" cy="222.5"/>
<circle cx="594.1" cy="225.5"/>
<circle cx="586" cy="225"/>
<circle cx="580.7" cy="225"/>
<circle cx="596.3" cy="225.4"/>
<circle cx="601.6" cy="225"/>
<circle cx="586" cy="223.2"/>
<circle cx="591.6" cy="223.4"/>
<circle cx="591.3" cy="223.9"/>
<circle cx="588.6" cy="223.7"/>
<circle cx="591.3" cy="225.2"/>
</g>
<line x1="593.6" y1="218.1" x2="593.6" y2="229.9" stroke="#999" stroke-width="0.6"/>
<path d="M656.1 208.8v3.2M654.7 209.6l2.8 1.6M654.7 211.2l2.8 -1.6" stroke="#2a2a2a" stroke-width="0.75" fill="none"/>
<path d="M659.9 208.8v3.2M658.5 209.6l2.8 1.6M658.5 211.2l2.8 -1.6" stroke="#2a2a2a" stroke-width="0.75" fill="none"/>
<path d="M663.6 208.8v3.2M662.2 209.6l2.8 1.6M662.2 211.2l2.8 -1.6" stroke="#2a2a2a" stroke-width="0.75" fill="none"/>
<rect x="568.4" y="189.9" width="104.9" height="44.6" fill="none" stroke="#555" stroke-width="0.95"/>
<line x1="568.5" y1="234.5" x2="568.5" y2="237.1" stroke="#2b2b2b" stroke-width="0.75"/>
<text x="568.5" y="244.9" text-anchor="middle" font-size="8.7" fill="#1a1a1a" textLength="4.7" lengthAdjust="spacingAndGlyphs">0</text>
<line x1="610.4" y1="234.5" x2="610.4" y2="237.1" stroke="#2b2b2b" stroke-width="0.75"/>
<text x="610.4" y="244.9" text-anchor="middle" font-size="8.7" fill="#1a1a1a" textLength="4.7" lengthAdjust="spacingAndGlyphs">2</text>
<line x1="652.2" y1="234.5" x2="652.2" y2="237.1" stroke="#2b2b2b" stroke-width="0.75"/>
<text x="652.2" y="244.9" text-anchor="middle" font-size="8.7" fill="#1a1a1a" textLength="4.7" lengthAdjust="spacingAndGlyphs">4</text>
</g>
<g>
<line x1="577" y1="276.1" x2="616.4" y2="276.1" stroke="#a0a0a0" stroke-width="0.6"/>
<rect x="589.6" y="270.2" width="11.1" height="11.8" fill="#dcf3dc" stroke="#bcd9bc" stroke-width="0.6"/>
<g fill="#a9d9a9" stroke="#6a866a" class="d">
<circle cx="577.7" cy="277.2"/>
<circle cx="600.9" cy="276.9"/>
<circle cx="585.5" cy="276.2"/>
<circle cx="598.5" cy="276.6"/>
<circle cx="598.5" cy="275.1"/>
<circle cx="623.6" cy="275.3"/>
<circle cx="585.3" cy="275.2"/>
<circle cx="614.1" cy="275.7"/>
<circle cx="648" cy="276.3"/>
<circle cx="595.7" cy="275.9"/>
<circle cx="590.7" cy="276.1"/>
<circle cx="598.6" cy="275.4"/>
<circle cx="590.5" cy="275.7"/>
<circle cx="582.7" cy="275.9"/>
<circle cx="613.9" cy="276.2"/>
<circle cx="590.8" cy="277.6"/>
<circle cx="593.4" cy="276"/>
<circle cx="608.9" cy="276.9"/>
<circle cx="588" cy="276.7"/>
<circle cx="595.7" cy="277.1"/>
<circle cx="590.7" cy="274.8"/>
<circle cx="588.3" cy="276.6"/>
<circle cx="580.4" cy="275.4"/>
<circle cx="603.8" cy="277.5"/>
<circle cx="598.5" cy="276"/>
<circle cx="590.9" cy="276.3"/>
<circle cx="595.9" cy="276.7"/>
<circle cx="588.2" cy="276"/>
<circle cx="585.4" cy="275.1"/>
<circle cx="580.5" cy="276"/>
<circle cx="606.1" cy="275.6"/>
<circle cx="598.4" cy="277"/>
<circle cx="593.5" cy="274.7"/>
<circle cx="585.5" cy="276.8"/>
<circle cx="593.5" cy="275.8"/>
<circle cx="593.4" cy="275.8"/>
<circle cx="595.9" cy="277.2"/>
<circle cx="601" cy="275.7"/>
<circle cx="606.4" cy="275.2"/>
<circle cx="590.8" cy="276.9"/>
<circle cx="590.8" cy="277.4"/>
<circle cx="593.2" cy="277"/>
<circle cx="603.6" cy="275.8"/>
<circle cx="606.5" cy="276.9"/>
<circle cx="590.8" cy="274.7"/>
<circle cx="595.9" cy="276.6"/>
<circle cx="603.7" cy="277.3"/>
<circle cx="590.8" cy="276.5"/>
<circle cx="588.2" cy="275.7"/>
<circle cx="600.9" cy="275.5"/>
<circle cx="611.5" cy="274.9"/>
<circle cx="588.1" cy="276.8"/>
<circle cx="593.5" cy="277.4"/>
<circle cx="593.4" cy="275.8"/>
<circle cx="606.3" cy="277.3"/>
<circle cx="601" cy="277.6"/>
</g>
<line x1="593.6" y1="270.2" x2="593.6" y2="282" stroke="#999" stroke-width="0.6"/>
<line x1="573.8" y1="287.9" x2="622.5" y2="287.9" stroke="#a0a0a0" stroke-width="0.6"/>
<rect x="588.8" y="282" width="13.9" height="11.8" fill="#f7ede1" stroke="#ddcdbb" stroke-width="0.6"/>
<g fill="#ecceab" stroke="#8f7c68" class="d">
<circle cx="601.1" cy="286.8"/>
<circle cx="616.8" cy="288"/>
<circle cx="609" cy="289.3"/>
<circle cx="591.2" cy="287.2"/>
<circle cx="580.7" cy="289.3"/>
<circle cx="611.9" cy="289.4"/>
<circle cx="590.8" cy="288.9"/>
<circle cx="606.3" cy="288.7"/>
<circle cx="612" cy="287.3"/>
<circle cx="593.4" cy="287.3"/>
<circle cx="598.6" cy="288.7"/>
<circle cx="588.2" cy="289.2"/>
<circle cx="583.3" cy="287.3"/>
<circle cx="601.4" cy="288.9"/>
<circle cx="593.7" cy="287.8"/>
<circle cx="598.8" cy="287"/>
<circle cx="593.5" cy="288.5"/>
<circle cx="606.5" cy="286.6"/>
<circle cx="583.4" cy="287.8"/>
<circle cx="585.8" cy="287.4"/>
<circle cx="609.2" cy="287.6"/>
<circle cx="593.6" cy="288.6"/>
<circle cx="601.5" cy="288.9"/>
<circle cx="577.8" cy="289"/>
<circle cx="595.9" cy="289"/>
<circle cx="611.8" cy="288.1"/>
<circle cx="614.5" cy="288.9"/>
<circle cx="604" cy="288.5"/>
<circle cx="596.1" cy="289.4"/>
<circle cx="591" cy="288.6"/>
<circle cx="603.8" cy="287.8"/>
<circle cx="580.5" cy="289.3"/>
<circle cx="598.7" cy="289"/>
<circle cx="593.5" cy="287.8"/>
<circle cx="590.7" cy="287.9"/>
<circle cx="588.2" cy="288"/>
<circle cx="598.8" cy="288.6"/>
<circle cx="601.2" cy="286.5"/>
<circle cx="585.8" cy="288.3"/>
<circle cx="622.1" cy="287.3"/>
<circle cx="596.2" cy="287.3"/>
<circle cx="591.1" cy="288.1"/>
<circle cx="591" cy="289.1"/>
<circle cx="606.7" cy="288.4"/>
<circle cx="588.3" cy="287.6"/>
<circle cx="583.4" cy="288.8"/>
<circle cx="593.4" cy="289"/>
<circle cx="585.8" cy="286.5"/>
<circle cx="583.3" cy="286.8"/>
<circle cx="604" cy="287.5"/>
<circle cx="593.8" cy="286.7"/>
<circle cx="595.9" cy="289.3"/>
<circle cx="585.6" cy="286.6"/>
<circle cx="575.3" cy="287.7"/>
</g>
<line x1="594.4" y1="282" x2="594.4" y2="293.8" stroke="#999" stroke-width="0.6"/>
<line x1="579.5" y1="299.7" x2="620.9" y2="299.7" stroke="#a0a0a0" stroke-width="0.6"/>
<rect x="593.4" y="293.8" width="12.1" height="11.8" fill="#e5dbeb" stroke="#cbbbd4" stroke-width="0.6"/>
<g fill="#c0a2cf" stroke="#7a6a84" class="d">
<circle cx="590.8" cy="299.7"/>
<circle cx="585.8" cy="300.8"/>
<circle cx="601.5" cy="300"/>
<circle cx="601.5" cy="301.1"/>
<circle cx="593.5" cy="301.1"/>
<circle cx="604.2" cy="299.5"/>
<circle cx="601.6" cy="300.3"/>
<circle cx="601.2" cy="301.1"/>
<circle cx="601.6" cy="299.6"/>
<circle cx="596.3" cy="298.4"/>
<circle cx="611.7" cy="300"/>
<circle cx="588.4" cy="298.9"/>
<circle cx="596" cy="299.4"/>
<circle cx="617" cy="298.2"/>
<circle cx="588.6" cy="299.1"/>
<circle cx="603.8" cy="299.6"/>
<circle cx="583" cy="300.3"/>
<circle cx="591.1" cy="301"/>
<circle cx="580.5" cy="301.2"/>
<circle cx="596.4" cy="298.8"/>
<circle cx="598.7" cy="300.3"/>
<circle cx="619.4" cy="300.9"/>
<circle cx="603.8" cy="300.9"/>
<circle cx="611.7" cy="299.7"/>
<circle cx="591.1" cy="299.5"/>
<circle cx="609.3" cy="299.6"/>
<circle cx="612" cy="301.2"/>
<circle cx="606.5" cy="299.7"/>
<circle cx="608.9" cy="301.2"/>
<circle cx="599" cy="299.3"/>
<circle cx="598.8" cy="299.4"/>
<circle cx="596.1" cy="301.1"/>
<circle cx="606.8" cy="299.4"/>
<circle cx="614.6" cy="299.6"/>
<circle cx="596" cy="300.6"/>
<circle cx="593.5" cy="299.7"/>
<circle cx="593.6" cy="300.4"/>
<circle cx="593.6" cy="300.7"/>
<circle cx="588.5" cy="298.4"/>
<circle cx="603.9" cy="300.4"/>
<circle cx="601.4" cy="299.2"/>
<circle cx="609.3" cy="299.9"/>
<circle cx="588.3" cy="300.9"/>
<circle cx="606.6" cy="298.6"/>
<circle cx="601.2" cy="300.9"/>
<circle cx="604.2" cy="301"/>
<circle cx="606.6" cy="299.6"/>
<circle cx="603.8" cy="299.4"/>
<circle cx="590.8" cy="300.9"/>
<circle cx="603.9" cy="300.6"/>
<circle cx="593.7" cy="300.9"/>
<circle cx="585.7" cy="300.1"/>
<circle cx="611.9" cy="300.2"/>
<circle cx="598.8" cy="301.2"/>
</g>
<line x1="600.3" y1="293.8" x2="600.3" y2="305.6" stroke="#999" stroke-width="0.6"/>
<path d="M654.2 284.5v3.2M652.8 285.3l2.8 1.6M652.8 286.9l2.8 -1.6" stroke="#2a2a2a" stroke-width="0.75" fill="none"/>
<path d="M657.9 284.5v3.2M656.5 285.3l2.8 1.6M656.5 286.9l2.8 -1.6" stroke="#2a2a2a" stroke-width="0.75" fill="none"/>
<rect x="568.4" y="265.6" width="104.9" height="44.6" fill="none" stroke="#555" stroke-width="0.95"/>
<line x1="590.4" y1="310.3" x2="590.4" y2="312.9" stroke="#2b2b2b" stroke-width="0.75"/>
<text x="590.4" y="320.7" text-anchor="middle" font-size="8.7" fill="#1a1a1a" textLength="9.4" lengthAdjust="spacingAndGlyphs">50</text>
<line x1="617.5" y1="310.3" x2="617.5" y2="312.9" stroke="#2b2b2b" stroke-width="0.75"/>
<text x="617.5" y="320.7" text-anchor="middle" font-size="8.7" fill="#1a1a1a" textLength="14.2" lengthAdjust="spacingAndGlyphs">100</text>
<line x1="644.5" y1="310.3" x2="644.5" y2="312.9" stroke="#2b2b2b" stroke-width="0.75"/>
<text x="644.5" y="320.7" text-anchor="middle" font-size="8.7" fill="#1a1a1a" textLength="14.2" lengthAdjust="spacingAndGlyphs">150</text>
<line x1="671.8" y1="310.3" x2="671.8" y2="312.9" stroke="#2b2b2b" stroke-width="0.75"/>
<text x="671.8" y="320.7" text-anchor="middle" font-size="8.7" fill="#1a1a1a" textLength="14.2" lengthAdjust="spacingAndGlyphs">200</text>
</g>
<g>
<line x1="584.3" y1="351.9" x2="645.3" y2="351.9" stroke="#a0a0a0" stroke-width="0.6"/>
<rect x="609.2" y="346" width="16.3" height="11.8" fill="#dcf3dc" stroke="#bcd9bc" stroke-width="0.6"/>
<g fill="#a9d9a9" stroke="#6a866a" class="d">
<circle cx="621.1" cy="353.2"/>
<circle cx="631.8" cy="352"/>
<circle cx="623.9" cy="350.8"/>
<circle cx="590.1" cy="352"/>
<circle cx="631.9" cy="351.5"/>
<circle cx="611" cy="352.3"/>
<circle cx="605.8" cy="351.4"/>
<circle cx="613.4" cy="351.9"/>
<circle cx="600.6" cy="351"/>
<circle cx="611.1" cy="351.5"/>
<circle cx="631.5" cy="351.9"/>
<circle cx="592.5" cy="351.3"/>
<circle cx="621.2" cy="351.4"/>
<circle cx="621.2" cy="350.5"/>
<circle cx="608.3" cy="351.7"/>
<circle cx="605.9" cy="351.6"/>
<circle cx="603.2" cy="350.7"/>
<circle cx="634.5" cy="351.8"/>
<circle cx="615.9" cy="352.2"/>
<circle cx="639.2" cy="352.6"/>
<circle cx="597.8" cy="352"/>
<circle cx="600.7" cy="353.1"/>
<circle cx="621.4" cy="351.3"/>
<circle cx="598.1" cy="350.9"/>
<circle cx="623.6" cy="352.2"/>
<circle cx="587.6" cy="350.7"/>
<circle cx="637" cy="351.8"/>
<circle cx="629" cy="350.4"/>
<circle cx="613.3" cy="352.2"/>
<circle cx="626.6" cy="352.6"/>
<circle cx="610.7" cy="351.2"/>
<circle cx="608.3" cy="352"/>
<circle cx="605.8" cy="350.4"/>
<circle cx="626.6" cy="352.4"/>
<circle cx="626.4" cy="352.9"/>
<circle cx="629.2" cy="351.3"/>
<circle cx="618.6" cy="352.4"/>
<circle cx="616.2" cy="350.6"/>
<circle cx="624" cy="351"/>
<circle cx="598.1" cy="350.7"/>
<circle cx="623.8" cy="351.3"/>
<circle cx="621.1" cy="352"/>
<circle cx="637.1" cy="352.1"/>
<circle cx="618.8" cy="352.7"/>
<circle cx="623.9" cy="351.4"/>
<circle cx="631.5" cy="352.3"/>
<circle cx="623.9" cy="352.1"/>
<circle cx="623.9" cy="351.5"/>
<circle cx="618.7" cy="352.1"/>
<circle cx="613.7" cy="352.9"/>
<circle cx="621.1" cy="350.5"/>
<circle cx="615.9" cy="352.9"/>
<circle cx="621.4" cy="351.3"/>
<circle cx="644.8" cy="352"/>
</g>
<line x1="620.4" y1="346" x2="620.4" y2="357.8" stroke="#999" stroke-width="0.6"/>
<line x1="584.3" y1="363.7" x2="648.5" y2="363.7" stroke="#a0a0a0" stroke-width="0.6"/>
<rect x="601.6" y="357.8" width="19.6" height="11.8" fill="#f7ede1" stroke="#ddcdbb" stroke-width="0.6"/>
<g fill="#ecceab" stroke="#8f7c68" class="d">
<circle cx="584.8" cy="364.4"/>
<circle cx="623.8" cy="364.6"/>
<circle cx="603" cy="363.9"/>
<circle cx="600.1" cy="362.2"/>
<circle cx="610.9" cy="363.7"/>
<circle cx="610.4" cy="362.4"/>
<circle cx="597.6" cy="363.5"/>
<circle cx="618.4" cy="364.3"/>
<circle cx="602.8" cy="363.8"/>
<circle cx="608.1" cy="364.6"/>
<circle cx="597.7" cy="364.1"/>
<circle cx="592.3" cy="362.2"/>
<circle cx="639" cy="364.8"/>
<circle cx="610.8" cy="363.8"/>
<circle cx="626.3" cy="364.8"/>
<circle cx="615.7" cy="364.8"/>
<circle cx="610.8" cy="364.3"/>
<circle cx="597.7" cy="364.8"/>
<circle cx="631.7" cy="363.4"/>
<circle cx="641.8" cy="364.6"/>
<circle cx="595.1" cy="363.3"/>
<circle cx="605.2" cy="362.3"/>
<circle cx="626" cy="363.4"/>
<circle cx="605.6" cy="365"/>
<circle cx="613" cy="363.5"/>
<circle cx="621.2" cy="364.9"/>
<circle cx="613.3" cy="364.5"/>
<circle cx="615.6" cy="364.7"/>
<circle cx="629.1" cy="365.1"/>
<circle cx="634.2" cy="362.3"/>
<circle cx="623.4" cy="363.6"/>
<circle cx="618.6" cy="363.9"/>
<circle cx="592.4" cy="364"/>
<circle cx="602.6" cy="364.7"/>
<circle cx="620.8" cy="363.8"/>
<circle cx="644.5" cy="364.3"/>
<circle cx="631.7" cy="364.8"/>
<circle cx="615.9" cy="363.9"/>
<circle cx="608" cy="363.9"/>
<circle cx="615.9" cy="364.2"/>
<circle cx="592.4" cy="363.7"/>
<circle cx="603" cy="363.8"/>
<circle cx="616" cy="364.7"/>
<circle cx="636.8" cy="363.2"/>
<circle cx="607.8" cy="362.4"/>
<circle cx="595.1" cy="364.1"/>
<circle cx="595.1" cy="364.8"/>
<circle cx="626" cy="362.4"/>
<circle cx="618.5" cy="363.8"/>
<circle cx="605.3" cy="362.4"/>
<circle cx="589.9" cy="363.7"/>
<circle cx="600.3" cy="363.7"/>
<circle cx="618.4" cy="363.5"/>
<circle cx="613.1" cy="363.2"/>
</g>
<line x1="612.4" y1="357.8" x2="612.4" y2="369.6" stroke="#999" stroke-width="0.6"/>
<line x1="577" y1="375.5" x2="636.5" y2="375.5" stroke="#a0a0a0" stroke-width="0.6"/>
<rect x="599.2" y="369.6" width="21.2" height="11.8" fill="#e5dbeb" stroke="#cbbbd4" stroke-width="0.6"/>
<g fill="#c0a2cf" stroke="#7a6a84" class="d">
<circle cx="581.9" cy="374.6"/>
<circle cx="618" cy="375.4"/>
<circle cx="625.7" cy="376.2"/>
<circle cx="620.9" cy="374.5"/>
<circle cx="578.9" cy="376.6"/>
<circle cx="620.9" cy="376.8"/>
<circle cx="610.5" cy="376.2"/>
<circle cx="612.7" cy="374.8"/>
<circle cx="613" cy="376.8"/>
<circle cx="605.1" cy="376"/>
<circle cx="602.5" cy="375.7"/>
<circle cx="591.9" cy="375.6"/>
<circle cx="600" cy="376.1"/>
<circle cx="599.7" cy="376.7"/>
<circle cx="615.4" cy="375.1"/>
<circle cx="623.3" cy="376.7"/>
<circle cx="620.5" cy="376"/>
<circle cx="589.7" cy="376.3"/>
<circle cx="618.3" cy="376.4"/>
<circle cx="597.2" cy="375.9"/>
<circle cx="626.1" cy="376"/>
<circle cx="592.1" cy="374.9"/>
<circle cx="615.4" cy="374.7"/>
<circle cx="605" cy="375.6"/>
<circle cx="604.9" cy="374.4"/>
<circle cx="602.4" cy="375.2"/>
<circle cx="617.9" cy="375.2"/>
<circle cx="625.7" cy="374.5"/>
<circle cx="607.6" cy="374.7"/>
<circle cx="594.9" cy="376.1"/>
<circle cx="610.2" cy="376.5"/>
<circle cx="589.6" cy="374.5"/>
<circle cx="586.8" cy="374.3"/>
<circle cx="597.5" cy="374.4"/>
<circle cx="628.6" cy="374.8"/>
<circle cx="605.2" cy="374.5"/>
<circle cx="610.3" cy="375.5"/>
<circle cx="594.6" cy="376.2"/>
<circle cx="625.8" cy="374.2"/>
<circle cx="623.4" cy="375.1"/>
<circle cx="628.4" cy="374.8"/>
<circle cx="628.4" cy="376.7"/>
<circle cx="600.1" cy="374"/>
<circle cx="607.7" cy="376"/>
<circle cx="597.5" cy="375.8"/>
<circle cx="607.5" cy="375.8"/>
<circle cx="631" cy="376.8"/>
<circle cx="589.6" cy="375.3"/>
<circle cx="602.7" cy="374"/>
<circle cx="602.7" cy="375.3"/>
<circle cx="612.8" cy="374.2"/>
<circle cx="607.9" cy="376.2"/>
<circle cx="615.4" cy="376.7"/>
<circle cx="633.9" cy="376.1"/>
</g>
<line x1="608.4" y1="369.6" x2="608.4" y2="381.4" stroke="#999" stroke-width="0.6"/>
<path d="M654.2 360.3v3.2M652.8 361.1l2.8 1.6M652.8 362.7l2.8 -1.6" stroke="#2a2a2a" stroke-width="0.75" fill="none"/>
<path d="M657.9 360.3v3.2M656.5 361.1l2.8 1.6M656.5 362.7l2.8 -1.6" stroke="#2a2a2a" stroke-width="0.75" fill="none"/>
<rect x="568.4" y="341.3" width="104.9" height="44.6" fill="none" stroke="#555" stroke-width="0.95"/>
<line x1="585.9" y1="386" x2="585.9" y2="388.6" stroke="#2b2b2b" stroke-width="0.75"/>
<text x="585.9" y="396.4" text-anchor="middle" font-size="8.7" fill="#1a1a1a" textLength="4.7" lengthAdjust="spacingAndGlyphs">5</text>
<line x1="615.1" y1="386" x2="615.1" y2="388.6" stroke="#2b2b2b" stroke-width="0.75"/>
<text x="615.1" y="396.4" text-anchor="middle" font-size="8.7" fill="#1a1a1a" textLength="9.4" lengthAdjust="spacingAndGlyphs">10</text>
<line x1="644.2" y1="386" x2="644.2" y2="388.6" stroke="#2b2b2b" stroke-width="0.75"/>
<text x="644.2" y="396.4" text-anchor="middle" font-size="8.7" fill="#1a1a1a" textLength="9.4" lengthAdjust="spacingAndGlyphs">15</text>
<line x1="671.8" y1="386" x2="671.8" y2="388.6" stroke="#2b2b2b" stroke-width="0.75"/>
<text x="671.8" y="396.4" text-anchor="middle" font-size="8.7" fill="#1a1a1a" textLength="9.4" lengthAdjust="spacingAndGlyphs">20</text>
</g>
<g>
<line x1="575.4" y1="427.6" x2="596.3" y2="427.6" stroke="#a0a0a0" stroke-width="0.6"/>
<rect x="583.1" y="421.7" width="7.6" height="11.8" fill="#dcf3dc" stroke="#bcd9bc" stroke-width="0.6"/>
<g fill="#a9d9a9" stroke="#6a866a" class="d">
<circle cx="592.5" cy="426.5"/>
<circle cx="587.1" cy="427.5"/>
<circle cx="579" cy="427.1"/>
<circle cx="581.8" cy="428.2"/>
<circle cx="608" cy="427.4"/>
<circle cx="589.5" cy="427.7"/>
<circle cx="604.3" cy="427.2"/>
<circle cx="576.7" cy="427.4"/>
<circle cx="587" cy="427.8"/>
<circle cx="584.6" cy="428.2"/>
<circle cx="587" cy="427.6"/>
<circle cx="600.3" cy="428.4"/>
<circle cx="584.5" cy="428.9"/>
<circle cx="582" cy="428.2"/>
<circle cx="589.7" cy="426.5"/>
<circle cx="586.9" cy="428"/>
<circle cx="592.4" cy="427.8"/>
<circle cx="587" cy="427.2"/>
<circle cx="586.9" cy="427.9"/>
<circle cx="595" cy="427.1"/>
<circle cx="592.3" cy="426.3"/>
<circle cx="584.2" cy="427.6"/>
<circle cx="587.3" cy="427"/>
<circle cx="584.6" cy="428"/>
<circle cx="594.9" cy="428.4"/>
<circle cx="625.7" cy="428.1"/>
<circle cx="579.1" cy="428.1"/>
<circle cx="594.6" cy="426.2"/>
<circle cx="579.3" cy="426.5"/>
<circle cx="587" cy="427.9"/>
<circle cx="584.5" cy="428.8"/>
<circle cx="589.4" cy="427"/>
<circle cx="576.6" cy="428.9"/>
<circle cx="581.7" cy="426.1"/>
<circle cx="589.8" cy="428.9"/>
<circle cx="589.6" cy="428.8"/>
<circle cx="581.8" cy="429"/>
<circle cx="617.5" cy="428.1"/>
<circle cx="579.2" cy="427.8"/>
<circle cx="584.5" cy="428.9"/>
<circle cx="587" cy="426.2"/>
<circle cx="579.3" cy="429"/>
<circle cx="581.8" cy="427.7"/>
<circle cx="584.2" cy="427"/>
<circle cx="594.7" cy="426.1"/>
<circle cx="589.6" cy="427.7"/>
<circle cx="586.8" cy="427.3"/>
<circle cx="584.4" cy="426.2"/>
<circle cx="592.2" cy="428.4"/>
<circle cx="589.6" cy="427.3"/>
<circle cx="589.6" cy="426.1"/>
<circle cx="592" cy="428.5"/>
<circle cx="592.4" cy="426.6"/>
<circle cx="581.6" cy="428.3"/>
<circle cx="592.3" cy="427.5"/>
<circle cx="589.7" cy="428.4"/>
<circle cx="581.6" cy="426.6"/>
<circle cx="592.2" cy="429"/>
<circle cx="589.6" cy="428.1"/>
</g>
<line x1="587.2" y1="421.7" x2="587.2" y2="433.5" stroke="#999" stroke-width="0.6"/>
<line x1="574.6" y1="439.4" x2="599.5" y2="439.4" stroke="#a0a0a0" stroke-width="0.6"/>
<rect x="584" y="433.5" width="10.2" height="11.8" fill="#f7ede1" stroke="#ddcdbb" stroke-width="0.6"/>
<g fill="#ecceab" stroke="#8f7c68" class="d">
<circle cx="595" cy="440.8"/>
<circle cx="595.1" cy="439"/>
<circle cx="589.5" cy="440"/>
<circle cx="584.4" cy="439.1"/>
<circle cx="589.9" cy="440.2"/>
<circle cx="597.4" cy="439.7"/>
<circle cx="584.4" cy="440.4"/>
<circle cx="597.5" cy="440.5"/>
<circle cx="594.8" cy="438.7"/>
<circle cx="592.3" cy="438.1"/>
<circle cx="603.5" cy="438.6"/>
<circle cx="621.7" cy="439.4"/>
<circle cx="584.5" cy="440.8"/>
<circle cx="581.9" cy="440.6"/>
<circle cx="592.4" cy="440.6"/>
<circle cx="597.5" cy="440.5"/>
<circle cx="587.3" cy="440.1"/>
<circle cx="587.3" cy="438.6"/>
<circle cx="587.2" cy="439"/>
<circle cx="574.6" cy="440.4"/>
<circle cx="589.5" cy="438.8"/>
<circle cx="586.9" cy="439.7"/>
<circle cx="579.2" cy="439.5"/>
<circle cx="582" cy="439.8"/>
<circle cx="595.2" cy="438.7"/>
<circle cx="587.1" cy="438.1"/>
<circle cx="587.3" cy="439.8"/>
<circle cx="592.5" cy="438"/>
<circle cx="589.7" cy="439.2"/>
<circle cx="594.8" cy="440.4"/>
<circle cx="594.8" cy="440.3"/>
<circle cx="594.7" cy="440.2"/>
<circle cx="599.5" cy="440"/>
<circle cx="581.7" cy="438.1"/>
<circle cx="584.5" cy="439.9"/>
<circle cx="581.8" cy="438.1"/>
<circle cx="586.9" cy="439.5"/>
<circle cx="584.5" cy="438.8"/>
<circle cx="582" cy="438.1"/>
<circle cx="594.8" cy="440.1"/>
<circle cx="579.1" cy="438.1"/>
<circle cx="592.2" cy="440.2"/>
<circle cx="607.1" cy="438.2"/>
<circle cx="589.6" cy="440.5"/>
<circle cx="579.6" cy="438.3"/>
<circle cx="589.7" cy="438.2"/>
<circle cx="616.4" cy="439"/>
<circle cx="584.8" cy="438"/>
<circle cx="592.2" cy="440"/>
<circle cx="597.6" cy="440.3"/>
<circle cx="592.1" cy="440.3"/>
<circle cx="589.8" cy="438.7"/>
<circle cx="579.3" cy="439.8"/>
<circle cx="576.9" cy="438.9"/>
<circle cx="587.4" cy="440.8"/>
<circle cx="611.2" cy="438.8"/>
<circle cx="594.9" cy="438.7"/>
<circle cx="595.1" cy="440.7"/>
<circle cx="582.1" cy="440"/>
</g>
<line x1="588.8" y1="433.5" x2="588.8" y2="445.3" stroke="#999" stroke-width="0.6"/>
<line x1="576.6" y1="451.2" x2="600.3" y2="451.2" stroke="#a0a0a0" stroke-width="0.6"/>
<rect x="584.6" y="445.3" width="10.1" height="11.8" fill="#e5dbeb" stroke="#cbbbd4" stroke-width="0.6"/>
<g fill="#c0a2cf" stroke="#7a6a84" class="d">
<circle cx="590.1" cy="452.2"/>
<circle cx="589.9" cy="451.8"/>
<circle cx="593" cy="449.8"/>
<circle cx="598.1" cy="450"/>
<circle cx="598.1" cy="450.8"/>
<circle cx="590" cy="451.8"/>
<circle cx="587.7" cy="451.5"/>
<circle cx="582.4" cy="452.1"/>
<circle cx="582.1" cy="449.7"/>
<circle cx="592.5" cy="450.7"/>
<circle cx="600.3" cy="451.8"/>
<circle cx="585.1" cy="450.1"/>
<circle cx="585.1" cy="450.4"/>
<circle cx="587.8" cy="451.4"/>
<circle cx="579.7" cy="452.6"/>
<circle cx="597.9" cy="451.2"/>
<circle cx="595.3" cy="451.6"/>
<circle cx="585.1" cy="450.7"/>
<circle cx="582.2" cy="449.9"/>
<circle cx="577.1" cy="452.5"/>
<circle cx="592.9" cy="451.4"/>
<circle cx="582.2" cy="450.4"/>
<circle cx="585" cy="452"/>
<circle cx="577" cy="451.6"/>
<circle cx="589.9" cy="450.5"/>
<circle cx="595.3" cy="450.7"/>
<circle cx="585.2" cy="451.3"/>
<circle cx="592.9" cy="451.3"/>
<circle cx="584.9" cy="450"/>
<circle cx="579.7" cy="452.1"/>
<circle cx="582.4" cy="452.6"/>
<circle cx="609.2" cy="449.8"/>
<circle cx="590.1" cy="450.9"/>
<circle cx="595.4" cy="452.2"/>
<circle cx="595.3" cy="452"/>
<circle cx="595.4" cy="449.7"/>
<circle cx="590.1" cy="452.7"/>
<circle cx="587.7" cy="449.9"/>
<circle cx="592.7" cy="451.8"/>
<circle cx="587.6" cy="451.3"/>
<circle cx="595.4" cy="449.8"/>
<circle cx="592.9" cy="450.8"/>
<circle cx="587.7" cy="449.9"/>
<circle cx="595.4" cy="449.8"/>
<circle cx="584.8" cy="452.1"/>
<circle cx="595.3" cy="449.9"/>
<circle cx="587.5" cy="450.6"/>
<circle cx="592.6" cy="450.7"/>
<circle cx="582.4" cy="451.4"/>
<circle cx="598.1" cy="452.4"/>
<circle cx="598" cy="452.2"/>
<circle cx="611.9" cy="450.7"/>
<circle cx="587.5" cy="449.7"/>
<circle cx="582.5" cy="452.6"/>
<circle cx="597.8" cy="452"/>
<circle cx="590.2" cy="450.8"/>
</g>
<line x1="589.4" y1="445.3" x2="589.4" y2="457.1" stroke="#999" stroke-width="0.6"/>
<rect x="568.4" y="417.1" width="104.9" height="44.6" fill="none" stroke="#555" stroke-width="0.95"/>
<line x1="598.7" y1="461.7" x2="598.7" y2="464.3" stroke="#2b2b2b" stroke-width="0.75"/>
<text x="598.7" y="472.1" text-anchor="middle" font-size="8.7" fill="#1a1a1a" textLength="9.4" lengthAdjust="spacingAndGlyphs">10</text>
<line x1="635.7" y1="461.7" x2="635.7" y2="464.3" stroke="#2b2b2b" stroke-width="0.75"/>
<text x="635.7" y="472.1" text-anchor="middle" font-size="8.7" fill="#1a1a1a" textLength="9.4" lengthAdjust="spacingAndGlyphs">20</text>
<line x1="672.3" y1="461.7" x2="672.3" y2="464.3" stroke="#2b2b2b" stroke-width="0.75"/>
<text x="672.3" y="472.1" text-anchor="middle" font-size="8.7" fill="#1a1a1a" textLength="9.4" lengthAdjust="spacingAndGlyphs">30</text>
</g>
<g>
<line x1="485.7" y1="49" x2="524.2" y2="49" stroke="#a0a0a0" stroke-width="0.6"/>
<rect x="498.5" y="43.1" width="9.2" height="11.8" fill="#dcf3dc" stroke="#bcd9bc" stroke-width="0.6"/>
<g fill="#a9d9a9" stroke="#6a866a" class="d">
<circle cx="498.1" cy="49.4"/>
<circle cx="498.2" cy="47.9"/>
<circle cx="500.9" cy="48.9"/>
<circle cx="506.2" cy="48.9"/>
<circle cx="501.2" cy="49.2"/>
<circle cx="487.7" cy="48.5"/>
<circle cx="506.4" cy="47.8"/>
<circle cx="503.7" cy="49.7"/>
<circle cx="498.4" cy="50.4"/>
<circle cx="503.6" cy="49.5"/>
<circle cx="521.9" cy="50.1"/>
<circle cx="508.8" cy="48.7"/>
<circle cx="493.3" cy="48.4"/>
<circle cx="501" cy="47.5"/>
<circle cx="513.8" cy="49.8"/>
<circle cx="503.7" cy="50.2"/>
<circle cx="511.1" cy="50"/>
<circle cx="498.5" cy="49"/>
<circle cx="493.1" cy="49.9"/>
<circle cx="500.7" cy="48.1"/>
<circle cx="503.4" cy="48.1"/>
<circle cx="495.8" cy="50.3"/>
<circle cx="490.4" cy="49.9"/>
<circle cx="529.9" cy="48.7"/>
<circle cx="509" cy="49.5"/>
<circle cx="511.2" cy="48.4"/>
<circle cx="506.1" cy="50.2"/>
<circle cx="505.9" cy="49.3"/>
<circle cx="513.8" cy="48.7"/>
<circle cx="503.6" cy="49.1"/>
<circle cx="503.3" cy="47.8"/>
<circle cx="511.5" cy="47.9"/>
<circle cx="519" cy="48.1"/>
<circle cx="498.3" cy="50.3"/>
<circle cx="495.7" cy="50.1"/>
<circle cx="513.9" cy="50.3"/>
<circle cx="506.1" cy="49.8"/>
<circle cx="500.8" cy="47.9"/>
<circle cx="500.9" cy="48"/>
<circle cx="506.2" cy="49"/>
<circle cx="488" cy="48.7"/>
<circle cx="506.2" cy="49.6"/>
<circle cx="498.5" cy="50.4"/>
<circle cx="495.7" cy="47.6"/>
<circle cx="508.7" cy="49"/>
<circle cx="495.7" cy="47.8"/>
<circle cx="500.8" cy="49.2"/>
<circle cx="516.7" cy="49.2"/>
<circle cx="501.2" cy="48.7"/>
<circle cx="506" cy="49.8"/>
<circle cx="519" cy="48.3"/>
<circle cx="493.4" cy="49.8"/>
<circle cx="527.4" cy="49.5"/>
<circle cx="503.6" cy="50"/>
<circle cx="511.4" cy="48"/>
<circle cx="492.9" cy="49.3"/>
</g>
<line x1="503" y1="43.1" x2="503" y2="54.9" stroke="#999" stroke-width="0.6"/>
<line x1="488.6" y1="60.8" x2="514.6" y2="60.8" stroke="#a0a0a0" stroke-width="0.6"/>
<rect x="498.9" y="54.9" width="8.5" height="11.8" fill="#f7ede1" stroke="#ddcdbb" stroke-width="0.6"/>
<g fill="#ecceab" stroke="#8f7c68" class="d">
<circle cx="503.2" cy="59.4"/>
<circle cx="505.9" cy="59.9"/>
<circle cx="513.7" cy="59.9"/>
<circle cx="503.4" cy="60.9"/>
<circle cx="498.3" cy="61.4"/>
<circle cx="495.3" cy="61.4"/>
<circle cx="500.6" cy="59.9"/>
<circle cx="498.1" cy="61.4"/>
<circle cx="490.5" cy="61.7"/>
<circle cx="537.6" cy="60.6"/>
<circle cx="492.9" cy="60.1"/>
<circle cx="508.3" cy="60.7"/>
<circle cx="503.5" cy="60.1"/>
<circle cx="508.4" cy="60.3"/>
<circle cx="500.7" cy="59.4"/>
<circle cx="508.6" cy="59.3"/>
<circle cx="508.4" cy="62.2"/>
<circle cx="492.9" cy="60"/>
<circle cx="529" cy="60.1"/>
<circle cx="503.5" cy="61.8"/>
<circle cx="527.4" cy="60"/>
<circle cx="511" cy="60"/>
<circle cx="495.2" cy="61.6"/>
<circle cx="503.2" cy="59.3"/>
<circle cx="503.1" cy="60.7"/>
<circle cx="500.7" cy="60.9"/>
<circle cx="500.6" cy="60.6"/>
<circle cx="498" cy="60.8"/>
<circle cx="511.2" cy="60.7"/>
<circle cx="513.8" cy="60.8"/>
<circle cx="503.5" cy="61.3"/>
<circle cx="500.9" cy="61.9"/>
<circle cx="511.1" cy="59.5"/>
<circle cx="498.3" cy="59.7"/>
<circle cx="500.6" cy="59.4"/>
<circle cx="500.6" cy="61.7"/>
<circle cx="518.6" cy="60.4"/>
<circle cx="490.4" cy="60.9"/>
<circle cx="508.4" cy="60.1"/>
<circle cx="495.6" cy="60.4"/>
<circle cx="508.4" cy="60.1"/>
<circle cx="511.2" cy="59.3"/>
<circle cx="495.5" cy="60.7"/>
<circle cx="500.7" cy="61.5"/>
<circle cx="505.8" cy="61.7"/>
<circle cx="498.2" cy="59.3"/>
<circle cx="508.7" cy="60.6"/>
<circle cx="505.8" cy="60.6"/>
<circle cx="500.7" cy="60.4"/>
<circle cx="506" cy="60.1"/>
<circle cx="500.6" cy="62"/>
<circle cx="511.1" cy="61.2"/>
<circle cx="505.7" cy="59.3"/>
<circle cx="500.9" cy="59.3"/>
<circle cx="495.3" cy="61"/>
<circle cx="506" cy="60.9"/>
<circle cx="505.7" cy="62.2"/>
<circle cx="498" cy="61.8"/>
</g>
<line x1="502.1" y1="54.9" x2="502.1" y2="66.7" stroke="#999" stroke-width="0.6"/>
<line x1="494.5" y1="72.6" x2="520.2" y2="72.6" stroke="#a0a0a0" stroke-width="0.6"/>
<rect x="504.5" y="66.7" width="7.2" height="11.8" fill="#e5dbeb" stroke="#cbbbd4" stroke-width="0.6"/>
<g fill="#c0a2cf" stroke="#7a6a84" class="d">
<circle cx="508.3" cy="73.9"/>
<circle cx="539.5" cy="71.4"/>
<circle cx="513.5" cy="71.9"/>
<circle cx="510.9" cy="71.2"/>
<circle cx="515.9" cy="71.2"/>
<circle cx="513.1" cy="71.4"/>
<circle cx="505.5" cy="72.8"/>
<circle cx="513.4" cy="73.6"/>
<circle cx="500.4" cy="72.4"/>
<circle cx="500.2" cy="72.6"/>
<circle cx="505.6" cy="73.2"/>
<circle cx="505.7" cy="73.9"/>
<circle cx="513.4" cy="72.7"/>
<circle cx="518.4" cy="72.3"/>
<circle cx="510.9" cy="73.5"/>
<circle cx="505.3" cy="71.8"/>
<circle cx="510.6" cy="72.5"/>
<circle cx="508.3" cy="73.1"/>
<circle cx="510.9" cy="72.3"/>
<circle cx="505.3" cy="72.8"/>
<circle cx="510.7" cy="72.8"/>
<circle cx="505.3" cy="72.5"/>
<circle cx="503.1" cy="73.3"/>
<circle cx="513.5" cy="71.7"/>
<circle cx="505.4" cy="73.4"/>
<circle cx="518.3" cy="73.3"/>
<circle cx="505.5" cy="73.7"/>
<circle cx="495" cy="74"/>
<circle cx="505.3" cy="72.4"/>
<circle cx="502.7" cy="72.2"/>
<circle cx="505.6" cy="71.5"/>
<circle cx="515.9" cy="73.5"/>
<circle cx="508.2" cy="71.1"/>
<circle cx="510.6" cy="73.3"/>
<circle cx="537" cy="73.6"/>
<circle cx="500.5" cy="71.9"/>
<circle cx="508.2" cy="73.4"/>
<circle cx="516" cy="73.2"/>
<circle cx="502.9" cy="73.4"/>
<circle cx="505.4" cy="72.7"/>
<circle cx="503" cy="71.4"/>
<circle cx="505.8" cy="71.3"/>
<circle cx="510.8" cy="72.5"/>
<circle cx="500.2" cy="71.8"/>
<circle cx="500.5" cy="72.6"/>
<circle cx="505.3" cy="73.1"/>
<circle cx="505.7" cy="72.7"/>
<circle cx="505.3" cy="72.2"/>
<circle cx="513.4" cy="73.2"/>
<circle cx="489.2" cy="72.5"/>
<circle cx="500.5" cy="74"/>
<circle cx="508.3" cy="71.9"/>
<circle cx="508" cy="71.2"/>
<circle cx="505.4" cy="72.6"/>
<circle cx="497.5" cy="72.1"/>
<circle cx="515.9" cy="71.3"/>
<circle cx="503.1" cy="72.6"/>
</g>
<line x1="506.2" y1="66.7" x2="506.2" y2="78.5" stroke="#999" stroke-width="0.6"/>
<path d="M545.4 57.4v3.2M544 58.2l2.8 1.6M544 59.8l2.8 -1.6" stroke="#2a2a2a" stroke-width="0.75" fill="none"/>
<path d="M549.1 57.4v3.2M547.7 58.2l2.8 1.6M547.7 59.8l2.8 -1.6" stroke="#2a2a2a" stroke-width="0.75" fill="none"/>
<rect x="463.5" y="38.5" width="104.9" height="44.6" fill="none" stroke="#555" stroke-width="0.95"/>
<line x1="463.5" y1="83.1" x2="463.5" y2="85.7" stroke="#2b2b2b" stroke-width="0.75"/>
<text x="463.5" y="93.5" text-anchor="middle" font-size="8.7" fill="#1a1a1a" textLength="4.7" lengthAdjust="spacingAndGlyphs">0</text>
<line x1="505.8" y1="83.1" x2="505.8" y2="85.7" stroke="#2b2b2b" stroke-width="0.75"/>
<text x="505.8" y="93.5" text-anchor="middle" font-size="8.7" fill="#1a1a1a" textLength="4.7" lengthAdjust="spacingAndGlyphs">1</text>
<line x1="547" y1="83.1" x2="547" y2="85.7" stroke="#2b2b2b" stroke-width="0.75"/>
<text x="547" y="93.5" text-anchor="middle" font-size="8.7" fill="#1a1a1a" textLength="4.7" lengthAdjust="spacingAndGlyphs">2</text>
</g>
<g>
<line x1="479.3" y1="124.7" x2="513" y2="124.7" stroke="#a0a0a0" stroke-width="0.6"/>
<rect x="491.8" y="118.8" width="10.8" height="11.8" fill="#dcf3dc" stroke="#bcd9bc" stroke-width="0.6"/>
<g fill="#a9d9a9" stroke="#6a866a" class="d">
<circle cx="497.3" cy="125.8"/>
<circle cx="494.8" cy="125.9"/>
<circle cx="499.8" cy="124.5"/>
<circle cx="497.3" cy="123.5"/>
<circle cx="524.7" cy="126.1"/>
<circle cx="502.6" cy="125.9"/>
<circle cx="502.4" cy="124.4"/>
<circle cx="492.3" cy="126"/>
<circle cx="481.9" cy="124.6"/>
<circle cx="521.8" cy="123.3"/>
<circle cx="486.7" cy="125.7"/>
<circle cx="502.3" cy="125.7"/>
<circle cx="486.8" cy="126"/>
<circle cx="505.1" cy="124.5"/>
<circle cx="497.3" cy="124.1"/>
<circle cx="510.3" cy="123.6"/>
<circle cx="494.9" cy="123.5"/>
<circle cx="505.2" cy="125.4"/>
<circle cx="489.6" cy="125.4"/>
<circle cx="489.4" cy="124.4"/>
<circle cx="497.4" cy="123.8"/>
<circle cx="494.8" cy="124.1"/>
<circle cx="492.1" cy="123.9"/>
<circle cx="505" cy="125.4"/>
<circle cx="494.6" cy="126.1"/>
<circle cx="492.1" cy="125.9"/>
<circle cx="500" cy="126.2"/>
<circle cx="502.6" cy="125.1"/>
<circle cx="489.4" cy="125.2"/>
<circle cx="502.3" cy="126.2"/>
<circle cx="505" cy="125.5"/>
<circle cx="492.2" cy="124.6"/>
<circle cx="499.8" cy="123.9"/>
<circle cx="489.8" cy="125.9"/>
<circle cx="497.2" cy="126.2"/>
<circle cx="484.4" cy="125.8"/>
<circle cx="495" cy="124.9"/>
<circle cx="494.7" cy="123.6"/>
<circle cx="507.5" cy="123.8"/>
<circle cx="507.9" cy="124.9"/>
<circle cx="505.3" cy="125.2"/>
<circle cx="492" cy="123.2"/>
<circle cx="487.1" cy="125.6"/>
<circle cx="500.1" cy="125.2"/>
<circle cx="499.7" cy="124.5"/>
<circle cx="499.8" cy="123.9"/>
<circle cx="512.9" cy="123.9"/>
<circle cx="536" cy="123.5"/>
<circle cx="507.8" cy="123.2"/>
<circle cx="499.9" cy="125.8"/>
<circle cx="507.7" cy="124.9"/>
<circle cx="497.6" cy="124.6"/>
<circle cx="518.6" cy="124.1"/>
<circle cx="494.8" cy="124.6"/>
<circle cx="487.1" cy="123.7"/>
<circle cx="481.7" cy="123.6"/>
<circle cx="492.4" cy="125.7"/>
<circle cx="487.1" cy="125.8"/>
</g>
<line x1="496.6" y1="118.8" x2="496.6" y2="130.6" stroke="#999" stroke-width="0.6"/>
<line x1="480.9" y1="136.5" x2="519.4" y2="136.5" stroke="#a0a0a0" stroke-width="0.6"/>
<rect x="492.6" y="130.6" width="8.8" height="11.8" fill="#f7ede1" stroke="#ddcdbb" stroke-width="0.6"/>
<g fill="#ecceab" stroke="#8f7c68" class="d">
<circle cx="495.8" cy="135.4"/>
<circle cx="490.6" cy="135.3"/>
<circle cx="500.7" cy="135.1"/>
<circle cx="485.3" cy="136.8"/>
<circle cx="495.6" cy="137.7"/>
<circle cx="530.3" cy="135"/>
<circle cx="482.5" cy="137.1"/>
<circle cx="492.8" cy="135"/>
<circle cx="493" cy="136.3"/>
<circle cx="513.9" cy="136"/>
<circle cx="500.9" cy="136.2"/>
<circle cx="487.8" cy="135.4"/>
<circle cx="495.7" cy="137.8"/>
<circle cx="490.2" cy="135.4"/>
<circle cx="501" cy="136.4"/>
<circle cx="493" cy="135.4"/>
<circle cx="508.4" cy="137"/>
<circle cx="492.9" cy="135.8"/>
<circle cx="487.6" cy="135.9"/>
<circle cx="495.7" cy="135.4"/>
<circle cx="523.8" cy="137.3"/>
<circle cx="487.6" cy="137.2"/>
<circle cx="498.2" cy="136.8"/>
<circle cx="506.1" cy="135.6"/>
<circle cx="508.5" cy="137.3"/>
<circle cx="505.8" cy="136.6"/>
<circle cx="495.8" cy="135.7"/>
<circle cx="519.2" cy="137"/>
<circle cx="498.4" cy="135.1"/>
<circle cx="503.5" cy="137"/>
<circle cx="493.3" cy="137.4"/>
<circle cx="503.3" cy="137.5"/>
<circle cx="501" cy="135.2"/>
<circle cx="490.5" cy="136.6"/>
<circle cx="500.8" cy="135.9"/>
<circle cx="498.1" cy="136.9"/>
<circle cx="493.1" cy="136.5"/>
<circle cx="495.8" cy="135.2"/>
<circle cx="488.1" cy="136.1"/>
<circle cx="495.5" cy="136.9"/>
<circle cx="505.8" cy="136.4"/>
<circle cx="498" cy="137.4"/>
<circle cx="487.7" cy="137.8"/>
<circle cx="495.5" cy="137.4"/>
<circle cx="493.1" cy="137.9"/>
<circle cx="508.7" cy="135.6"/>
<circle cx="511.3" cy="135.3"/>
<circle cx="503.3" cy="137.9"/>
<circle cx="490.4" cy="136.1"/>
<circle cx="498.3" cy="135.3"/>
<circle cx="500.7" cy="137.3"/>
<circle cx="498.4" cy="137.5"/>
<circle cx="498.1" cy="137.6"/>
<circle cx="498.2" cy="136.4"/>
<circle cx="485.3" cy="135.2"/>
<circle cx="503.3" cy="136"/>
</g>
<line x1="496.9" y1="130.6" x2="496.9" y2="142.4" stroke="#999" stroke-width="0.6"/>
<line x1="486.5" y1="148.3" x2="521" y2="148.3" stroke="#a0a0a0" stroke-width="0.6"/>
<rect x="496.1" y="142.4" width="11.6" height="11.8" fill="#e5dbeb" stroke="#cbbbd4" stroke-width="0.6"/>
<g fill="#c0a2cf" stroke="#7a6a84" class="d">
<circle cx="511.3" cy="148.9"/>
<circle cx="492.8" cy="149.3"/>
<circle cx="495.7" cy="149.4"/>
<circle cx="519" cy="148.8"/>
<circle cx="505.8" cy="148"/>
<circle cx="490.2" cy="147.7"/>
<circle cx="506" cy="147"/>
<circle cx="500.6" cy="148"/>
<circle cx="495.7" cy="147"/>
<circle cx="500.6" cy="149.7"/>
<circle cx="511.3" cy="147.8"/>
<circle cx="508.4" cy="147"/>
<circle cx="503.1" cy="148.8"/>
<circle cx="495.5" cy="148.1"/>
<circle cx="500.6" cy="149.1"/>
<circle cx="492.8" cy="148.1"/>
<circle cx="503.5" cy="148.4"/>
<circle cx="508.4" cy="149.1"/>
<circle cx="508.4" cy="148.8"/>
<circle cx="513.5" cy="149.1"/>
<circle cx="506" cy="148.7"/>
<circle cx="498" cy="148.6"/>
<circle cx="500.9" cy="149.7"/>
<circle cx="513.9" cy="149.4"/>
<circle cx="503.1" cy="149.2"/>
<circle cx="513.7" cy="147.2"/>
<circle cx="511" cy="149.3"/>
<circle cx="508.6" cy="149.8"/>
<circle cx="495.4" cy="148.2"/>
<circle cx="505.9" cy="148.9"/>
<circle cx="495.6" cy="146.9"/>
<circle cx="503.3" cy="149.7"/>
<circle cx="500.7" cy="149.6"/>
<circle cx="498.3" cy="149.2"/>
<circle cx="497.9" cy="147.7"/>
<circle cx="525.8" cy="147.5"/>
<circle cx="498.2" cy="148.8"/>
<circle cx="511.2" cy="149.2"/>
<circle cx="498" cy="147.8"/>
<circle cx="490.3" cy="146.8"/>
<circle cx="506.1" cy="148.9"/>
<circle cx="490.6" cy="149.2"/>
<circle cx="498" cy="149.2"/>
<circle cx="500.6" cy="149.8"/>
<circle cx="511.1" cy="147"/>
<circle cx="487.5" cy="148.2"/>
<circle cx="492.8" cy="147.8"/>
<circle cx="516.1" cy="147.7"/>
<circle cx="503.1" cy="147.1"/>
<circle cx="503.2" cy="147.3"/>
<circle cx="503.3" cy="149.7"/>
<circle cx="518.9" cy="148.9"/>
<circle cx="493" cy="148.2"/>
<circle cx="493.1" cy="148.3"/>
<circle cx="493.1" cy="149.7"/>
</g>
<line x1="501.8" y1="142.4" x2="501.8" y2="154.2" stroke="#999" stroke-width="0.6"/>
<path d="M541.6 133.1v3.2M540.2 133.9l2.8 1.6M540.2 135.5l2.8 -1.6" stroke="#2a2a2a" stroke-width="0.75" fill="none"/>
<rect x="463.5" y="114.2" width="104.9" height="44.6" fill="none" stroke="#555" stroke-width="0.95"/>
<line x1="463.5" y1="158.8" x2="463.5" y2="161.4" stroke="#2b2b2b" stroke-width="0.75"/>
<text x="463.5" y="169.2" text-anchor="middle" font-size="8.7" fill="#1a1a1a" textLength="4.7" lengthAdjust="spacingAndGlyphs">0</text>
<line x1="509.8" y1="158.8" x2="509.8" y2="161.4" stroke="#2b2b2b" stroke-width="0.75"/>
<text x="509.8" y="169.2" text-anchor="middle" font-size="8.7" fill="#1a1a1a" textLength="14.2" lengthAdjust="spacingAndGlyphs">200</text>
<line x1="556.4" y1="158.8" x2="556.4" y2="161.4" stroke="#2b2b2b" stroke-width="0.75"/>
<text x="556.4" y="169.2" text-anchor="middle" font-size="8.7" fill="#1a1a1a" textLength="14.2" lengthAdjust="spacingAndGlyphs">400</text>
</g>
<g>
<line x1="473.7" y1="200.4" x2="521" y2="200.4" stroke="#a0a0a0" stroke-width="0.6"/>
<rect x="489.4" y="194.5" width="10.7" height="11.8" fill="#dcf3dc" stroke="#bcd9bc" stroke-width="0.6"/>
<g fill="#a9d9a9" stroke="#6a866a" class="d">
<circle cx="483.6" cy="201.5"/>
<circle cx="499.3" cy="200.8"/>
<circle cx="493.9" cy="199.3"/>
<circle cx="486.1" cy="201.8"/>
<circle cx="496.8" cy="199.4"/>
<circle cx="496.5" cy="200.5"/>
<circle cx="491.4" cy="199.1"/>
<circle cx="491.5" cy="199"/>
<circle cx="478.7" cy="201.7"/>
<circle cx="507.2" cy="200.8"/>
<circle cx="491.4" cy="200.7"/>
<circle cx="491.3" cy="200.2"/>
<circle cx="483.7" cy="200.8"/>
<circle cx="494" cy="200.2"/>
<circle cx="499.5" cy="201.8"/>
<circle cx="488.7" cy="200.6"/>
<circle cx="481" cy="200.4"/>
<circle cx="486.1" cy="199.9"/>
<circle cx="488.7" cy="200.2"/>
<circle cx="496.8" cy="200.5"/>
<circle cx="494" cy="201.8"/>
<circle cx="483.6" cy="200.7"/>
<circle cx="488.7" cy="199.9"/>
<circle cx="491.6" cy="200.5"/>
<circle cx="499.4" cy="199.1"/>
<circle cx="494" cy="199.7"/>
<circle cx="486.5" cy="200.9"/>
<circle cx="476" cy="201.7"/>
<circle cx="491.6" cy="199.1"/>
<circle cx="496.6" cy="199.4"/>
<circle cx="502.1" cy="201.2"/>
<circle cx="483.7" cy="200.7"/>
<circle cx="489.1" cy="199.6"/>
<circle cx="494.2" cy="200.4"/>
<circle cx="520" cy="199"/>
<circle cx="493.9" cy="201.6"/>
<circle cx="507" cy="200.9"/>
<circle cx="512.1" cy="200"/>
<circle cx="504.6" cy="200.1"/>
<circle cx="494.1" cy="199.7"/>
<circle cx="491.5" cy="200.8"/>
<circle cx="509.5" cy="200.2"/>
<circle cx="504.4" cy="200.8"/>
<circle cx="488.7" cy="199.3"/>
<circle cx="501.7" cy="200.8"/>
<circle cx="499.2" cy="199.8"/>
<circle cx="502" cy="199.6"/>
<circle cx="517.3" cy="199.3"/>
<circle cx="507.1" cy="200.8"/>
<circle cx="512.3" cy="199.8"/>
<circle cx="475.7" cy="201.8"/>
<circle cx="499.5" cy="200.4"/>
<circle cx="499.2" cy="200.9"/>
<circle cx="496.6" cy="200.1"/>
</g>
<line x1="494.2" y1="194.5" x2="494.2" y2="206.3" stroke="#999" stroke-width="0.6"/>
<line x1="478.5" y1="212.2" x2="513.8" y2="212.2" stroke="#a0a0a0" stroke-width="0.6"/>
<rect x="487.8" y="206.3" width="11.2" height="11.8" fill="#f7ede1" stroke="#ddcdbb" stroke-width="0.6"/>
<g fill="#ecceab" stroke="#8f7c68" class="d">
<circle cx="485.2" cy="211.5"/>
<circle cx="497.9" cy="212"/>
<circle cx="498" cy="210.9"/>
<circle cx="503" cy="212.7"/>
<circle cx="490.1" cy="213.6"/>
<circle cx="498.2" cy="211.1"/>
<circle cx="490.3" cy="211.8"/>
<circle cx="487.4" cy="211.7"/>
<circle cx="487.8" cy="210.9"/>
<circle cx="484.9" cy="212.8"/>
<circle cx="493" cy="211.7"/>
<circle cx="485.2" cy="212.2"/>
<circle cx="500.5" cy="212.7"/>
<circle cx="493" cy="212.1"/>
<circle cx="484.8" cy="212.1"/>
<circle cx="490" cy="210.7"/>
<circle cx="508.2" cy="211.9"/>
<circle cx="485" cy="213.1"/>
<circle cx="487.4" cy="213"/>
<circle cx="490.1" cy="213.2"/>
<circle cx="492.6" cy="211.1"/>
<circle cx="495.3" cy="211.2"/>
<circle cx="482.4" cy="210.8"/>
<circle cx="490.1" cy="211.1"/>
<circle cx="482.5" cy="212.3"/>
<circle cx="503.1" cy="212"/>
<circle cx="505.5" cy="212.7"/>
<circle cx="498.2" cy="213.3"/>
<circle cx="492.9" cy="211.7"/>
<circle cx="487.6" cy="213.6"/>
<circle cx="503" cy="211"/>
<circle cx="495.3" cy="211.4"/>
<circle cx="510.9" cy="211.5"/>
<circle cx="492.6" cy="211"/>
<circle cx="490.2" cy="211.9"/>
<circle cx="487.4" cy="212.2"/>
<circle cx="500.7" cy="211.3"/>
<circle cx="479.7" cy="213.5"/>
<circle cx="505.9" cy="213.6"/>
<circle cx="498" cy="212.6"/>
<circle cx="495.4" cy="213.4"/>
<circle cx="518.1" cy="211"/>
<circle cx="485.2" cy="212.9"/>
<circle cx="495.4" cy="210.9"/>
<circle cx="503" cy="213"/>
<circle cx="523.9" cy="211.5"/>
<circle cx="487.4" cy="211.1"/>
<circle cx="500.5" cy="212.6"/>
<circle cx="492.9" cy="212.6"/>
<circle cx="490.1" cy="211.2"/>
<circle cx="490.2" cy="211.9"/>
<circle cx="495.4" cy="212.6"/>
<circle cx="513.5" cy="211.8"/>
<circle cx="479.6" cy="212.1"/>
<circle cx="487.6" cy="211.4"/>
<circle cx="505.9" cy="211"/>
</g>
<line x1="492.1" y1="206.3" x2="492.1" y2="218.1" stroke="#999" stroke-width="0.6"/>
<line x1="474.5" y1="224" x2="508.2" y2="224" stroke="#a0a0a0" stroke-width="0.6"/>
<rect x="482.2" y="218.1" width="13.6" height="11.8" fill="#e5dbeb" stroke="#cbbbd4" stroke-width="0.6"/>
<g fill="#c0a2cf" stroke="#7a6a84" class="d">
<circle cx="482.7" cy="225"/>
<circle cx="503.9" cy="223.4"/>
<circle cx="480.6" cy="222.6"/>
<circle cx="485.5" cy="225"/>
<circle cx="480.5" cy="224.8"/>
<circle cx="495.7" cy="224.1"/>
<circle cx="493.3" cy="225.3"/>
<circle cx="490.8" cy="222.7"/>
<circle cx="493.3" cy="224"/>
<circle cx="480.5" cy="224.7"/>
<circle cx="498.8" cy="222.6"/>
<circle cx="477.8" cy="222.8"/>
<circle cx="488" cy="224.4"/>
<circle cx="498.6" cy="224.1"/>
<circle cx="485.5" cy="224"/>
<circle cx="501.2" cy="225.1"/>
<circle cx="498.4" cy="222.7"/>
<circle cx="506.5" cy="223.6"/>
<circle cx="501.1" cy="223.8"/>
<circle cx="498.4" cy="223.7"/>
<circle cx="480.6" cy="224.5"/>
<circle cx="490.8" cy="222.6"/>
<circle cx="493.3" cy="224.8"/>
<circle cx="482.8" cy="224.5"/>
<circle cx="475.3" cy="222.6"/>
<circle cx="490.6" cy="222.6"/>
<circle cx="490.9" cy="225.3"/>
<circle cx="495.9" cy="225.1"/>
<circle cx="485.5" cy="224.1"/>
<circle cx="501.1" cy="222.9"/>
<circle cx="506.4" cy="224.8"/>
<circle cx="495.8" cy="224.7"/>
<circle cx="490.8" cy="225.2"/>
<circle cx="477.6" cy="223.5"/>
<circle cx="483.1" cy="222.8"/>
<circle cx="480.2" cy="225.1"/>
<circle cx="496" cy="225.3"/>
<circle cx="482.7" cy="224.7"/>
<circle cx="483.1" cy="224.1"/>
<circle cx="501.3" cy="222.6"/>
<circle cx="493.6" cy="223.9"/>
<circle cx="485.6" cy="225.2"/>
<circle cx="485.6" cy="224.1"/>
<circle cx="480.3" cy="223.8"/>
<circle cx="483.2" cy="224.9"/>
<circle cx="477.7" cy="224.3"/>
<circle cx="488.3" cy="223.9"/>
<circle cx="488.2" cy="225.2"/>
<circle cx="488.3" cy="222.9"/>
<circle cx="483.1" cy="223.9"/>
<circle cx="475" cy="223.6"/>
<circle cx="488.3" cy="224.5"/>
<circle cx="485.6" cy="222.6"/>
<circle cx="480.2" cy="223.4"/>
</g>
<line x1="487.6" y1="218.1" x2="487.6" y2="229.9" stroke="#999" stroke-width="0.6"/>
<path d="M528.6 208.8v3.2M527.2 209.6l2.8 1.6M527.2 211.2l2.8 -1.6" stroke="#2a2a2a" stroke-width="0.75" fill="none"/>
<path d="M532.4 208.8v3.2M531 209.6l2.8 1.6M531 211.2l2.8 -1.6" stroke="#2a2a2a" stroke-width="0.75" fill="none"/>
<path d="M536.1 208.8v3.2M534.7 209.6l2.8 1.6M534.7 211.2l2.8 -1.6" stroke="#2a2a2a" stroke-width="0.75" fill="none"/>
<rect x="463.5" y="189.9" width="104.9" height="44.6" fill="none" stroke="#555" stroke-width="0.95"/>
<line x1="463.5" y1="234.5" x2="463.5" y2="237.1" stroke="#2b2b2b" stroke-width="0.75"/>
<text x="463.5" y="244.9" text-anchor="middle" font-size="8.7" fill="#1a1a1a" textLength="4.7" lengthAdjust="spacingAndGlyphs">0</text>
<line x1="505.4" y1="234.5" x2="505.4" y2="237.1" stroke="#2b2b2b" stroke-width="0.75"/>
<text x="505.4" y="244.9" text-anchor="middle" font-size="8.7" fill="#1a1a1a" textLength="4.7" lengthAdjust="spacingAndGlyphs">2</text>
<line x1="547.2" y1="234.5" x2="547.2" y2="237.1" stroke="#2b2b2b" stroke-width="0.75"/>
<text x="547.2" y="244.9" text-anchor="middle" font-size="8.7" fill="#1a1a1a" textLength="4.7" lengthAdjust="spacingAndGlyphs">4</text>
</g>
<g>
<line x1="476" y1="276.1" x2="503.4" y2="276.1" stroke="#a0a0a0" stroke-width="0.6"/>
<rect x="481.4" y="270.2" width="10.2" height="11.8" fill="#dcf3dc" stroke="#bcd9bc" stroke-width="0.6"/>
<g fill="#a9d9a9" stroke="#6a866a" class="d">
<circle cx="482" cy="274.7"/>
<circle cx="487.5" cy="277.6"/>
<circle cx="482" cy="275.8"/>
<circle cx="479.5" cy="277"/>
<circle cx="482.4" cy="275.5"/>
<circle cx="479.7" cy="276.5"/>
<circle cx="484.6" cy="275.5"/>
<circle cx="477" cy="275.7"/>
<circle cx="513.8" cy="277.5"/>
<circle cx="487.2" cy="276.4"/>
<circle cx="484.6" cy="277.1"/>
<circle cx="479.4" cy="275.2"/>
<circle cx="482.2" cy="276.8"/>
<circle cx="500.5" cy="277.4"/>
<circle cx="479.8" cy="276.9"/>
<circle cx="490.1" cy="276.4"/>
<circle cx="495.4" cy="277"/>
<circle cx="495" cy="276.8"/>
<circle cx="490.2" cy="276.6"/>
<circle cx="482.1" cy="276.3"/>
<circle cx="479.8" cy="275.1"/>
<circle cx="485" cy="277.6"/>
<circle cx="484.7" cy="275.3"/>
<circle cx="484.9" cy="277"/>
<circle cx="479.6" cy="275.8"/>
<circle cx="495.3" cy="276.2"/>
<circle cx="487.3" cy="275.1"/>
<circle cx="497.9" cy="275.7"/>
<circle cx="479.7" cy="276.9"/>
<circle cx="502.9" cy="276.2"/>
<circle cx="489.9" cy="277.1"/>
<circle cx="487.6" cy="276.7"/>
<circle cx="492.4" cy="275.5"/>
<circle cx="482.4" cy="277.1"/>
<circle cx="492.5" cy="274.7"/>
<circle cx="492.5" cy="275.8"/>
<circle cx="484.5" cy="274.9"/>
<circle cx="477" cy="274.7"/>
<circle cx="495.4" cy="275.1"/>
<circle cx="497.8" cy="275.1"/>
<circle cx="490.1" cy="277.3"/>
<circle cx="479.6" cy="276.1"/>
<circle cx="487.4" cy="277.2"/>
<circle cx="489.9" cy="274.8"/>
<circle cx="487.4" cy="275.1"/>
<circle cx="484.8" cy="275.5"/>
<circle cx="479.6" cy="276.7"/>
<circle cx="489.7" cy="275.9"/>
<circle cx="492.7" cy="276.2"/>
<circle cx="495.2" cy="275.8"/>
<circle cx="482.3" cy="277.1"/>
<circle cx="479.8" cy="276.9"/>
<circle cx="487.5" cy="276.4"/>
<circle cx="497.8" cy="276.5"/>
<circle cx="490.2" cy="276"/>
</g>
<line x1="486.5" y1="270.2" x2="486.5" y2="282" stroke="#999" stroke-width="0.6"/>
<line x1="472.8" y1="287.9" x2="498.5" y2="287.9" stroke="#a0a0a0" stroke-width="0.6"/>
<rect x="482.5" y="282" width="10.4" height="11.8" fill="#f7ede1" stroke="#ddcdbb" stroke-width="0.6"/>
<g fill="#ecceab" stroke="#8f7c68" class="d">
<circle cx="494.6" cy="288"/>
<circle cx="494.6" cy="289.4"/>
<circle cx="494.4" cy="288.9"/>
<circle cx="492" cy="287.6"/>
<circle cx="487" cy="289.2"/>
<circle cx="494.6" cy="287.2"/>
<circle cx="479.1" cy="288.4"/>
<circle cx="491.9" cy="288.5"/>
<circle cx="486.7" cy="289"/>
<circle cx="492.1" cy="288.1"/>
<circle cx="489.5" cy="287.4"/>
<circle cx="491.9" cy="289"/>
<circle cx="481.8" cy="286.9"/>
<circle cx="497" cy="286.8"/>
<circle cx="491.8" cy="288"/>
<circle cx="489.3" cy="286.7"/>
<circle cx="489.4" cy="287.9"/>
<circle cx="478.9" cy="287.9"/>
<circle cx="486.9" cy="288.2"/>
<circle cx="481.7" cy="287.9"/>
<circle cx="486.7" cy="287.2"/>
<circle cx="481.7" cy="287.5"/>
<circle cx="478.9" cy="287.8"/>
<circle cx="476.4" cy="289.3"/>
<circle cx="494.8" cy="287.6"/>
<circle cx="489.4" cy="287"/>
<circle cx="484.3" cy="289"/>
<circle cx="489.4" cy="286.6"/>
<circle cx="486.6" cy="289"/>
<circle cx="489.4" cy="289.1"/>
<circle cx="484.2" cy="288.4"/>
<circle cx="481.8" cy="288.2"/>
<circle cx="497.1" cy="288.6"/>
<circle cx="479" cy="289.2"/>
<circle cx="497.1" cy="288.8"/>
<circle cx="476.4" cy="286.6"/>
<circle cx="484" cy="288.3"/>
<circle cx="481.5" cy="286.5"/>
<circle cx="492.2" cy="286.8"/>
<circle cx="492.1" cy="288.6"/>
<circle cx="484" cy="286.5"/>
<circle cx="494.8" cy="287.2"/>
<circle cx="473.5" cy="288.7"/>
<circle cx="489.4" cy="287.9"/>
<circle cx="486.9" cy="287.1"/>
<circle cx="494.5" cy="288.5"/>
<circle cx="484.2" cy="287.8"/>
<circle cx="494.8" cy="286.8"/>
<circle cx="487" cy="286.8"/>
<circle cx="481.4" cy="289.1"/>
<circle cx="508.2" cy="286.7"/>
<circle cx="476.3" cy="288.9"/>
<circle cx="484.3" cy="287.7"/>
<circle cx="506.6" cy="286.7"/>
<circle cx="514.6" cy="287.4"/>
<circle cx="494.7" cy="287.7"/>
<circle cx="491.9" cy="287.8"/>
</g>
<line x1="488.1" y1="282" x2="488.1" y2="293.8" stroke="#999" stroke-width="0.6"/>
<line x1="477.7" y1="299.7" x2="508.2" y2="299.7" stroke="#a0a0a0" stroke-width="0.6"/>
<rect x="484.4" y="293.8" width="12.5" height="11.8" fill="#e5dbeb" stroke="#cbbbd4" stroke-width="0.6"/>
<g fill="#c0a2cf" stroke="#7a6a84" class="d">
<circle cx="504.2" cy="300.7"/>
<circle cx="483.5" cy="298.6"/>
<circle cx="496.4" cy="300.2"/>
<circle cx="501.8" cy="298.9"/>
<circle cx="491.2" cy="298.7"/>
<circle cx="486.1" cy="298.4"/>
<circle cx="483.7" cy="298.3"/>
<circle cx="491.5" cy="300.3"/>
<circle cx="502" cy="299.4"/>
<circle cx="491.5" cy="298.7"/>
<circle cx="483.5" cy="300.8"/>
<circle cx="493.9" cy="300"/>
<circle cx="496.5" cy="298.8"/>
<circle cx="483.8" cy="300.5"/>
<circle cx="489" cy="299.2"/>
<circle cx="501.9" cy="299.5"/>
<circle cx="488.6" cy="300.5"/>
<circle cx="491.4" cy="299.7"/>
<circle cx="496.8" cy="300.4"/>
<circle cx="494.1" cy="301.1"/>
<circle cx="481.1" cy="298.9"/>
<circle cx="478.5" cy="300.3"/>
<circle cx="499.1" cy="299"/>
<circle cx="480.8" cy="299.5"/>
<circle cx="486.1" cy="299.5"/>
<circle cx="483.6" cy="299.6"/>
<circle cx="496.6" cy="299.6"/>
<circle cx="480.9" cy="298.7"/>
<circle cx="478.5" cy="299.2"/>
<circle cx="486" cy="299.6"/>
<circle cx="488.9" cy="298.2"/>
<circle cx="491.2" cy="299.2"/>
<circle cx="486" cy="300.1"/>
<circle cx="496.7" cy="299.1"/>
<circle cx="481" cy="299.1"/>
<circle cx="483.4" cy="298.8"/>
<circle cx="483.8" cy="298.3"/>
<circle cx="501.9" cy="300"/>
<circle cx="486.4" cy="298.5"/>
<circle cx="483.7" cy="300.1"/>
<circle cx="486.3" cy="301"/>
<circle cx="499.3" cy="300.3"/>
<circle cx="494.1" cy="298.4"/>
<circle cx="493.8" cy="300.2"/>
<circle cx="504.4" cy="300"/>
<circle cx="488.6" cy="300.6"/>
<circle cx="506.8" cy="300.7"/>
<circle cx="488.6" cy="299.5"/>
<circle cx="499.3" cy="300.2"/>
<circle cx="493.9" cy="300"/>
<circle cx="488.5" cy="300.8"/>
<circle cx="480.9" cy="299.3"/>
<circle cx="499" cy="299.9"/>
<circle cx="499" cy="299.4"/>
</g>
<line x1="490" y1="293.8" x2="490" y2="305.6" stroke="#999" stroke-width="0.6"/>
<path d="M519.3 284.5v3.2M517.9 285.3l2.8 1.6M517.9 286.9l2.8 -1.6" stroke="#2a2a2a" stroke-width="0.75" fill="none"/>
<path d="M523 284.5v3.2M521.6 285.3l2.8 1.6M521.6 286.9l2.8 -1.6" stroke="#2a2a2a" stroke-width="0.75" fill="none"/>
<rect x="463.5" y="265.6" width="104.9" height="44.6" fill="none" stroke="#555" stroke-width="0.95"/>
<line x1="485.4" y1="310.3" x2="485.4" y2="312.9" stroke="#2b2b2b" stroke-width="0.75"/>
<text x="485.4" y="320.7" text-anchor="middle" font-size="8.7" fill="#1a1a1a" textLength="9.4" lengthAdjust="spacingAndGlyphs">50</text>
<line x1="512.5" y1="310.3" x2="512.5" y2="312.9" stroke="#2b2b2b" stroke-width="0.75"/>
<text x="512.5" y="320.7" text-anchor="middle" font-size="8.7" fill="#1a1a1a" textLength="14.2" lengthAdjust="spacingAndGlyphs">100</text>
<line x1="540" y1="310.3" x2="540" y2="312.9" stroke="#2b2b2b" stroke-width="0.75"/>
<text x="540" y="320.7" text-anchor="middle" font-size="8.7" fill="#1a1a1a" textLength="14.2" lengthAdjust="spacingAndGlyphs">150</text>
<line x1="567.3" y1="310.3" x2="567.3" y2="312.9" stroke="#2b2b2b" stroke-width="0.75"/>
<text x="567.3" y="320.7" text-anchor="middle" font-size="8.7" fill="#1a1a1a" textLength="14.2" lengthAdjust="spacingAndGlyphs">200</text>
</g>
<g>
<line x1="476" y1="351.9" x2="545.1" y2="351.9" stroke="#a0a0a0" stroke-width="0.6"/>
<rect x="499" y="346" width="22.8" height="11.8" fill="#dcf3dc" stroke="#bcd9bc" stroke-width="0.6"/>
<g fill="#a9d9a9" stroke="#6a866a" class="d">
<circle cx="507.8" cy="350.8"/>
<circle cx="500.1" cy="351.6"/>
<circle cx="531.4" cy="353.2"/>
<circle cx="539.1" cy="352.6"/>
<circle cx="520.8" cy="351.3"/>
<circle cx="495.1" cy="351.5"/>
<circle cx="523.5" cy="352.6"/>
<circle cx="536.4" cy="350.7"/>
<circle cx="531.4" cy="352.1"/>
<circle cx="492.3" cy="350.5"/>
<circle cx="505.5" cy="352.7"/>
<circle cx="505.4" cy="350.9"/>
<circle cx="521" cy="351"/>
<circle cx="487" cy="350.8"/>
<circle cx="520.9" cy="350.8"/>
<circle cx="526.1" cy="352.5"/>
<circle cx="526.2" cy="352.6"/>
<circle cx="497.6" cy="352.4"/>
<circle cx="507.9" cy="353.3"/>
<circle cx="518.5" cy="350.7"/>
<circle cx="515.7" cy="352.3"/>
<circle cx="518.5" cy="350.5"/>
<circle cx="492.6" cy="351.5"/>
<circle cx="528.7" cy="351.8"/>
<circle cx="515.7" cy="351.1"/>
<circle cx="510.6" cy="353.2"/>
<circle cx="513.3" cy="352.1"/>
<circle cx="500.2" cy="352.4"/>
<circle cx="484.5" cy="351.1"/>
<circle cx="510.6" cy="350.4"/>
<circle cx="526.2" cy="351.1"/>
<circle cx="502.8" cy="350.4"/>
<circle cx="515.6" cy="351.6"/>
<circle cx="476.8" cy="352.6"/>
<circle cx="502.7" cy="351.1"/>
<circle cx="510.5" cy="351.1"/>
<circle cx="481.8" cy="351.7"/>
<circle cx="518.6" cy="352.4"/>
<circle cx="531.6" cy="351.8"/>
<circle cx="544.4" cy="351"/>
<circle cx="523.7" cy="350.7"/>
<circle cx="513" cy="351.3"/>
<circle cx="497.4" cy="351.9"/>
<circle cx="500" cy="352.6"/>
<circle cx="508.2" cy="351.3"/>
<circle cx="534" cy="352"/>
<circle cx="495.2" cy="350.6"/>
<circle cx="513.4" cy="351.8"/>
<circle cx="502.9" cy="353.3"/>
<circle cx="515.7" cy="351.6"/>
<circle cx="489.9" cy="351.7"/>
<circle cx="492.6" cy="350.7"/>
<circle cx="505.4" cy="351.1"/>
<circle cx="489.7" cy="352.2"/>
</g>
<line x1="511.4" y1="346" x2="511.4" y2="357.8" stroke="#999" stroke-width="0.6"/>
<line x1="482.5" y1="363.7" x2="541.1" y2="363.7" stroke="#a0a0a0" stroke-width="0.6"/>
<rect x="496.5" y="357.8" width="17.8" height="11.8" fill="#f7ede1" stroke="#ddcdbb" stroke-width="0.6"/>
<g fill="#ecceab" stroke="#8f7c68" class="d">
<circle cx="497.4" cy="363.1"/>
<circle cx="489.5" cy="362.6"/>
<circle cx="489.3" cy="363.7"/>
<circle cx="494.6" cy="363.7"/>
<circle cx="523.4" cy="364"/>
<circle cx="500.2" cy="364.5"/>
<circle cx="499.9" cy="364.8"/>
<circle cx="494.7" cy="363.7"/>
<circle cx="520.8" cy="363.4"/>
<circle cx="502.3" cy="363.6"/>
<circle cx="528.3" cy="363.6"/>
<circle cx="523.3" cy="363.4"/>
<circle cx="484.5" cy="364.9"/>
<circle cx="492.3" cy="363.6"/>
<circle cx="525.8" cy="362.8"/>
<circle cx="502.5" cy="363"/>
<circle cx="539" cy="364.7"/>
<circle cx="512.8" cy="362.5"/>
<circle cx="502.5" cy="363.6"/>
<circle cx="494.5" cy="364.5"/>
<circle cx="500.1" cy="363.6"/>
<circle cx="497.5" cy="363.9"/>
<circle cx="492" cy="365"/>
<circle cx="507.5" cy="364.4"/>
<circle cx="531.2" cy="363.2"/>
<circle cx="510.6" cy="364.8"/>
<circle cx="505.3" cy="364.3"/>
<circle cx="500.1" cy="362.5"/>
<circle cx="507.9" cy="363.9"/>
<circle cx="502.7" cy="364.3"/>
<circle cx="500.1" cy="364.3"/>
<circle cx="491.9" cy="363.1"/>
<circle cx="507.8" cy="363.2"/>
<circle cx="489.4" cy="363.5"/>
<circle cx="497.2" cy="362.6"/>
<circle cx="507.9" cy="364.6"/>
<circle cx="515.3" cy="364"/>
<circle cx="505" cy="364.7"/>
<circle cx="494.9" cy="364.1"/>
<circle cx="518.1" cy="363.4"/>
<circle cx="518" cy="363.6"/>
<circle cx="484.1" cy="364.6"/>
<circle cx="515.4" cy="363.3"/>
<circle cx="499.7" cy="364.8"/>
<circle cx="497.2" cy="363.1"/>
<circle cx="492" cy="364.7"/>
<circle cx="497.3" cy="364.6"/>
<circle cx="513.1" cy="363.7"/>
<circle cx="512.7" cy="364.3"/>
<circle cx="505.4" cy="365.1"/>
<circle cx="510.3" cy="365.1"/>
<circle cx="533.8" cy="363.9"/>
<circle cx="526" cy="362.3"/>
<circle cx="521" cy="362.3"/>
</g>
<line x1="502.6" y1="357.8" x2="502.6" y2="369.6" stroke="#999" stroke-width="0.6"/>
<line x1="472.5" y1="375.5" x2="525" y2="375.5" stroke="#a0a0a0" stroke-width="0.6"/>
<rect x="494.2" y="369.6" width="15.6" height="11.8" fill="#e5dbeb" stroke="#cbbbd4" stroke-width="0.6"/>
<g fill="#c0a2cf" stroke="#7a6a84" class="d">
<circle cx="485.2" cy="374.7"/>
<circle cx="497.8" cy="375"/>
<circle cx="508.2" cy="374.2"/>
<circle cx="524.1" cy="375.9"/>
<circle cx="495.2" cy="374.6"/>
<circle cx="495.4" cy="374.8"/>
<circle cx="477" cy="374.6"/>
<circle cx="500.7" cy="376.2"/>
<circle cx="502.9" cy="374"/>
<circle cx="492.6" cy="374.8"/>
<circle cx="487.6" cy="374"/>
<circle cx="497.8" cy="376.9"/>
<circle cx="511.1" cy="376.7"/>
<circle cx="513.5" cy="374.3"/>
<circle cx="484.7" cy="376.4"/>
<circle cx="490.1" cy="375.1"/>
<circle cx="516.1" cy="376.7"/>
<circle cx="497.9" cy="374.2"/>
<circle cx="516.3" cy="376.9"/>
<circle cx="485" cy="376.7"/>
<circle cx="505.7" cy="376.8"/>
<circle cx="521.5" cy="374.7"/>
<circle cx="518.9" cy="376.6"/>
<circle cx="513.4" cy="375.2"/>
<circle cx="510.7" cy="375.3"/>
<circle cx="508.3" cy="374.8"/>
<circle cx="516.1" cy="375.3"/>
<circle cx="500.7" cy="374.6"/>
<circle cx="516" cy="375.9"/>
<circle cx="535.2" cy="375.6"/>
<circle cx="508.2" cy="374.4"/>
<circle cx="511" cy="374.9"/>
<circle cx="492.9" cy="376.6"/>
<circle cx="490.2" cy="376.2"/>
<circle cx="505.5" cy="375.8"/>
<circle cx="500.6" cy="375.8"/>
<circle cx="513.4" cy="376.6"/>
<circle cx="474.3" cy="375.9"/>
<circle cx="508.4" cy="374.3"/>
<circle cx="489.9" cy="376.3"/>
<circle cx="497.8" cy="375.6"/>
<circle cx="503.2" cy="374.7"/>
<circle cx="492.6" cy="376"/>
<circle cx="498" cy="375.5"/>
<circle cx="503.2" cy="374"/>
<circle cx="500.5" cy="374.4"/>
<circle cx="503.4" cy="376"/>
<circle cx="508.1" cy="375.6"/>
<circle cx="497.8" cy="376.2"/>
<circle cx="495.3" cy="375.8"/>
<circle cx="482.5" cy="376.9"/>
<circle cx="500.5" cy="374"/>
<circle cx="495.5" cy="374.8"/>
<circle cx="505.9" cy="375.9"/>
<circle cx="487.4" cy="376.6"/>
</g>
<line x1="500.5" y1="369.6" x2="500.5" y2="381.4" stroke="#999" stroke-width="0.6"/>
<path d="M550.7 360.3v3.2M549.3 361.1l2.8 1.6M549.3 362.7l2.8 -1.6" stroke="#2a2a2a" stroke-width="0.75" fill="none"/>
<path d="M554.4 360.3v3.2M553 361.1l2.8 1.6M553 362.7l2.8 -1.6" stroke="#2a2a2a" stroke-width="0.75" fill="none"/>
<rect x="463.5" y="341.3" width="104.9" height="44.6" fill="none" stroke="#555" stroke-width="0.95"/>
<line x1="480.9" y1="386" x2="480.9" y2="388.6" stroke="#2b2b2b" stroke-width="0.75"/>
<text x="480.9" y="396.4" text-anchor="middle" font-size="8.7" fill="#1a1a1a" textLength="4.7" lengthAdjust="spacingAndGlyphs">5</text>
<line x1="510.1" y1="386" x2="510.1" y2="388.6" stroke="#2b2b2b" stroke-width="0.75"/>
<text x="510.1" y="396.4" text-anchor="middle" font-size="8.7" fill="#1a1a1a" textLength="9.4" lengthAdjust="spacingAndGlyphs">10</text>
<line x1="539.2" y1="386" x2="539.2" y2="388.6" stroke="#2b2b2b" stroke-width="0.75"/>
<text x="539.2" y="396.4" text-anchor="middle" font-size="8.7" fill="#1a1a1a" textLength="9.4" lengthAdjust="spacingAndGlyphs">15</text>
<line x1="567.3" y1="386" x2="567.3" y2="388.6" stroke="#2b2b2b" stroke-width="0.75"/>
<text x="567.3" y="396.4" text-anchor="middle" font-size="8.7" fill="#1a1a1a" textLength="9.4" lengthAdjust="spacingAndGlyphs">20</text>
</g>
<g>
<line x1="467.2" y1="427.6" x2="494.5" y2="427.6" stroke="#a0a0a0" stroke-width="0.6"/>
<rect x="475.3" y="421.7" width="8.8" height="11.8" fill="#dcf3dc" stroke="#bcd9bc" stroke-width="0.6"/>
<g fill="#a9d9a9" stroke="#6a866a" class="d">
<circle cx="482.2" cy="426.9"/>
<circle cx="487.3" cy="427.4"/>
<circle cx="482.1" cy="427.5"/>
<circle cx="484.7" cy="427.4"/>
<circle cx="469.2" cy="428.3"/>
<circle cx="484.5" cy="429"/>
<circle cx="484.6" cy="428.1"/>
<circle cx="469" cy="426.5"/>
<circle cx="477.2" cy="428.8"/>
<circle cx="472" cy="428.5"/>
<circle cx="479.5" cy="427.2"/>
<circle cx="479.8" cy="428.1"/>
<circle cx="479.7" cy="426.5"/>
<circle cx="487.5" cy="427.4"/>
<circle cx="487.5" cy="428.1"/>
<circle cx="482.1" cy="427.6"/>
<circle cx="474.4" cy="428.6"/>
<circle cx="481.9" cy="427.4"/>
<circle cx="474.1" cy="429.1"/>
<circle cx="474.3" cy="428.9"/>
<circle cx="477.1" cy="427.8"/>
<circle cx="474.4" cy="426.7"/>
<circle cx="489.9" cy="429"/>
<circle cx="506.9" cy="428"/>
<circle cx="479.7" cy="428.7"/>
<circle cx="487.2" cy="428.8"/>
<circle cx="477" cy="428.5"/>
<circle cx="492.5" cy="426.9"/>
<circle cx="482.4" cy="429"/>
<circle cx="497.7" cy="428.9"/>
<circle cx="490.1" cy="427.7"/>
<circle cx="477.1" cy="428.3"/>
<circle cx="479.8" cy="428.2"/>
<circle cx="489.9" cy="427.4"/>
<circle cx="474.4" cy="426.2"/>
<circle cx="479.8" cy="428.6"/>
<circle cx="474.6" cy="426.9"/>
<circle cx="471.9" cy="428.7"/>
<circle cx="477" cy="429"/>
<circle cx="469.3" cy="426.3"/>
<circle cx="471.6" cy="428.1"/>
<circle cx="471.5" cy="426.6"/>
<circle cx="479.6" cy="426.5"/>
<circle cx="482.4" cy="427.7"/>
<circle cx="484.7" cy="426.4"/>
<circle cx="477.2" cy="427.3"/>
<circle cx="492.7" cy="428.1"/>
<circle cx="476.8" cy="428"/>
<circle cx="476.8" cy="428.1"/>
<circle cx="487.6" cy="428.2"/>
<circle cx="482" cy="428"/>
<circle cx="479.7" cy="428.2"/>
<circle cx="477" cy="428.6"/>
<circle cx="482.2" cy="427.9"/>
<circle cx="472" cy="426.7"/>
<circle cx="484.9" cy="427.3"/>
</g>
<line x1="479.6" y1="421.7" x2="479.6" y2="433.5" stroke="#999" stroke-width="0.6"/>
<line x1="471.2" y1="439.4" x2="492.9" y2="439.4" stroke="#a0a0a0" stroke-width="0.6"/>
<rect x="476.1" y="433.5" width="9.1" height="11.8" fill="#f7ede1" stroke="#ddcdbb" stroke-width="0.6"/>
<g fill="#ecceab" stroke="#8f7c68" class="d">
<circle cx="482.8" cy="440.7"/>
<circle cx="505" cy="439.9"/>
<circle cx="487.8" cy="437.9"/>
<circle cx="477.2" cy="440.3"/>
<circle cx="482.8" cy="438"/>
<circle cx="492.9" cy="440.6"/>
<circle cx="482.7" cy="439.1"/>
<circle cx="482.7" cy="438.6"/>
<circle cx="474.7" cy="439.5"/>
<circle cx="475" cy="439.4"/>
<circle cx="485.1" cy="440.7"/>
<circle cx="474.7" cy="440.2"/>
<circle cx="472.4" cy="439.1"/>
<circle cx="499" cy="438.4"/>
<circle cx="479.9" cy="440.2"/>
<circle cx="472.4" cy="440.7"/>
<circle cx="477.6" cy="438.6"/>
<circle cx="480" cy="439.1"/>
<circle cx="485" cy="440.5"/>
<circle cx="485" cy="440.4"/>
<circle cx="487.6" cy="440.3"/>
<circle cx="477.5" cy="438.9"/>
<circle cx="479.9" cy="439.5"/>
<circle cx="477.1" cy="438.9"/>
<circle cx="482.7" cy="438.1"/>
<circle cx="482.5" cy="439.9"/>
<circle cx="487.8" cy="439"/>
<circle cx="477.3" cy="440.1"/>
<circle cx="471.9" cy="440.4"/>
<circle cx="482.6" cy="438.6"/>
<circle cx="475" cy="439.9"/>
<circle cx="487.9" cy="438.3"/>
<circle cx="485.2" cy="438.8"/>
<circle cx="490.5" cy="438.8"/>
<circle cx="477.1" cy="438"/>
<circle cx="474.6" cy="438"/>
<circle cx="480.1" cy="438.6"/>
<circle cx="477.2" cy="438.3"/>
<circle cx="485.4" cy="438.4"/>
<circle cx="480" cy="439.2"/>
<circle cx="474.6" cy="439.5"/>
<circle cx="474.6" cy="440"/>
<circle cx="480.1" cy="439.1"/>
<circle cx="487.6" cy="439.5"/>
<circle cx="479.9" cy="437.9"/>
<circle cx="487.6" cy="440.6"/>
<circle cx="490.5" cy="438.7"/>
<circle cx="487.7" cy="440.7"/>
<circle cx="477.4" cy="440.7"/>
<circle cx="474.9" cy="438.8"/>
<circle cx="480.2" cy="440"/>
<circle cx="475" cy="438.8"/>
<circle cx="487.8" cy="440.4"/>
<circle cx="472.1" cy="439.5"/>
<circle cx="477.3" cy="438.8"/>
<circle cx="474.7" cy="438.9"/>
</g>
<line x1="479.6" y1="433.5" x2="479.6" y2="445.3" stroke="#999" stroke-width="0.6"/>
<line x1="469.6" y1="451.2" x2="498.5" y2="451.2" stroke="#a0a0a0" stroke-width="0.6"/>
<rect x="476.1" y="445.3" width="8.8" height="11.8" fill="#e5dbeb" stroke="#cbbbd4" stroke-width="0.6"/>
<g fill="#c0a2cf" stroke="#7a6a84" class="d">
<circle cx="474.8" cy="449.8"/>
<circle cx="490.4" cy="450.4"/>
<circle cx="484.9" cy="452.6"/>
<circle cx="477.3" cy="451"/>
<circle cx="490.1" cy="451.8"/>
<circle cx="471.9" cy="451.4"/>
<circle cx="474.6" cy="452.1"/>
<circle cx="471.8" cy="451.4"/>
<circle cx="479.8" cy="452.2"/>
<circle cx="492.8" cy="450.2"/>
<circle cx="477.4" cy="452.6"/>
<circle cx="490.4" cy="451.7"/>
<circle cx="495.4" cy="452.1"/>
<circle cx="471.9" cy="449.8"/>
<circle cx="477.1" cy="451.2"/>
<circle cx="485.2" cy="451.6"/>
<circle cx="480" cy="450.4"/>
<circle cx="479.7" cy="450.3"/>
<circle cx="482.5" cy="452.6"/>
<circle cx="487.9" cy="451.5"/>
<circle cx="482.2" cy="450.3"/>
<circle cx="497.8" cy="451.3"/>
<circle cx="479.9" cy="450.7"/>
<circle cx="477.2" cy="451.5"/>
<circle cx="482.5" cy="451.2"/>
<circle cx="474.6" cy="450"/>
<circle cx="477.1" cy="452.6"/>
<circle cx="482.2" cy="449.8"/>
<circle cx="474.6" cy="452"/>
<circle cx="487.6" cy="450.4"/>
<circle cx="492.7" cy="450.2"/>
<circle cx="479.8" cy="451.6"/>
<circle cx="485.3" cy="451.8"/>
<circle cx="479.6" cy="451.5"/>
<circle cx="482.4" cy="449.9"/>
<circle cx="480" cy="450.1"/>
<circle cx="477.2" cy="451.2"/>
<circle cx="472.1" cy="451.3"/>
<circle cx="482.4" cy="452.6"/>
<circle cx="485.2" cy="452.7"/>
<circle cx="477" cy="450.6"/>
<circle cx="477.2" cy="450.1"/>
<circle cx="482.5" cy="451.4"/>
<circle cx="469.7" cy="449.8"/>
<circle cx="474.8" cy="451.6"/>
<circle cx="477.3" cy="452.5"/>
<circle cx="474.9" cy="451.3"/>
<circle cx="485.2" cy="450.5"/>
<circle cx="479.7" cy="450.9"/>
<circle cx="474.8" cy="450.5"/>
<circle cx="487.4" cy="451.8"/>
<circle cx="474.6" cy="452.1"/>
<circle cx="490.2" cy="451.4"/>
<circle cx="477.1" cy="450.7"/>
</g>
<line x1="479.6" y1="445.3" x2="479.6" y2="457.1" stroke="#999" stroke-width="0.6"/>
<rect x="463.5" y="417.1" width="104.9" height="44.6" fill="none" stroke="#555" stroke-width="0.95"/>
<line x1="493.4" y1="461.7" x2="493.4" y2="464.3" stroke="#2b2b2b" stroke-width="0.75"/>
<text x="493.4" y="472.1" text-anchor="middle" font-size="8.7" fill="#1a1a1a" textLength="9.4" lengthAdjust="spacingAndGlyphs">10</text>
<line x1="530.3" y1="461.7" x2="530.3" y2="464.3" stroke="#2b2b2b" stroke-width="0.75"/>
<text x="530.3" y="472.1" text-anchor="middle" font-size="8.7" fill="#1a1a1a" textLength="9.4" lengthAdjust="spacingAndGlyphs">20</text>
<line x1="567.3" y1="461.7" x2="567.3" y2="464.3" stroke="#2b2b2b" stroke-width="0.75"/>
<text x="567.3" y="472.1" text-anchor="middle" font-size="8.7" fill="#1a1a1a" textLength="9.4" lengthAdjust="spacingAndGlyphs">30</text>
</g>
<text x="107.2" y="102.8" text-anchor="middle" font-size="8.7" fill="#1a1a1a" textLength="41.4" lengthAdjust="spacingAndGlyphs">HbA1c (%)</text>
<text x="107.7" y="178.5" text-anchor="middle" font-size="8.7" fill="#1a1a1a" textLength="123.1" lengthAdjust="spacingAndGlyphs">Random Blood Glucose (mg/dL)</text>
<text x="107.7" y="254.2" text-anchor="middle" font-size="8.7" fill="#1a1a1a" textLength="47.6" lengthAdjust="spacingAndGlyphs">BMI (kg/m2)</text>
<text x="107.8" y="330" text-anchor="middle" font-size="8.7" fill="#1a1a1a" textLength="124.3" lengthAdjust="spacingAndGlyphs">Systolic Blood Pressure (mmHg)</text>
<text x="107" y="405.7" text-anchor="middle" font-size="8.7" fill="#1a1a1a" textLength="34.8" lengthAdjust="spacingAndGlyphs">Age (yrs)</text>
<text x="107.8" y="481.4" text-anchor="middle" font-size="8.7" fill="#1a1a1a" textLength="75.6" lengthAdjust="spacingAndGlyphs">Biological Age (yrs)</text>
<text x="337.6" y="102.8" text-anchor="middle" font-size="8.7" fill="#1a1a1a" textLength="46.6" lengthAdjust="spacingAndGlyphs">Pulse (bpm)</text>
<text x="337.4" y="178.5" text-anchor="middle" font-size="8.7" fill="#1a1a1a" textLength="94.6" lengthAdjust="spacingAndGlyphs">6 Minute Challenge (mt)</text>
<text x="337.4" y="254.2" text-anchor="middle" font-size="8.7" fill="#1a1a1a" textLength="139" lengthAdjust="spacingAndGlyphs">10 Meter Challenge, Fast Pace (sec)</text>
<text x="338" y="330" text-anchor="middle" font-size="8.7" fill="#1a1a1a" textLength="154.5" lengthAdjust="spacingAndGlyphs">10 Meter Challenge, Comfort Pace (sec)</text>
<text x="337.4" y="405.7" text-anchor="middle" font-size="8.7" fill="#1a1a1a" textLength="149" lengthAdjust="spacingAndGlyphs">30 Sec Chair-Stand Challenge (counts)</text>
<text x="337.4" y="481.4" text-anchor="middle" font-size="8.7" fill="#1a1a1a" textLength="103.5" lengthAdjust="spacingAndGlyphs">Average Daily Step Counts</text>
<text x="567.6" y="102.8" text-anchor="middle" font-size="8.7" fill="#1a1a1a" textLength="231.7" lengthAdjust="spacingAndGlyphs">Left Ventricular Inter Ventricular Septal Thickness (avg, cm)</text>
<text x="567.4" y="178.5" text-anchor="middle" font-size="8.7" fill="#1a1a1a" textLength="117.4" lengthAdjust="spacingAndGlyphs">Left Ventricular Mass (avg, gr)</text>
<text x="568" y="254.2" text-anchor="middle" font-size="8.7" fill="#1a1a1a" textLength="110.9" lengthAdjust="spacingAndGlyphs">Mitral Valve E/A Ratio (cm/s)</text>
<text x="568.2" y="330" text-anchor="middle" font-size="8.7" fill="#1a1a1a" textLength="151.4" lengthAdjust="spacingAndGlyphs">Mitral Valve E/A Ratio peak (avg, cm/s)</text>
<text x="567.9" y="405.7" text-anchor="middle" font-size="8.7" fill="#1a1a1a" textLength="134.8" lengthAdjust="spacingAndGlyphs">Septal Peak e' Velocity (avg, cm/s)</text>
<text x="568.1" y="481.4" text-anchor="middle" font-size="8.7" fill="#1a1a1a" textLength="119.7" lengthAdjust="spacingAndGlyphs">Mitral Valve Average E/e' Ratio</text>
<text x="55.6" y="34.7" text-anchor="middle" font-size="9.8" fill="#1a1a1a" textLength="22.6" lengthAdjust="spacingAndGlyphs">male</text>
<text x="160.9" y="34.7" text-anchor="middle" font-size="9.8" fill="#1a1a1a" textLength="31.5" lengthAdjust="spacingAndGlyphs">female</text>
<text x="285.9" y="34.7" text-anchor="middle" font-size="9.8" fill="#1a1a1a" textLength="22.6" lengthAdjust="spacingAndGlyphs">male</text>
<text x="390.6" y="34.7" text-anchor="middle" font-size="9.8" fill="#1a1a1a" textLength="31.5" lengthAdjust="spacingAndGlyphs">female</text>
<text x="516" y="34.7" text-anchor="middle" font-size="9.8" fill="#1a1a1a" textLength="22.6" lengthAdjust="spacingAndGlyphs">male</text>
<text x="620.8" y="34.7" text-anchor="middle" font-size="9.8" fill="#1a1a1a" textLength="31.5" lengthAdjust="spacingAndGlyphs">female</text>
<text x="116" y="26.7" text-anchor="middle" font-size="9.8" fill="#1a1a1a" textLength="44.6" lengthAdjust="spacingAndGlyphs">Metabolic</text>
<text x="346.1" y="26.7" text-anchor="middle" font-size="9.8" fill="#1a1a1a" textLength="37.4" lengthAdjust="spacingAndGlyphs">Physical</text>
<text x="576.4" y="26.7" text-anchor="middle" font-size="9.8" fill="#1a1a1a" textLength="22.6" lengthAdjust="spacingAndGlyphs">Echo</text>
<text transform="translate(16.1 18.9) scale(0.92 1)" font-size="25" font-weight="bold" fill="#000">a</text>
<text x="239.6" y="18.9" font-size="25" font-weight="bold" fill="#000">b</text>
<text x="457.4" y="18.9" font-size="25" font-weight="bold" fill="#000">c</text>
<text x="103.2" y="504.2" text-anchor="middle" font-size="8.7" fill="#1a1a1a" textLength="27" lengthAdjust="spacingAndGlyphs">Cluster</text>
<circle cx="11.6" cy="512" r="1.1" fill="#a9d9a9" stroke="#6a866a" stroke-width="0.3" stroke-opacity="0.5"/>
<text x="26.5" y="514.8" font-size="8.7" fill="#1a1a1a" textLength="37" lengthAdjust="spacingAndGlyphs">Norm-like</text>
<circle cx="78.7" cy="512" r="1.1" fill="#ecceab" stroke="#8f7c68" stroke-width="0.3" stroke-opacity="0.5"/>
<text x="93.7" y="514.8" font-size="8.7" fill="#1a1a1a" textLength="49.4" lengthAdjust="spacingAndGlyphs">Intermediate</text>
<circle cx="158.7" cy="512" r="1.1" fill="#c0a2cf" stroke="#7a6a84" stroke-width="0.3" stroke-opacity="0.5"/>
<text x="173.4" y="514.8" font-size="8.7" fill="#1a1a1a" textLength="28" lengthAdjust="spacingAndGlyphs">DM-like</text>
</svg>
</body></html>
